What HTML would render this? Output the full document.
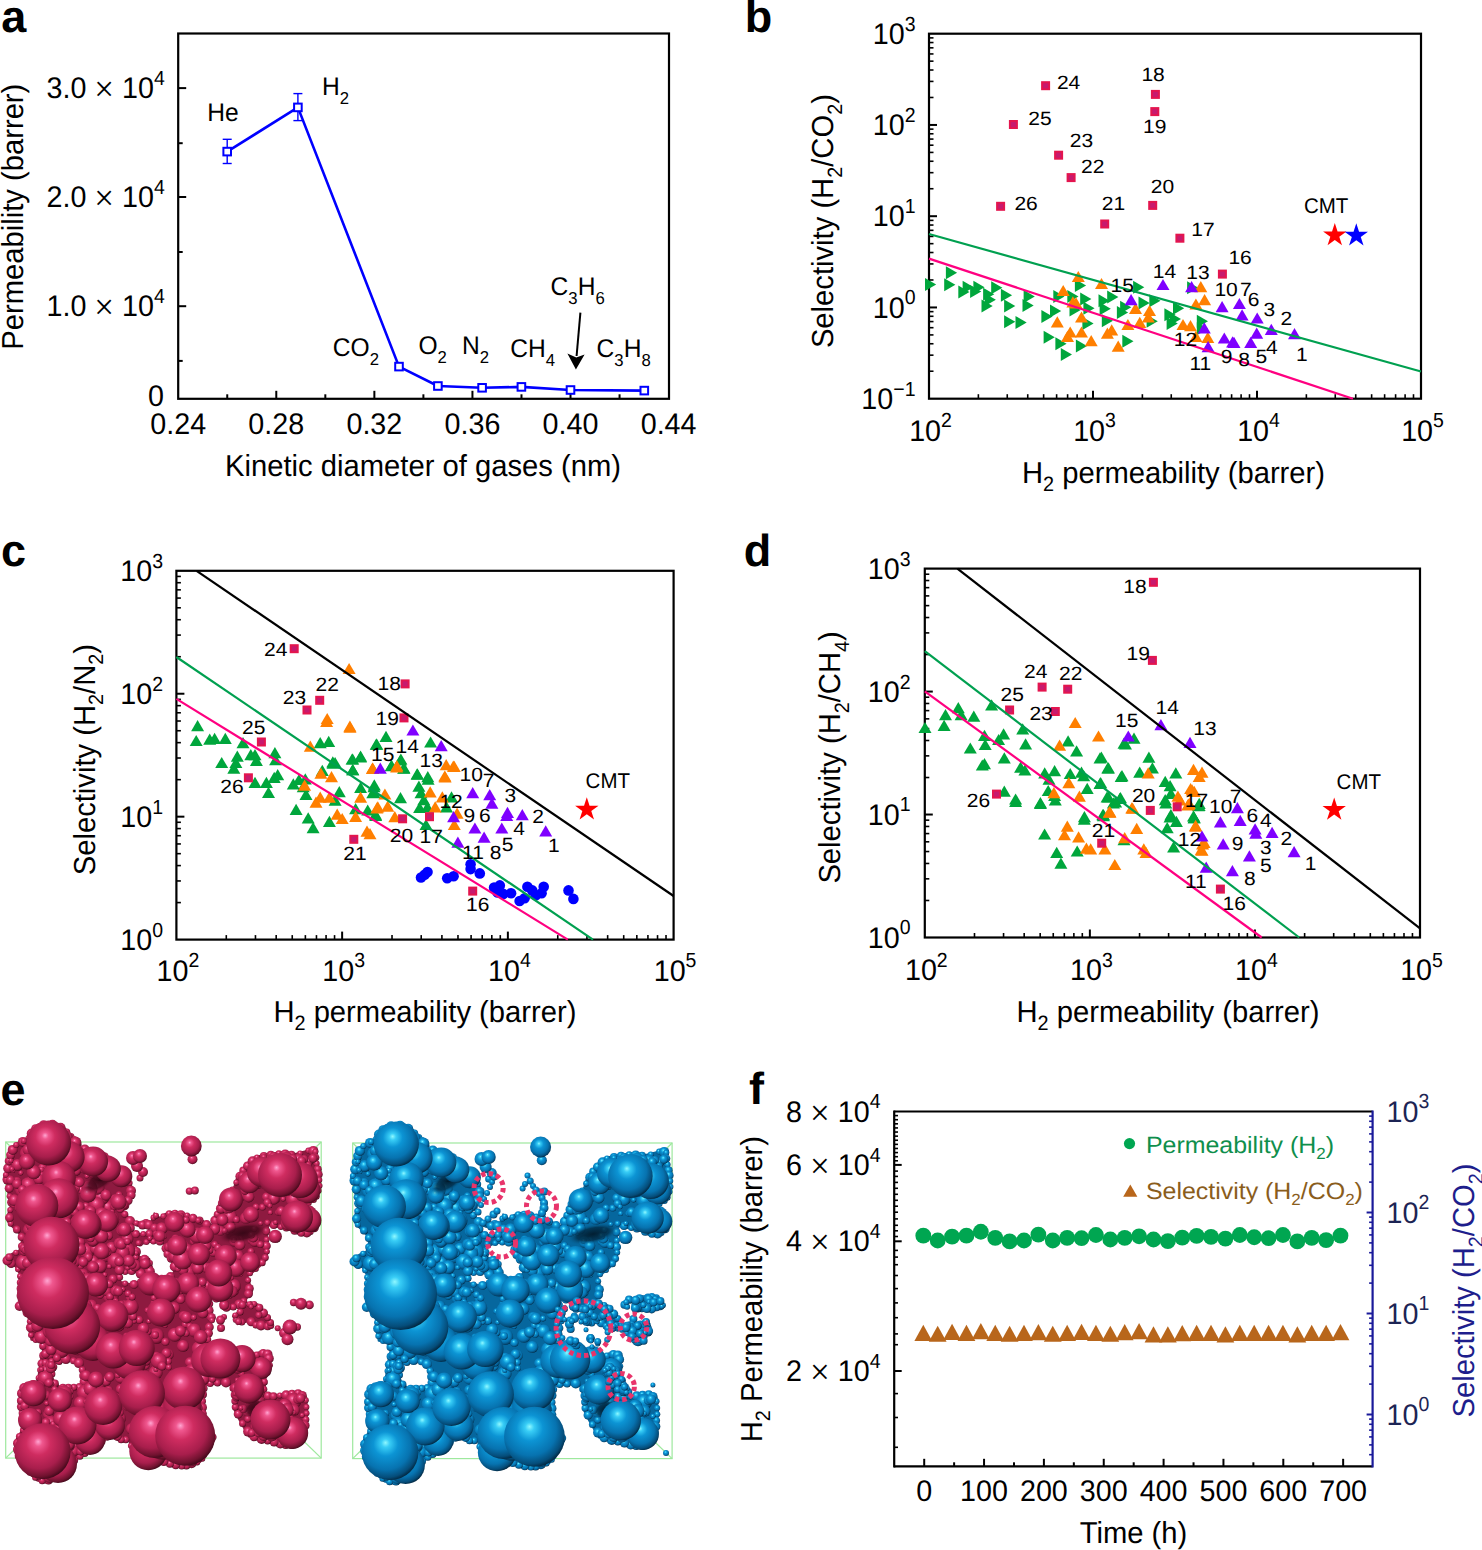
<!DOCTYPE html>
<html><head><meta charset="utf-8"><style>
html,body{margin:0;padding:0;background:#fff;overflow:hidden;}
svg{display:block;}
text{font-family:"Liberation Sans", sans-serif;text-rendering:geometricPrecision;}
</style></head><body>
<svg width="1482" height="1550" viewBox="0 0 1482 1550">
<text transform="translate(1.30,31.50)" font-size="45" fill="#000" text-anchor="start" font-weight="bold" ><tspan>a</tspan></text>
<text transform="translate(744.80,31.50)" font-size="45" fill="#000" text-anchor="start" font-weight="bold" ><tspan>b</tspan></text>
<text transform="translate(1.00,566.30)" font-size="45" fill="#000" text-anchor="start" font-weight="bold" ><tspan>c</tspan></text>
<text transform="translate(743.80,566.30)" font-size="45" fill="#000" text-anchor="start" font-weight="bold" ><tspan>d</tspan></text>
<text transform="translate(0.50,1105.40)" font-size="45" fill="#000" text-anchor="start" font-weight="bold" ><tspan>e</tspan></text>
<text transform="translate(749.00,1104.30)" font-size="45" fill="#000" text-anchor="start" font-weight="bold" ><tspan>f</tspan></text>
<rect x="178.20" y="33.50" width="490.80" height="365.30" fill="none" stroke="#000" stroke-width="2.2"/>
<line x1="227.24" y1="398.80" x2="227.24" y2="394.30" stroke="#000" stroke-width="2" />
<line x1="276.28" y1="398.80" x2="276.28" y2="390.80" stroke="#000" stroke-width="2" />
<line x1="325.32" y1="398.80" x2="325.32" y2="394.30" stroke="#000" stroke-width="2" />
<line x1="374.36" y1="398.80" x2="374.36" y2="390.80" stroke="#000" stroke-width="2" />
<line x1="423.40" y1="398.80" x2="423.40" y2="394.30" stroke="#000" stroke-width="2" />
<line x1="472.44" y1="398.80" x2="472.44" y2="390.80" stroke="#000" stroke-width="2" />
<line x1="521.48" y1="398.80" x2="521.48" y2="394.30" stroke="#000" stroke-width="2" />
<line x1="570.52" y1="398.80" x2="570.52" y2="390.80" stroke="#000" stroke-width="2" />
<line x1="619.56" y1="398.80" x2="619.56" y2="394.30" stroke="#000" stroke-width="2" />
<line x1="178.20" y1="88.10" x2="186.20" y2="88.10" stroke="#000" stroke-width="2" />
<line x1="178.20" y1="143.20" x2="182.70" y2="143.20" stroke="#000" stroke-width="2" />
<line x1="178.20" y1="197.00" x2="186.20" y2="197.00" stroke="#000" stroke-width="2" />
<line x1="178.20" y1="252.00" x2="182.70" y2="252.00" stroke="#000" stroke-width="2" />
<line x1="178.20" y1="306.20" x2="186.20" y2="306.20" stroke="#000" stroke-width="2" />
<line x1="178.20" y1="360.90" x2="182.70" y2="360.90" stroke="#000" stroke-width="2" />
<text transform="translate(46.50,98.10) scale(0.962,1)" font-size="29.82" fill="#000" text-anchor="start" ><tspan>3.0 </tspan><tspan dy="3.13" font-size="36.38" style="font-family:Liberation Serif">×</tspan><tspan dy="-3.13"> 10</tspan><tspan dy="-13.27" font-size="20.28">4</tspan></text>
<text transform="translate(46.50,207.00) scale(0.962,1)" font-size="29.82" fill="#000" text-anchor="start" ><tspan>2.0 </tspan><tspan dy="3.13" font-size="36.38" style="font-family:Liberation Serif">×</tspan><tspan dy="-3.13"> 10</tspan><tspan dy="-13.27" font-size="20.28">4</tspan></text>
<text transform="translate(46.50,316.20) scale(0.962,1)" font-size="29.82" fill="#000" text-anchor="start" ><tspan>1.0 </tspan><tspan dy="3.13" font-size="36.38" style="font-family:Liberation Serif">×</tspan><tspan dy="-3.13"> 10</tspan><tspan dy="-13.27" font-size="20.28">4</tspan></text>
<text transform="translate(148.00,405.50) scale(0.962,1)" font-size="29.82" fill="#000" text-anchor="start" ><tspan>0</tspan></text>
<text transform="translate(178.20,434.40) scale(0.962,1)" font-size="29.82" fill="#000" text-anchor="middle" ><tspan>0.24</tspan></text>
<text transform="translate(276.28,434.40) scale(0.962,1)" font-size="29.82" fill="#000" text-anchor="middle" ><tspan>0.28</tspan></text>
<text transform="translate(374.36,434.40) scale(0.962,1)" font-size="29.82" fill="#000" text-anchor="middle" ><tspan>0.32</tspan></text>
<text transform="translate(472.44,434.40) scale(0.962,1)" font-size="29.82" fill="#000" text-anchor="middle" ><tspan>0.36</tspan></text>
<text transform="translate(570.52,434.40) scale(0.962,1)" font-size="29.82" fill="#000" text-anchor="middle" ><tspan>0.40</tspan></text>
<text transform="translate(668.60,434.40) scale(0.962,1)" font-size="29.82" fill="#000" text-anchor="middle" ><tspan>0.44</tspan></text>
<text transform="translate(423.00,476.00) scale(0.962,1)" font-size="30.3525" fill="#000" text-anchor="middle" ><tspan>Kinetic diameter of gases (nm)</tspan></text>
<text transform="translate(22.80,216.70) rotate(-90) scale(0.962,1)" font-size="30.3525" fill="#000" text-anchor="middle" ><tspan>Permeability (barrer)</tspan></text>
<polyline points="227.2,151.6 297.9,107.4 399.0,366.6 437.9,386.0 482.1,387.8 521.4,386.9 570.5,390.0 644.3,390.6" fill="none" stroke="#0000ff" stroke-width="2.6" stroke-linejoin="round"/>
<line x1="227.20" y1="139.30" x2="227.20" y2="163.50" stroke="#0000ff" stroke-width="1.4" />
<line x1="222.70" y1="139.30" x2="231.70" y2="139.30" stroke="#0000ff" stroke-width="1.4" />
<line x1="222.70" y1="163.50" x2="231.70" y2="163.50" stroke="#0000ff" stroke-width="1.4" />
<line x1="297.90" y1="93.60" x2="297.90" y2="120.60" stroke="#0000ff" stroke-width="1.4" />
<line x1="293.40" y1="93.60" x2="302.40" y2="93.60" stroke="#0000ff" stroke-width="1.4" />
<line x1="293.40" y1="120.60" x2="302.40" y2="120.60" stroke="#0000ff" stroke-width="1.4" />
<rect x="223.40" y="147.80" width="7.6" height="7.6" fill="#fff" stroke="#0000ff" stroke-width="2"/>
<rect x="294.10" y="103.60" width="7.6" height="7.6" fill="#fff" stroke="#0000ff" stroke-width="2"/>
<rect x="395.20" y="362.80" width="7.6" height="7.6" fill="#fff" stroke="#0000ff" stroke-width="2"/>
<rect x="434.10" y="382.20" width="7.6" height="7.6" fill="#fff" stroke="#0000ff" stroke-width="2"/>
<rect x="478.30" y="384.00" width="7.6" height="7.6" fill="#fff" stroke="#0000ff" stroke-width="2"/>
<rect x="517.60" y="383.10" width="7.6" height="7.6" fill="#fff" stroke="#0000ff" stroke-width="2"/>
<rect x="566.70" y="386.20" width="7.6" height="7.6" fill="#fff" stroke="#0000ff" stroke-width="2"/>
<rect x="640.50" y="386.80" width="7.6" height="7.6" fill="#fff" stroke="#0000ff" stroke-width="2"/>
<text transform="translate(207.20,120.60) scale(0.962,1)" font-size="25.56" fill="#000" text-anchor="start" ><tspan>He</tspan></text>
<text transform="translate(322.10,94.90) scale(0.962,1)" font-size="25.56" fill="#000" text-anchor="start" ><tspan>H</tspan><tspan dy="8.95" font-size="17.38">2</tspan></text>
<text transform="translate(332.80,356.30) scale(0.962,1)" font-size="25.56" fill="#000" text-anchor="start" ><tspan>CO</tspan><tspan dy="8.95" font-size="17.38">2</tspan></text>
<text transform="translate(418.40,354.00) scale(0.962,1)" font-size="25.56" fill="#000" text-anchor="start" ><tspan>O</tspan><tspan dy="8.95" font-size="17.38">2</tspan></text>
<text transform="translate(462.00,354.00) scale(0.962,1)" font-size="25.56" fill="#000" text-anchor="start" ><tspan>N</tspan><tspan dy="8.95" font-size="17.38">2</tspan></text>
<text transform="translate(510.20,357.00) scale(0.962,1)" font-size="25.56" fill="#000" text-anchor="start" ><tspan>CH</tspan><tspan dy="8.95" font-size="17.38">4</tspan></text>
<text transform="translate(596.60,357.00) scale(0.962,1)" font-size="25.56" fill="#000" text-anchor="start" ><tspan>C</tspan><tspan dy="8.95" font-size="17.38">3</tspan><tspan dy="-8.95">H</tspan><tspan dy="8.95" font-size="17.38">8</tspan></text>
<text transform="translate(550.60,295.40) scale(0.962,1)" font-size="25.56" fill="#000" text-anchor="start" ><tspan>C</tspan><tspan dy="8.95" font-size="17.38">3</tspan><tspan dy="-8.95">H</tspan><tspan dy="8.95" font-size="17.38">6</tspan></text>
<line x1="580.40" y1="312.60" x2="576.60" y2="356.00" stroke="#000" stroke-width="2" />
<path d="M575.9,369.5 L567.4,353.5 L576.3,357.5 L584.6,354.5 Z" fill="#000"/>
<rect x="929.00" y="33.70" width="492.00" height="365.00" fill="none" stroke="#000" stroke-width="2.2"/>
<line x1="978.37" y1="398.70" x2="978.37" y2="394.20" stroke="#000" stroke-width="1.6" />
<line x1="1007.25" y1="398.70" x2="1007.25" y2="394.20" stroke="#000" stroke-width="1.6" />
<line x1="1027.74" y1="398.70" x2="1027.74" y2="394.20" stroke="#000" stroke-width="1.6" />
<line x1="1043.63" y1="398.70" x2="1043.63" y2="394.20" stroke="#000" stroke-width="1.6" />
<line x1="1056.62" y1="398.70" x2="1056.62" y2="394.20" stroke="#000" stroke-width="1.6" />
<line x1="1067.60" y1="398.70" x2="1067.60" y2="394.20" stroke="#000" stroke-width="1.6" />
<line x1="1077.11" y1="398.70" x2="1077.11" y2="394.20" stroke="#000" stroke-width="1.6" />
<line x1="1085.50" y1="398.70" x2="1085.50" y2="394.20" stroke="#000" stroke-width="1.6" />
<line x1="1093.00" y1="398.70" x2="1093.00" y2="390.70" stroke="#000" stroke-width="2" />
<line x1="1142.37" y1="398.70" x2="1142.37" y2="394.20" stroke="#000" stroke-width="1.6" />
<line x1="1171.25" y1="398.70" x2="1171.25" y2="394.20" stroke="#000" stroke-width="1.6" />
<line x1="1191.74" y1="398.70" x2="1191.74" y2="394.20" stroke="#000" stroke-width="1.6" />
<line x1="1207.63" y1="398.70" x2="1207.63" y2="394.20" stroke="#000" stroke-width="1.6" />
<line x1="1220.62" y1="398.70" x2="1220.62" y2="394.20" stroke="#000" stroke-width="1.6" />
<line x1="1231.60" y1="398.70" x2="1231.60" y2="394.20" stroke="#000" stroke-width="1.6" />
<line x1="1241.11" y1="398.70" x2="1241.11" y2="394.20" stroke="#000" stroke-width="1.6" />
<line x1="1249.50" y1="398.70" x2="1249.50" y2="394.20" stroke="#000" stroke-width="1.6" />
<line x1="1257.00" y1="398.70" x2="1257.00" y2="390.70" stroke="#000" stroke-width="2" />
<line x1="1306.37" y1="398.70" x2="1306.37" y2="394.20" stroke="#000" stroke-width="1.6" />
<line x1="1335.25" y1="398.70" x2="1335.25" y2="394.20" stroke="#000" stroke-width="1.6" />
<line x1="1355.74" y1="398.70" x2="1355.74" y2="394.20" stroke="#000" stroke-width="1.6" />
<line x1="1371.63" y1="398.70" x2="1371.63" y2="394.20" stroke="#000" stroke-width="1.6" />
<line x1="1384.62" y1="398.70" x2="1384.62" y2="394.20" stroke="#000" stroke-width="1.6" />
<line x1="1395.60" y1="398.70" x2="1395.60" y2="394.20" stroke="#000" stroke-width="1.6" />
<line x1="1405.11" y1="398.70" x2="1405.11" y2="394.20" stroke="#000" stroke-width="1.6" />
<line x1="1413.50" y1="398.70" x2="1413.50" y2="394.20" stroke="#000" stroke-width="1.6" />
<line x1="929.00" y1="371.23" x2="933.50" y2="371.23" stroke="#000" stroke-width="1.6" />
<line x1="929.00" y1="355.16" x2="933.50" y2="355.16" stroke="#000" stroke-width="1.6" />
<line x1="929.00" y1="343.76" x2="933.50" y2="343.76" stroke="#000" stroke-width="1.6" />
<line x1="929.00" y1="334.92" x2="933.50" y2="334.92" stroke="#000" stroke-width="1.6" />
<line x1="929.00" y1="327.69" x2="933.50" y2="327.69" stroke="#000" stroke-width="1.6" />
<line x1="929.00" y1="321.58" x2="933.50" y2="321.58" stroke="#000" stroke-width="1.6" />
<line x1="929.00" y1="316.29" x2="933.50" y2="316.29" stroke="#000" stroke-width="1.6" />
<line x1="929.00" y1="311.63" x2="933.50" y2="311.63" stroke="#000" stroke-width="1.6" />
<line x1="929.00" y1="307.45" x2="937.00" y2="307.45" stroke="#000" stroke-width="2" />
<line x1="929.00" y1="279.98" x2="933.50" y2="279.98" stroke="#000" stroke-width="1.6" />
<line x1="929.00" y1="263.91" x2="933.50" y2="263.91" stroke="#000" stroke-width="1.6" />
<line x1="929.00" y1="252.51" x2="933.50" y2="252.51" stroke="#000" stroke-width="1.6" />
<line x1="929.00" y1="243.67" x2="933.50" y2="243.67" stroke="#000" stroke-width="1.6" />
<line x1="929.00" y1="236.44" x2="933.50" y2="236.44" stroke="#000" stroke-width="1.6" />
<line x1="929.00" y1="230.33" x2="933.50" y2="230.33" stroke="#000" stroke-width="1.6" />
<line x1="929.00" y1="225.04" x2="933.50" y2="225.04" stroke="#000" stroke-width="1.6" />
<line x1="929.00" y1="220.38" x2="933.50" y2="220.38" stroke="#000" stroke-width="1.6" />
<line x1="929.00" y1="216.20" x2="937.00" y2="216.20" stroke="#000" stroke-width="2" />
<line x1="929.00" y1="188.73" x2="933.50" y2="188.73" stroke="#000" stroke-width="1.6" />
<line x1="929.00" y1="172.66" x2="933.50" y2="172.66" stroke="#000" stroke-width="1.6" />
<line x1="929.00" y1="161.26" x2="933.50" y2="161.26" stroke="#000" stroke-width="1.6" />
<line x1="929.00" y1="152.42" x2="933.50" y2="152.42" stroke="#000" stroke-width="1.6" />
<line x1="929.00" y1="145.19" x2="933.50" y2="145.19" stroke="#000" stroke-width="1.6" />
<line x1="929.00" y1="139.08" x2="933.50" y2="139.08" stroke="#000" stroke-width="1.6" />
<line x1="929.00" y1="133.79" x2="933.50" y2="133.79" stroke="#000" stroke-width="1.6" />
<line x1="929.00" y1="129.13" x2="933.50" y2="129.13" stroke="#000" stroke-width="1.6" />
<line x1="929.00" y1="124.95" x2="937.00" y2="124.95" stroke="#000" stroke-width="2" />
<line x1="929.00" y1="97.48" x2="933.50" y2="97.48" stroke="#000" stroke-width="1.6" />
<line x1="929.00" y1="81.41" x2="933.50" y2="81.41" stroke="#000" stroke-width="1.6" />
<line x1="929.00" y1="70.01" x2="933.50" y2="70.01" stroke="#000" stroke-width="1.6" />
<line x1="929.00" y1="61.17" x2="933.50" y2="61.17" stroke="#000" stroke-width="1.6" />
<line x1="929.00" y1="53.94" x2="933.50" y2="53.94" stroke="#000" stroke-width="1.6" />
<line x1="929.00" y1="47.83" x2="933.50" y2="47.83" stroke="#000" stroke-width="1.6" />
<line x1="929.00" y1="42.54" x2="933.50" y2="42.54" stroke="#000" stroke-width="1.6" />
<line x1="929.00" y1="37.88" x2="933.50" y2="37.88" stroke="#000" stroke-width="1.6" />
<text transform="translate(915.50,408.90) scale(0.962,1)" font-size="29.82" fill="#000" text-anchor="end" ><tspan>10</tspan><tspan dy="-13.27" font-size="20.28">−1</tspan></text>
<text transform="translate(915.50,317.65) scale(0.962,1)" font-size="29.82" fill="#000" text-anchor="end" ><tspan>10</tspan><tspan dy="-13.27" font-size="20.28">0</tspan></text>
<text transform="translate(915.50,226.40) scale(0.962,1)" font-size="29.82" fill="#000" text-anchor="end" ><tspan>10</tspan><tspan dy="-13.27" font-size="20.28">1</tspan></text>
<text transform="translate(915.50,135.15) scale(0.962,1)" font-size="29.82" fill="#000" text-anchor="end" ><tspan>10</tspan><tspan dy="-13.27" font-size="20.28">2</tspan></text>
<text transform="translate(915.50,43.90) scale(0.962,1)" font-size="29.82" fill="#000" text-anchor="end" ><tspan>10</tspan><tspan dy="-13.27" font-size="20.28">3</tspan></text>
<text transform="translate(930.50,440.50) scale(0.962,1)" font-size="29.82" fill="#000" text-anchor="middle" ><tspan>10</tspan><tspan dy="-13.27" font-size="20.28">2</tspan></text>
<text transform="translate(1094.50,440.50) scale(0.962,1)" font-size="29.82" fill="#000" text-anchor="middle" ><tspan>10</tspan><tspan dy="-13.27" font-size="20.28">3</tspan></text>
<text transform="translate(1258.50,440.50) scale(0.962,1)" font-size="29.82" fill="#000" text-anchor="middle" ><tspan>10</tspan><tspan dy="-13.27" font-size="20.28">4</tspan></text>
<text transform="translate(1422.50,440.50) scale(0.962,1)" font-size="29.82" fill="#000" text-anchor="middle" ><tspan>10</tspan><tspan dy="-13.27" font-size="20.28">5</tspan></text>
<text transform="translate(1173.50,482.50) scale(0.962,1)" font-size="30.3525" fill="#000" text-anchor="middle" ><tspan>H</tspan><tspan dy="8.50" font-size="20.64">2</tspan><tspan dy="-8.50"> permeability (barrer)</tspan></text>
<text transform="translate(833.40,221.10) rotate(-90) scale(0.962,1)" font-size="30.3525" fill="#000" text-anchor="middle" ><tspan>Selectivity (H</tspan><tspan dy="8.50" font-size="20.64">2</tspan><tspan dy="-8.50">/CO</tspan><tspan dy="8.50" font-size="20.64">2</tspan><tspan dy="-8.50">)</tspan></text>
<path d="M925.00,278.00L925.00,291.00L936.20,284.50Z" fill="#00a63c"/>
<path d="M945.90,266.20L945.90,279.20L957.10,272.70Z" fill="#00a63c"/>
<path d="M944.20,278.30L944.20,291.30L955.40,284.80Z" fill="#00a63c"/>
<path d="M958.30,285.60L958.30,298.60L969.50,292.10Z" fill="#00a63c"/>
<path d="M962.60,280.70L962.60,293.70L973.80,287.20Z" fill="#00a63c"/>
<path d="M970.10,285.10L970.10,298.10L981.30,291.60Z" fill="#00a63c"/>
<path d="M973.40,280.70L973.40,293.70L984.60,287.20Z" fill="#00a63c"/>
<path d="M983.10,287.80L983.10,300.80L994.30,294.30Z" fill="#00a63c"/>
<path d="M981.50,299.60L981.50,312.60L992.70,306.10Z" fill="#00a63c"/>
<path d="M991.20,281.30L991.20,294.30L1002.40,287.80Z" fill="#00a63c"/>
<path d="M984.70,293.20L984.70,306.20L995.90,299.70Z" fill="#00a63c"/>
<path d="M1000.90,288.80L1000.90,301.80L1012.10,295.30Z" fill="#00a63c"/>
<path d="M1004.10,299.60L1004.10,312.60L1015.30,306.10Z" fill="#00a63c"/>
<path d="M1023.60,289.90L1023.60,302.90L1034.80,296.40Z" fill="#00a63c"/>
<path d="M1022.50,299.10L1022.50,312.10L1033.70,305.60Z" fill="#00a63c"/>
<path d="M1004.10,315.30L1004.10,328.30L1015.30,321.80Z" fill="#00a63c"/>
<path d="M1015.50,316.00L1015.50,329.00L1026.70,322.50Z" fill="#00a63c"/>
<path d="M1053.30,289.90L1053.30,302.90L1064.50,296.40Z" fill="#00a63c"/>
<path d="M1050.00,304.50L1050.00,317.50L1061.20,311.00Z" fill="#00a63c"/>
<path d="M1041.40,309.90L1041.40,322.90L1052.60,316.40Z" fill="#00a63c"/>
<path d="M1043.60,330.70L1043.60,343.70L1054.80,337.20Z" fill="#00a63c"/>
<path d="M1055.40,337.20L1055.40,350.20L1066.60,343.70Z" fill="#00a63c"/>
<path d="M1060.80,348.00L1060.80,361.00L1072.00,354.50Z" fill="#00a63c"/>
<path d="M1067.30,289.90L1067.30,302.90L1078.50,296.40Z" fill="#00a63c"/>
<path d="M1069.50,303.40L1069.50,316.40L1080.70,309.90Z" fill="#00a63c"/>
<path d="M1074.90,279.10L1074.90,292.10L1086.10,285.60Z" fill="#00a63c"/>
<path d="M1075.90,339.60L1075.90,352.60L1087.10,346.10Z" fill="#00a63c"/>
<path d="M1080.20,292.60L1080.20,305.60L1091.40,299.10Z" fill="#00a63c"/>
<path d="M1083.40,301.80L1083.40,314.80L1094.60,308.30Z" fill="#00a63c"/>
<path d="M1082.40,316.90L1082.40,329.90L1093.60,323.40Z" fill="#00a63c"/>
<path d="M1098.50,294.20L1098.50,307.20L1109.70,300.70Z" fill="#00a63c"/>
<path d="M1107.20,290.50L1107.20,303.50L1118.40,297.00Z" fill="#00a63c"/>
<path d="M1099.60,302.30L1099.60,315.30L1110.80,308.80Z" fill="#00a63c"/>
<path d="M1101.80,314.20L1101.80,327.20L1113.00,320.70Z" fill="#00a63c"/>
<path d="M1116.90,306.10L1116.90,319.10L1128.10,312.60Z" fill="#00a63c"/>
<path d="M1120.10,300.70L1120.10,313.70L1131.30,307.20Z" fill="#00a63c"/>
<path d="M1122.30,334.70L1122.30,347.70L1133.50,341.20Z" fill="#00a63c"/>
<path d="M1133.10,280.70L1133.10,293.70L1144.30,287.20Z" fill="#00a63c"/>
<path d="M1138.50,296.40L1138.50,309.40L1149.70,302.90Z" fill="#00a63c"/>
<path d="M1146.60,314.80L1146.60,327.80L1157.80,321.30Z" fill="#00a63c"/>
<path d="M1149.30,294.20L1149.30,307.20L1160.50,300.70Z" fill="#00a63c"/>
<path d="M1164.40,308.30L1164.40,321.30L1175.60,314.80Z" fill="#00a63c"/>
<path d="M1166.60,316.90L1166.60,329.90L1177.80,323.40Z" fill="#00a63c"/>
<path d="M1169.80,312.60L1169.80,325.60L1181.00,319.10Z" fill="#00a63c"/>
<path d="M1173.00,301.80L1173.00,314.80L1184.20,308.30Z" fill="#00a63c"/>
<path d="M1196.80,314.80L1196.80,327.80L1208.00,321.30Z" fill="#00a63c"/>
<path d="M1196.80,322.30L1196.80,335.30L1208.00,328.80Z" fill="#00a63c"/>
<path d="M1187.10,281.30L1187.10,294.30L1198.30,287.80Z" fill="#00a63c"/>
<path d="M1071.80,282.10L1084.80,282.10L1078.30,270.90Z" fill="#ff7f00"/>
<path d="M1056.70,296.10L1069.70,296.10L1063.20,284.90Z" fill="#ff7f00"/>
<path d="M1066.40,307.40L1079.40,307.40L1072.90,296.20Z" fill="#ff7f00"/>
<path d="M1050.80,327.40L1063.80,327.40L1057.30,316.20Z" fill="#ff7f00"/>
<path d="M1063.70,337.60L1076.70,337.60L1070.20,326.40Z" fill="#ff7f00"/>
<path d="M1061.00,342.00L1074.00,342.00L1067.50,330.80Z" fill="#ff7f00"/>
<path d="M1075.00,337.60L1088.00,337.60L1081.50,326.40Z" fill="#ff7f00"/>
<path d="M1075.00,322.60L1088.00,322.60L1081.50,311.40Z" fill="#ff7f00"/>
<path d="M1095.00,289.10L1108.00,289.10L1101.50,277.90Z" fill="#ff7f00"/>
<path d="M1069.50,308.50L1082.50,308.50L1076.00,297.30Z" fill="#ff7f00"/>
<path d="M1084.70,346.30L1097.70,346.30L1091.20,335.10Z" fill="#ff7f00"/>
<path d="M1100.90,338.70L1113.90,338.70L1107.40,327.50Z" fill="#ff7f00"/>
<path d="M1105.20,335.50L1118.20,335.50L1111.70,324.30Z" fill="#ff7f00"/>
<path d="M1111.70,351.70L1124.70,351.70L1118.20,340.50Z" fill="#ff7f00"/>
<path d="M1121.40,330.10L1134.40,330.10L1127.90,318.90Z" fill="#ff7f00"/>
<path d="M1129.00,313.90L1142.00,313.90L1135.50,302.70Z" fill="#ff7f00"/>
<path d="M1133.30,327.90L1146.30,327.90L1139.80,316.70Z" fill="#ff7f00"/>
<path d="M1143.00,316.10L1156.00,316.10L1149.50,304.90Z" fill="#ff7f00"/>
<path d="M1141.90,322.50L1154.90,322.50L1148.40,311.30Z" fill="#ff7f00"/>
<path d="M1176.50,330.10L1189.50,330.10L1183.00,318.90Z" fill="#ff7f00"/>
<path d="M1184.00,331.20L1197.00,331.20L1190.50,320.00Z" fill="#ff7f00"/>
<path d="M1189.40,309.60L1202.40,309.60L1195.90,298.40Z" fill="#ff7f00"/>
<path d="M1198.10,305.30L1211.10,305.30L1204.60,294.10Z" fill="#ff7f00"/>
<path d="M1194.30,292.30L1207.30,292.30L1200.80,281.10Z" fill="#ff7f00"/>
<path d="M1189.40,342.00L1202.40,342.00L1195.90,330.80Z" fill="#ff7f00"/>
<path d="M1201.30,343.00L1214.30,343.00L1207.80,331.80Z" fill="#ff7f00"/>
<path d="M1124.60,305.30L1137.60,305.30L1131.10,294.10Z" fill="#7f00ff"/>
<path d="M1156.50,290.10L1169.50,290.10L1163.00,278.90Z" fill="#7f00ff"/>
<path d="M1185.10,292.30L1198.10,292.30L1191.60,281.10Z" fill="#7f00ff"/>
<path d="M1215.60,312.30L1228.60,312.30L1222.10,301.10Z" fill="#7f00ff"/>
<path d="M1232.90,309.10L1245.90,309.10L1239.40,297.90Z" fill="#7f00ff"/>
<path d="M1235.60,320.40L1248.60,320.40L1242.10,309.20Z" fill="#7f00ff"/>
<path d="M1250.70,323.60L1263.70,323.60L1257.20,312.40Z" fill="#7f00ff"/>
<path d="M1250.20,338.80L1263.20,338.80L1256.70,327.60Z" fill="#7f00ff"/>
<path d="M1264.80,335.00L1277.80,335.00L1271.30,323.80Z" fill="#7f00ff"/>
<path d="M1288.00,339.30L1301.00,339.30L1294.50,328.10Z" fill="#7f00ff"/>
<path d="M1217.80,343.60L1230.80,343.60L1224.30,332.40Z" fill="#7f00ff"/>
<path d="M1227.50,347.90L1240.50,347.90L1234.00,336.70Z" fill="#7f00ff"/>
<path d="M1244.20,347.90L1257.20,347.90L1250.70,336.70Z" fill="#7f00ff"/>
<path d="M1197.80,333.40L1210.80,333.40L1204.30,322.20Z" fill="#7f00ff"/>
<path d="M1201.60,352.30L1214.60,352.30L1208.10,341.10Z" fill="#7f00ff"/>
<path d="M1226.10,347.40L1239.10,347.40L1232.60,336.20Z" fill="#7f00ff"/>
<rect x="1041.10" y="81.20" width="9.0" height="9.0" fill="#e4154e"/>
<rect x="1043.10" y="83.20" width="5.0" height="5.0" fill="#c71a6e"/>
<rect x="1008.90" y="120.00" width="9.0" height="9.0" fill="#e4154e"/>
<rect x="1010.90" y="122.00" width="5.0" height="5.0" fill="#c71a6e"/>
<rect x="1054.10" y="150.70" width="9.0" height="9.0" fill="#e4154e"/>
<rect x="1056.10" y="152.70" width="5.0" height="5.0" fill="#c71a6e"/>
<rect x="1066.60" y="173.10" width="9.0" height="9.0" fill="#e4154e"/>
<rect x="1068.60" y="175.10" width="5.0" height="5.0" fill="#c71a6e"/>
<rect x="996.10" y="201.80" width="9.0" height="9.0" fill="#e4154e"/>
<rect x="998.10" y="203.80" width="5.0" height="5.0" fill="#c71a6e"/>
<rect x="1100.20" y="219.50" width="9.0" height="9.0" fill="#e4154e"/>
<rect x="1102.20" y="221.50" width="5.0" height="5.0" fill="#c71a6e"/>
<rect x="1148.20" y="200.90" width="9.0" height="9.0" fill="#e4154e"/>
<rect x="1150.20" y="202.90" width="5.0" height="5.0" fill="#c71a6e"/>
<rect x="1150.90" y="89.90" width="9.0" height="9.0" fill="#e4154e"/>
<rect x="1152.90" y="91.90" width="5.0" height="5.0" fill="#c71a6e"/>
<rect x="1150.30" y="107.10" width="9.0" height="9.0" fill="#e4154e"/>
<rect x="1152.30" y="109.10" width="5.0" height="5.0" fill="#c71a6e"/>
<rect x="1175.40" y="233.70" width="9.0" height="9.0" fill="#e4154e"/>
<rect x="1177.40" y="235.70" width="5.0" height="5.0" fill="#c71a6e"/>
<rect x="1217.90" y="269.60" width="9.0" height="9.0" fill="#e4154e"/>
<rect x="1219.90" y="271.60" width="5.0" height="5.0" fill="#c71a6e"/>
<line x1="929.00" y1="234.00" x2="1421.00" y2="371.50" stroke="#00a050" stroke-width="2.2" />
<line x1="929.00" y1="258.60" x2="1353.00" y2="398.70" stroke="#ff0080" stroke-width="2.2" />
<polygon points="1334.80,223.00 1337.56,231.50 1346.50,231.50 1339.27,236.75 1342.03,245.25 1334.80,240.00 1327.57,245.25 1330.33,236.75 1323.10,231.50 1332.04,231.50" fill="#ff0000"/>
<polygon points="1356.30,223.30 1359.06,231.80 1368.00,231.80 1360.77,237.05 1363.53,245.55 1356.30,240.30 1349.07,245.55 1351.83,237.05 1344.60,231.80 1353.54,231.80" fill="#0000ff"/>
<text transform="translate(1304.00,212.50) scale(0.962,1)" font-size="21.299999999999997" fill="#000" text-anchor="start" ><tspan>CMT</tspan></text>
<text transform="translate(1056.90,89.00) scale(1.0966799999999999,1)" font-size="19.169999999999998" fill="#000" text-anchor="start" ><tspan>24</tspan></text>
<text transform="translate(1028.20,125.00) scale(1.0966799999999999,1)" font-size="19.169999999999998" fill="#000" text-anchor="start" ><tspan>25</tspan></text>
<text transform="translate(1069.70,147.20) scale(1.0966799999999999,1)" font-size="19.169999999999998" fill="#000" text-anchor="start" ><tspan>23</tspan></text>
<text transform="translate(1081.00,173.40) scale(1.0966799999999999,1)" font-size="19.169999999999998" fill="#000" text-anchor="start" ><tspan>22</tspan></text>
<text transform="translate(1014.40,209.70) scale(1.0966799999999999,1)" font-size="19.169999999999998" fill="#000" text-anchor="start" ><tspan>26</tspan></text>
<text transform="translate(1101.80,209.70) scale(1.0966799999999999,1)" font-size="19.169999999999998" fill="#000" text-anchor="start" ><tspan>21</tspan></text>
<text transform="translate(1150.70,193.30) scale(1.0966799999999999,1)" font-size="19.169999999999998" fill="#000" text-anchor="start" ><tspan>20</tspan></text>
<text transform="translate(1141.40,81.00) scale(1.0966799999999999,1)" font-size="19.169999999999998" fill="#000" text-anchor="start" ><tspan>18</tspan></text>
<text transform="translate(1143.00,133.40) scale(1.0966799999999999,1)" font-size="19.169999999999998" fill="#000" text-anchor="start" ><tspan>19</tspan></text>
<text transform="translate(1191.20,236.30) scale(1.0966799999999999,1)" font-size="19.169999999999998" fill="#000" text-anchor="start" ><tspan>17</tspan></text>
<text transform="translate(1228.40,263.70) scale(1.0966799999999999,1)" font-size="19.169999999999998" fill="#000" text-anchor="start" ><tspan>16</tspan></text>
<text transform="translate(1110.60,291.60) scale(1.0966799999999999,1)" font-size="19.169999999999998" fill="#000" text-anchor="start" ><tspan>15</tspan></text>
<text transform="translate(1152.70,277.50) scale(1.0966799999999999,1)" font-size="19.169999999999998" fill="#000" text-anchor="start" ><tspan>14</tspan></text>
<text transform="translate(1186.20,278.60) scale(1.0966799999999999,1)" font-size="19.169999999999998" fill="#000" text-anchor="start" ><tspan>13</tspan></text>
<text transform="translate(1173.80,345.50) scale(1.0966799999999999,1)" font-size="19.169999999999998" fill="#000" text-anchor="start" ><tspan>12</tspan></text>
<text transform="translate(1189.50,370.00) scale(1.0966799999999999,1)" font-size="19.169999999999998" fill="#000" text-anchor="start" ><tspan>11</tspan></text>
<text transform="translate(1214.40,296.40) scale(1.0966799999999999,1)" font-size="19.169999999999998" fill="#000" text-anchor="start" ><tspan>10</tspan></text>
<text transform="translate(1220.80,362.80) scale(1.0966799999999999,1)" font-size="19.169999999999998" fill="#000" text-anchor="start" ><tspan>9</tspan></text>
<text transform="translate(1238.30,365.50) scale(1.0966799999999999,1)" font-size="19.169999999999998" fill="#000" text-anchor="start" ><tspan>8</tspan></text>
<text transform="translate(1240.00,296.00) scale(1.0966799999999999,1)" font-size="19.169999999999998" fill="#000" text-anchor="start" ><tspan>7</tspan></text>
<text transform="translate(1247.70,305.60) scale(1.0966799999999999,1)" font-size="19.169999999999998" fill="#000" text-anchor="start" ><tspan>6</tspan></text>
<text transform="translate(1255.60,362.90) scale(1.0966799999999999,1)" font-size="19.169999999999998" fill="#000" text-anchor="start" ><tspan>5</tspan></text>
<text transform="translate(1266.10,353.70) scale(1.0966799999999999,1)" font-size="19.169999999999998" fill="#000" text-anchor="start" ><tspan>4</tspan></text>
<text transform="translate(1263.50,315.80) scale(1.0966799999999999,1)" font-size="19.169999999999998" fill="#000" text-anchor="start" ><tspan>3</tspan></text>
<text transform="translate(1280.40,324.50) scale(1.0966799999999999,1)" font-size="19.169999999999998" fill="#000" text-anchor="start" ><tspan>2</tspan></text>
<text transform="translate(1296.10,361.20) scale(1.0966799999999999,1)" font-size="19.169999999999998" fill="#000" text-anchor="start" ><tspan>1</tspan></text>
<rect x="176.40" y="570.80" width="497.20" height="368.80" fill="none" stroke="#000" stroke-width="2.2"/>
<line x1="226.29" y1="939.60" x2="226.29" y2="935.10" stroke="#000" stroke-width="1.6" />
<line x1="255.47" y1="939.60" x2="255.47" y2="935.10" stroke="#000" stroke-width="1.6" />
<line x1="276.18" y1="939.60" x2="276.18" y2="935.10" stroke="#000" stroke-width="1.6" />
<line x1="292.24" y1="939.60" x2="292.24" y2="935.10" stroke="#000" stroke-width="1.6" />
<line x1="305.37" y1="939.60" x2="305.37" y2="935.10" stroke="#000" stroke-width="1.6" />
<line x1="316.46" y1="939.60" x2="316.46" y2="935.10" stroke="#000" stroke-width="1.6" />
<line x1="326.07" y1="939.60" x2="326.07" y2="935.10" stroke="#000" stroke-width="1.6" />
<line x1="334.55" y1="939.60" x2="334.55" y2="935.10" stroke="#000" stroke-width="1.6" />
<line x1="342.13" y1="939.60" x2="342.13" y2="931.60" stroke="#000" stroke-width="2" />
<line x1="392.02" y1="939.60" x2="392.02" y2="935.10" stroke="#000" stroke-width="1.6" />
<line x1="421.21" y1="939.60" x2="421.21" y2="935.10" stroke="#000" stroke-width="1.6" />
<line x1="441.91" y1="939.60" x2="441.91" y2="935.10" stroke="#000" stroke-width="1.6" />
<line x1="457.98" y1="939.60" x2="457.98" y2="935.10" stroke="#000" stroke-width="1.6" />
<line x1="471.10" y1="939.60" x2="471.10" y2="935.10" stroke="#000" stroke-width="1.6" />
<line x1="482.19" y1="939.60" x2="482.19" y2="935.10" stroke="#000" stroke-width="1.6" />
<line x1="491.81" y1="939.60" x2="491.81" y2="935.10" stroke="#000" stroke-width="1.6" />
<line x1="500.28" y1="939.60" x2="500.28" y2="935.10" stroke="#000" stroke-width="1.6" />
<line x1="507.87" y1="939.60" x2="507.87" y2="931.60" stroke="#000" stroke-width="2" />
<line x1="557.76" y1="939.60" x2="557.76" y2="935.10" stroke="#000" stroke-width="1.6" />
<line x1="586.94" y1="939.60" x2="586.94" y2="935.10" stroke="#000" stroke-width="1.6" />
<line x1="607.65" y1="939.60" x2="607.65" y2="935.10" stroke="#000" stroke-width="1.6" />
<line x1="623.71" y1="939.60" x2="623.71" y2="935.10" stroke="#000" stroke-width="1.6" />
<line x1="636.83" y1="939.60" x2="636.83" y2="935.10" stroke="#000" stroke-width="1.6" />
<line x1="647.93" y1="939.60" x2="647.93" y2="935.10" stroke="#000" stroke-width="1.6" />
<line x1="657.54" y1="939.60" x2="657.54" y2="935.10" stroke="#000" stroke-width="1.6" />
<line x1="666.02" y1="939.60" x2="666.02" y2="935.10" stroke="#000" stroke-width="1.6" />
<line x1="176.40" y1="902.59" x2="180.90" y2="902.59" stroke="#000" stroke-width="1.6" />
<line x1="176.40" y1="880.95" x2="180.90" y2="880.95" stroke="#000" stroke-width="1.6" />
<line x1="176.40" y1="865.59" x2="180.90" y2="865.59" stroke="#000" stroke-width="1.6" />
<line x1="176.40" y1="853.67" x2="180.90" y2="853.67" stroke="#000" stroke-width="1.6" />
<line x1="176.40" y1="843.94" x2="180.90" y2="843.94" stroke="#000" stroke-width="1.6" />
<line x1="176.40" y1="835.71" x2="180.90" y2="835.71" stroke="#000" stroke-width="1.6" />
<line x1="176.40" y1="828.58" x2="180.90" y2="828.58" stroke="#000" stroke-width="1.6" />
<line x1="176.40" y1="822.29" x2="180.90" y2="822.29" stroke="#000" stroke-width="1.6" />
<line x1="176.40" y1="816.67" x2="184.40" y2="816.67" stroke="#000" stroke-width="2" />
<line x1="176.40" y1="779.66" x2="180.90" y2="779.66" stroke="#000" stroke-width="1.6" />
<line x1="176.40" y1="758.01" x2="180.90" y2="758.01" stroke="#000" stroke-width="1.6" />
<line x1="176.40" y1="742.65" x2="180.90" y2="742.65" stroke="#000" stroke-width="1.6" />
<line x1="176.40" y1="730.74" x2="180.90" y2="730.74" stroke="#000" stroke-width="1.6" />
<line x1="176.40" y1="721.01" x2="180.90" y2="721.01" stroke="#000" stroke-width="1.6" />
<line x1="176.40" y1="712.78" x2="180.90" y2="712.78" stroke="#000" stroke-width="1.6" />
<line x1="176.40" y1="705.65" x2="180.90" y2="705.65" stroke="#000" stroke-width="1.6" />
<line x1="176.40" y1="699.36" x2="180.90" y2="699.36" stroke="#000" stroke-width="1.6" />
<line x1="176.40" y1="693.73" x2="184.40" y2="693.73" stroke="#000" stroke-width="2" />
<line x1="176.40" y1="656.73" x2="180.90" y2="656.73" stroke="#000" stroke-width="1.6" />
<line x1="176.40" y1="635.08" x2="180.90" y2="635.08" stroke="#000" stroke-width="1.6" />
<line x1="176.40" y1="619.72" x2="180.90" y2="619.72" stroke="#000" stroke-width="1.6" />
<line x1="176.40" y1="607.81" x2="180.90" y2="607.81" stroke="#000" stroke-width="1.6" />
<line x1="176.40" y1="598.07" x2="180.90" y2="598.07" stroke="#000" stroke-width="1.6" />
<line x1="176.40" y1="589.84" x2="180.90" y2="589.84" stroke="#000" stroke-width="1.6" />
<line x1="176.40" y1="582.71" x2="180.90" y2="582.71" stroke="#000" stroke-width="1.6" />
<line x1="176.40" y1="576.43" x2="180.90" y2="576.43" stroke="#000" stroke-width="1.6" />
<text transform="translate(163.00,949.80) scale(0.962,1)" font-size="29.82" fill="#000" text-anchor="end" ><tspan>10</tspan><tspan dy="-13.27" font-size="20.28">0</tspan></text>
<text transform="translate(163.00,826.87) scale(0.962,1)" font-size="29.82" fill="#000" text-anchor="end" ><tspan>10</tspan><tspan dy="-13.27" font-size="20.28">1</tspan></text>
<text transform="translate(163.00,703.93) scale(0.962,1)" font-size="29.82" fill="#000" text-anchor="end" ><tspan>10</tspan><tspan dy="-13.27" font-size="20.28">2</tspan></text>
<text transform="translate(163.00,581.00) scale(0.962,1)" font-size="29.82" fill="#000" text-anchor="end" ><tspan>10</tspan><tspan dy="-13.27" font-size="20.28">3</tspan></text>
<text transform="translate(177.90,980.50) scale(0.962,1)" font-size="29.82" fill="#000" text-anchor="middle" ><tspan>10</tspan><tspan dy="-13.27" font-size="20.28">2</tspan></text>
<text transform="translate(343.63,980.50) scale(0.962,1)" font-size="29.82" fill="#000" text-anchor="middle" ><tspan>10</tspan><tspan dy="-13.27" font-size="20.28">3</tspan></text>
<text transform="translate(509.37,980.50) scale(0.962,1)" font-size="29.82" fill="#000" text-anchor="middle" ><tspan>10</tspan><tspan dy="-13.27" font-size="20.28">4</tspan></text>
<text transform="translate(675.10,980.50) scale(0.962,1)" font-size="29.82" fill="#000" text-anchor="middle" ><tspan>10</tspan><tspan dy="-13.27" font-size="20.28">5</tspan></text>
<text transform="translate(424.90,1021.70) scale(0.962,1)" font-size="30.3525" fill="#000" text-anchor="middle" ><tspan>H</tspan><tspan dy="8.50" font-size="20.64">2</tspan><tspan dy="-8.50"> permeability (barrer)</tspan></text>
<text transform="translate(94.90,759.60) rotate(-90) scale(0.962,1)" font-size="30.3525" fill="#000" text-anchor="middle" ><tspan>Selectivity (H</tspan><tspan dy="8.50" font-size="20.64">2</tspan><tspan dy="-8.50">/N</tspan><tspan dy="8.50" font-size="20.64">2</tspan><tspan dy="-8.50">)</tspan></text>
<path d="M191.10,731.30L204.10,731.30L197.60,720.10Z" fill="#00a63c"/>
<path d="M189.70,746.10L202.70,746.10L196.20,734.90Z" fill="#00a63c"/>
<path d="M203.20,744.70L216.20,744.70L209.70,733.50Z" fill="#00a63c"/>
<path d="M208.10,744.00L221.10,744.00L214.60,732.80Z" fill="#00a63c"/>
<path d="M218.80,744.00L231.80,744.00L225.30,732.80Z" fill="#00a63c"/>
<path d="M236.50,748.30L249.50,748.30L243.00,737.10Z" fill="#00a63c"/>
<path d="M215.20,768.10L228.20,768.10L221.70,756.90Z" fill="#00a63c"/>
<path d="M230.80,761.70L243.80,761.70L237.30,750.50Z" fill="#00a63c"/>
<path d="M229.40,768.10L242.40,768.10L235.90,756.90Z" fill="#00a63c"/>
<path d="M227.30,773.80L240.30,773.80L233.80,762.60Z" fill="#00a63c"/>
<path d="M244.30,760.30L257.30,760.30L250.80,749.10Z" fill="#00a63c"/>
<path d="M248.50,760.30L261.50,760.30L255.00,749.10Z" fill="#00a63c"/>
<path d="M249.90,766.00L262.90,766.00L256.40,754.80Z" fill="#00a63c"/>
<path d="M268.40,758.20L281.40,758.20L274.90,747.00Z" fill="#00a63c"/>
<path d="M269.10,765.30L282.10,765.30L275.60,754.10Z" fill="#00a63c"/>
<path d="M248.50,787.90L261.50,787.90L255.00,776.70Z" fill="#00a63c"/>
<path d="M259.90,787.90L272.90,787.90L266.40,776.70Z" fill="#00a63c"/>
<path d="M267.70,783.00L280.70,783.00L274.20,771.80Z" fill="#00a63c"/>
<path d="M271.20,780.20L284.20,780.20L277.70,769.00Z" fill="#00a63c"/>
<path d="M262.00,797.90L275.00,797.90L268.50,786.70Z" fill="#00a63c"/>
<path d="M286.80,789.40L299.80,789.40L293.30,778.20Z" fill="#00a63c"/>
<path d="M292.50,785.10L305.50,785.10L299.00,773.90Z" fill="#00a63c"/>
<path d="M298.80,784.40L311.80,784.40L305.30,773.20Z" fill="#00a63c"/>
<path d="M296.70,792.20L309.70,792.20L303.20,781.00Z" fill="#00a63c"/>
<path d="M299.50,800.00L312.50,800.00L306.00,788.80Z" fill="#00a63c"/>
<path d="M289.60,814.90L302.60,814.90L296.10,803.70Z" fill="#00a63c"/>
<path d="M301.70,823.40L314.70,823.40L308.20,812.20Z" fill="#00a63c"/>
<path d="M306.60,833.30L319.60,833.30L313.10,822.10Z" fill="#00a63c"/>
<path d="M322.90,826.90L335.90,826.90L329.40,815.70Z" fill="#00a63c"/>
<path d="M313.70,748.30L326.70,748.30L320.20,737.10Z" fill="#00a63c"/>
<path d="M322.20,746.90L335.20,746.90L328.70,735.70Z" fill="#00a63c"/>
<path d="M315.80,775.90L328.80,775.90L322.30,764.70Z" fill="#00a63c"/>
<path d="M326.50,768.80L339.50,768.80L333.00,757.60Z" fill="#00a63c"/>
<path d="M328.60,768.10L341.60,768.10L335.10,756.90Z" fill="#00a63c"/>
<path d="M332.80,797.20L345.80,797.20L339.30,786.00Z" fill="#00a63c"/>
<path d="M328.60,805.70L341.60,805.70L335.10,794.50Z" fill="#00a63c"/>
<path d="M345.60,764.60L358.60,764.60L352.10,753.40Z" fill="#00a63c"/>
<path d="M354.10,761.70L367.10,761.70L360.60,750.50Z" fill="#00a63c"/>
<path d="M346.30,775.20L359.30,775.20L352.80,764.00Z" fill="#00a63c"/>
<path d="M354.10,792.90L367.10,792.90L360.60,781.70Z" fill="#00a63c"/>
<path d="M349.10,814.20L362.10,814.20L355.60,803.00Z" fill="#00a63c"/>
<path d="M361.20,815.60L374.20,815.60L367.70,804.40Z" fill="#00a63c"/>
<path d="M369.70,749.70L382.70,749.70L376.20,738.50Z" fill="#00a63c"/>
<path d="M367.50,792.20L380.50,792.20L374.00,781.00Z" fill="#00a63c"/>
<path d="M367.50,797.90L380.50,797.90L374.00,786.70Z" fill="#00a63c"/>
<path d="M369.00,819.80L382.00,819.80L375.50,808.60Z" fill="#00a63c"/>
<path d="M379.50,742.00L392.50,742.00L386.00,730.80Z" fill="#00a63c"/>
<path d="M370.30,749.80L383.30,749.80L376.80,738.60Z" fill="#00a63c"/>
<path d="M424.10,747.60L437.10,747.60L430.60,736.40Z" fill="#00a63c"/>
<path d="M346.20,764.60L359.20,764.60L352.70,753.40Z" fill="#00a63c"/>
<path d="M354.00,762.50L367.00,762.50L360.50,751.30Z" fill="#00a63c"/>
<path d="M346.20,775.30L359.20,775.30L352.70,764.10Z" fill="#00a63c"/>
<path d="M394.40,764.60L407.40,764.60L400.90,753.40Z" fill="#00a63c"/>
<path d="M385.10,771.00L398.10,771.00L391.60,759.80Z" fill="#00a63c"/>
<path d="M397.20,773.80L410.20,773.80L403.70,762.60Z" fill="#00a63c"/>
<path d="M410.60,779.50L423.60,779.50L417.10,768.30Z" fill="#00a63c"/>
<path d="M421.30,782.30L434.30,782.30L427.80,771.10Z" fill="#00a63c"/>
<path d="M326.30,767.50L339.30,767.50L332.80,756.30Z" fill="#00a63c"/>
<path d="M384.80,771.30L397.80,771.30L391.30,760.10Z" fill="#00a63c"/>
<path d="M397.50,773.40L410.50,773.40L404.00,762.20Z" fill="#00a63c"/>
<path d="M394.00,765.60L407.00,765.60L400.50,754.40Z" fill="#00a63c"/>
<path d="M411.00,779.80L424.00,779.80L417.50,768.60Z" fill="#00a63c"/>
<path d="M421.60,784.70L434.60,784.70L428.10,773.50Z" fill="#00a63c"/>
<path d="M412.40,791.80L425.40,791.80L418.90,780.60Z" fill="#00a63c"/>
<path d="M367.80,790.40L380.80,790.40L374.30,779.20Z" fill="#00a63c"/>
<path d="M366.30,798.20L379.30,798.20L372.80,787.00Z" fill="#00a63c"/>
<path d="M394.00,803.20L407.00,803.20L400.50,792.00Z" fill="#00a63c"/>
<path d="M414.50,798.20L427.50,798.20L421.00,787.00Z" fill="#00a63c"/>
<path d="M417.30,805.30L430.30,805.30L423.80,794.10Z" fill="#00a63c"/>
<path d="M413.10,813.10L426.10,813.10L419.60,801.90Z" fill="#00a63c"/>
<path d="M420.90,812.40L433.90,812.40L427.40,801.20Z" fill="#00a63c"/>
<path d="M440.00,812.40L453.00,812.40L446.50,801.20Z" fill="#00a63c"/>
<path d="M445.00,802.40L458.00,802.40L451.50,791.20Z" fill="#00a63c"/>
<path d="M369.20,820.90L382.20,820.90L375.70,809.70Z" fill="#00a63c"/>
<path d="M419.50,830.10L432.50,830.10L426.00,818.90Z" fill="#00a63c"/>
<path d="M320.10,727.00L333.10,727.00L326.60,715.80Z" fill="#ff7f00"/>
<path d="M343.50,732.70L356.50,732.70L350.00,721.50Z" fill="#ff7f00"/>
<path d="M303.80,751.80L316.80,751.80L310.30,740.60Z" fill="#ff7f00"/>
<path d="M314.40,778.70L327.40,778.70L320.90,767.50Z" fill="#ff7f00"/>
<path d="M325.00,782.30L338.00,782.30L331.50,771.10Z" fill="#ff7f00"/>
<path d="M309.50,807.80L322.50,807.80L316.00,796.60Z" fill="#ff7f00"/>
<path d="M313.70,802.80L326.70,802.80L320.20,791.60Z" fill="#ff7f00"/>
<path d="M322.90,802.80L335.90,802.80L329.40,791.60Z" fill="#ff7f00"/>
<path d="M330.70,819.80L343.70,819.80L337.20,808.60Z" fill="#ff7f00"/>
<path d="M335.70,824.10L348.70,824.10L342.20,812.90Z" fill="#ff7f00"/>
<path d="M349.10,822.00L362.10,822.00L355.60,810.80Z" fill="#ff7f00"/>
<path d="M354.10,802.80L367.10,802.80L360.60,791.60Z" fill="#ff7f00"/>
<path d="M360.50,836.80L373.50,836.80L367.00,825.60Z" fill="#ff7f00"/>
<path d="M366.10,773.80L379.10,773.80L372.60,762.60Z" fill="#ff7f00"/>
<path d="M370.40,813.50L383.40,813.50L376.90,802.30Z" fill="#ff7f00"/>
<path d="M298.10,790.80L311.10,790.80L304.60,779.60Z" fill="#ff7f00"/>
<path d="M342.60,674.10L355.60,674.10L349.10,662.90Z" fill="#ff7f00"/>
<path d="M320.70,724.10L333.70,724.10L327.20,712.90Z" fill="#ff7f00"/>
<path d="M343.40,731.80L356.40,731.80L349.90,720.60Z" fill="#ff7f00"/>
<path d="M366.00,773.80L379.00,773.80L372.50,762.60Z" fill="#ff7f00"/>
<path d="M390.10,772.40L403.10,772.40L396.60,761.20Z" fill="#ff7f00"/>
<path d="M439.70,770.30L452.70,770.30L446.20,759.10Z" fill="#ff7f00"/>
<path d="M446.80,771.70L459.80,771.70L453.30,760.50Z" fill="#ff7f00"/>
<path d="M438.30,781.60L451.30,781.60L444.80,770.40Z" fill="#ff7f00"/>
<path d="M366.30,774.10L379.30,774.10L372.80,762.90Z" fill="#ff7f00"/>
<path d="M390.40,771.30L403.40,771.30L396.90,760.10Z" fill="#ff7f00"/>
<path d="M447.80,772.00L460.80,772.00L454.30,760.80Z" fill="#ff7f00"/>
<path d="M438.60,782.60L451.60,782.60L445.10,771.40Z" fill="#ff7f00"/>
<path d="M423.70,797.50L436.70,797.50L430.20,786.30Z" fill="#ff7f00"/>
<path d="M378.40,799.60L391.40,799.60L384.90,788.40Z" fill="#ff7f00"/>
<path d="M371.30,812.40L384.30,812.40L377.80,801.20Z" fill="#ff7f00"/>
<path d="M381.20,811.70L394.20,811.70L387.70,800.50Z" fill="#ff7f00"/>
<path d="M388.30,822.30L401.30,822.30L394.80,811.10Z" fill="#ff7f00"/>
<path d="M428.70,812.40L441.70,812.40L435.20,801.20Z" fill="#ff7f00"/>
<path d="M450.60,818.70L463.60,818.70L457.10,807.50Z" fill="#ff7f00"/>
<path d="M447.80,830.10L460.80,830.10L454.30,818.90Z" fill="#ff7f00"/>
<path d="M435.80,802.40L448.80,802.40L442.30,791.20Z" fill="#ff7f00"/>
<path d="M363.50,839.30L376.50,839.30L370.00,828.10Z" fill="#ff7f00"/>
<path d="M406.40,735.60L419.40,735.60L412.90,724.40Z" fill="#7f00ff"/>
<path d="M434.70,751.20L447.70,751.20L441.20,740.00Z" fill="#7f00ff"/>
<path d="M373.80,773.80L386.80,773.80L380.30,762.60Z" fill="#7f00ff"/>
<path d="M466.20,798.20L479.20,798.20L472.70,787.00Z" fill="#7f00ff"/>
<path d="M483.20,800.30L496.20,800.30L489.70,789.10Z" fill="#7f00ff"/>
<path d="M485.40,808.80L498.40,808.80L491.90,797.60Z" fill="#7f00ff"/>
<path d="M447.10,822.30L460.10,822.30L453.60,811.10Z" fill="#7f00ff"/>
<path d="M501.00,818.00L514.00,818.00L507.50,806.80Z" fill="#7f00ff"/>
<path d="M500.20,820.90L513.20,820.90L506.70,809.70Z" fill="#7f00ff"/>
<path d="M515.80,820.20L528.80,820.20L522.30,809.00Z" fill="#7f00ff"/>
<path d="M468.40,833.60L481.40,833.60L474.90,822.40Z" fill="#7f00ff"/>
<path d="M495.30,833.60L508.30,833.60L501.80,822.40Z" fill="#7f00ff"/>
<path d="M477.60,842.80L490.60,842.80L484.10,831.60Z" fill="#7f00ff"/>
<path d="M539.20,836.50L552.20,836.50L545.70,825.30Z" fill="#7f00ff"/>
<path d="M451.40,847.80L464.40,847.80L457.90,836.60Z" fill="#7f00ff"/>
<circle cx="424.6" cy="874.8" r="5.3" fill="#0000ff"/>
<circle cx="421" cy="877.5" r="5.3" fill="#0000ff"/>
<circle cx="427.5" cy="872" r="5.3" fill="#0000ff"/>
<circle cx="447.2" cy="878.3" r="5.3" fill="#0000ff"/>
<circle cx="453.6" cy="876.2" r="5.3" fill="#0000ff"/>
<circle cx="470.6" cy="864.2" r="5.3" fill="#0000ff"/>
<circle cx="470.6" cy="869.1" r="5.3" fill="#0000ff"/>
<circle cx="479.8" cy="873.4" r="5.3" fill="#0000ff"/>
<circle cx="494.1" cy="887.6" r="5.3" fill="#0000ff"/>
<circle cx="499.8" cy="885.4" r="5.3" fill="#0000ff"/>
<circle cx="497.6" cy="892.5" r="5.3" fill="#0000ff"/>
<circle cx="503.3" cy="893.9" r="5.3" fill="#0000ff"/>
<circle cx="511.1" cy="893.2" r="5.3" fill="#0000ff"/>
<circle cx="519.6" cy="901" r="5.3" fill="#0000ff"/>
<circle cx="524.6" cy="898.2" r="5.3" fill="#0000ff"/>
<circle cx="527.4" cy="886.8" r="5.3" fill="#0000ff"/>
<circle cx="532.3" cy="890.4" r="5.3" fill="#0000ff"/>
<circle cx="535.9" cy="895.3" r="5.3" fill="#0000ff"/>
<circle cx="543.7" cy="886.8" r="5.3" fill="#0000ff"/>
<circle cx="541.6" cy="893.2" r="5.3" fill="#0000ff"/>
<circle cx="568.5" cy="890.4" r="5.3" fill="#0000ff"/>
<circle cx="573.4" cy="898.9" r="5.3" fill="#0000ff"/>
<rect x="289.70" y="644.20" width="9.0" height="9.0" fill="#e4154e"/>
<rect x="291.70" y="646.20" width="5.0" height="5.0" fill="#c71a6e"/>
<rect x="302.50" y="705.50" width="9.0" height="9.0" fill="#e4154e"/>
<rect x="304.50" y="707.50" width="5.0" height="5.0" fill="#c71a6e"/>
<rect x="315.20" y="695.80" width="9.0" height="9.0" fill="#e4154e"/>
<rect x="317.20" y="697.80" width="5.0" height="5.0" fill="#c71a6e"/>
<rect x="256.90" y="737.50" width="9.0" height="9.0" fill="#e4154e"/>
<rect x="258.90" y="739.50" width="5.0" height="5.0" fill="#c71a6e"/>
<rect x="243.90" y="773.30" width="9.0" height="9.0" fill="#e4154e"/>
<rect x="245.90" y="775.30" width="5.0" height="5.0" fill="#c71a6e"/>
<rect x="349.30" y="834.80" width="9.0" height="9.0" fill="#e4154e"/>
<rect x="351.30" y="836.80" width="5.0" height="5.0" fill="#c71a6e"/>
<rect x="400.60" y="679.40" width="9.0" height="9.0" fill="#e4154e"/>
<rect x="402.60" y="681.40" width="5.0" height="5.0" fill="#c71a6e"/>
<rect x="399.50" y="713.40" width="9.0" height="9.0" fill="#e4154e"/>
<rect x="401.50" y="715.40" width="5.0" height="5.0" fill="#c71a6e"/>
<rect x="398.10" y="814.30" width="9.0" height="9.0" fill="#e4154e"/>
<rect x="400.10" y="816.30" width="5.0" height="5.0" fill="#c71a6e"/>
<rect x="425.00" y="812.20" width="9.0" height="9.0" fill="#e4154e"/>
<rect x="427.00" y="814.20" width="5.0" height="5.0" fill="#c71a6e"/>
<rect x="468.20" y="886.60" width="9.0" height="9.0" fill="#e4154e"/>
<rect x="470.20" y="888.60" width="5.0" height="5.0" fill="#c71a6e"/>
<line x1="196.60" y1="570.80" x2="673.60" y2="896.00" stroke="#000" stroke-width="2.2" />
<line x1="176.40" y1="657.00" x2="593.00" y2="939.60" stroke="#00a050" stroke-width="2.2" />
<line x1="176.40" y1="698.90" x2="567.80" y2="939.60" stroke="#ff0080" stroke-width="2.2" />
<polygon points="586.80,797.30 589.56,805.80 598.50,805.80 591.27,811.05 594.03,819.55 586.80,814.30 579.57,819.55 582.33,811.05 575.10,805.80 584.04,805.80" fill="#ff0000"/>
<text transform="translate(585.60,787.90) scale(0.962,1)" font-size="21.299999999999997" fill="#000" text-anchor="start" ><tspan>CMT</tspan></text>
<text transform="translate(264.00,656.40) scale(1.0966799999999999,1)" font-size="19.169999999999998" fill="#000" text-anchor="start" ><tspan>24</tspan></text>
<text transform="translate(282.70,703.60) scale(1.0966799999999999,1)" font-size="19.169999999999998" fill="#000" text-anchor="start" ><tspan>23</tspan></text>
<text transform="translate(315.50,691.40) scale(1.0966799999999999,1)" font-size="19.169999999999998" fill="#000" text-anchor="start" ><tspan>22</tspan></text>
<text transform="translate(242.00,733.50) scale(1.0966799999999999,1)" font-size="19.169999999999998" fill="#000" text-anchor="start" ><tspan>25</tspan></text>
<text transform="translate(220.30,793.40) scale(1.0966799999999999,1)" font-size="19.169999999999998" fill="#000" text-anchor="start" ><tspan>26</tspan></text>
<text transform="translate(343.20,859.60) scale(1.0966799999999999,1)" font-size="19.169999999999998" fill="#000" text-anchor="start" ><tspan>21</tspan></text>
<text transform="translate(377.50,689.60) scale(1.0966799999999999,1)" font-size="19.169999999999998" fill="#000" text-anchor="start" ><tspan>18</tspan></text>
<text transform="translate(375.60,725.00) scale(1.0966799999999999,1)" font-size="19.169999999999998" fill="#000" text-anchor="start" ><tspan>19</tspan></text>
<text transform="translate(371.10,761.20) scale(1.0966799999999999,1)" font-size="19.169999999999998" fill="#000" text-anchor="start" ><tspan>15</tspan></text>
<text transform="translate(395.50,753.40) scale(1.0966799999999999,1)" font-size="19.169999999999998" fill="#000" text-anchor="start" ><tspan>14</tspan></text>
<text transform="translate(419.60,766.50) scale(1.0966799999999999,1)" font-size="19.169999999999998" fill="#000" text-anchor="start" ><tspan>13</tspan></text>
<text transform="translate(389.80,841.90) scale(1.0966799999999999,1)" font-size="19.169999999999998" fill="#000" text-anchor="start" ><tspan>20</tspan></text>
<text transform="translate(419.60,842.90) scale(1.0966799999999999,1)" font-size="19.169999999999998" fill="#000" text-anchor="start" ><tspan>17</tspan></text>
<text transform="translate(439.40,807.50) scale(1.0966799999999999,1)" font-size="19.169999999999998" fill="#000" text-anchor="start" ><tspan>12</tspan></text>
<text transform="translate(459.50,780.50) scale(1.0966799999999999,1)" font-size="19.169999999999998" fill="#000" text-anchor="start" ><tspan>10</tspan></text>
<text transform="translate(482.70,787.00) scale(1.0966799999999999,1)" font-size="19.169999999999998" fill="#000" text-anchor="start" ><tspan>7</tspan></text>
<text transform="translate(504.60,802.40) scale(1.0966799999999999,1)" font-size="19.169999999999998" fill="#000" text-anchor="start" ><tspan>3</tspan></text>
<text transform="translate(463.50,822.30) scale(1.0966799999999999,1)" font-size="19.169999999999998" fill="#000" text-anchor="start" ><tspan>9</tspan></text>
<text transform="translate(479.10,822.30) scale(1.0966799999999999,1)" font-size="19.169999999999998" fill="#000" text-anchor="start" ><tspan>6</tspan></text>
<text transform="translate(532.20,823.20) scale(1.0966799999999999,1)" font-size="19.169999999999998" fill="#000" text-anchor="start" ><tspan>2</tspan></text>
<text transform="translate(513.30,835.20) scale(1.0966799999999999,1)" font-size="19.169999999999998" fill="#000" text-anchor="start" ><tspan>4</tspan></text>
<text transform="translate(501.80,851.00) scale(1.0966799999999999,1)" font-size="19.169999999999998" fill="#000" text-anchor="start" ><tspan>5</tspan></text>
<text transform="translate(489.70,858.50) scale(1.0966799999999999,1)" font-size="19.169999999999998" fill="#000" text-anchor="start" ><tspan>8</tspan></text>
<text transform="translate(462.10,858.50) scale(1.0966799999999999,1)" font-size="19.169999999999998" fill="#000" text-anchor="start" ><tspan>11</tspan></text>
<text transform="translate(548.00,852.30) scale(1.0966799999999999,1)" font-size="19.169999999999998" fill="#000" text-anchor="start" ><tspan>1</tspan></text>
<text transform="translate(466.00,910.50) scale(1.0966799999999999,1)" font-size="19.169999999999998" fill="#000" text-anchor="start" ><tspan>16</tspan></text>
<rect x="924.80" y="568.60" width="495.20" height="368.90" fill="none" stroke="#000" stroke-width="2.2"/>
<line x1="974.49" y1="937.50" x2="974.49" y2="933.00" stroke="#000" stroke-width="1.6" />
<line x1="1003.56" y1="937.50" x2="1003.56" y2="933.00" stroke="#000" stroke-width="1.6" />
<line x1="1024.18" y1="937.50" x2="1024.18" y2="933.00" stroke="#000" stroke-width="1.6" />
<line x1="1040.18" y1="937.50" x2="1040.18" y2="933.00" stroke="#000" stroke-width="1.6" />
<line x1="1053.25" y1="937.50" x2="1053.25" y2="933.00" stroke="#000" stroke-width="1.6" />
<line x1="1064.30" y1="937.50" x2="1064.30" y2="933.00" stroke="#000" stroke-width="1.6" />
<line x1="1073.87" y1="937.50" x2="1073.87" y2="933.00" stroke="#000" stroke-width="1.6" />
<line x1="1082.31" y1="937.50" x2="1082.31" y2="933.00" stroke="#000" stroke-width="1.6" />
<line x1="1089.87" y1="937.50" x2="1089.87" y2="929.50" stroke="#000" stroke-width="2" />
<line x1="1139.56" y1="937.50" x2="1139.56" y2="933.00" stroke="#000" stroke-width="1.6" />
<line x1="1168.62" y1="937.50" x2="1168.62" y2="933.00" stroke="#000" stroke-width="1.6" />
<line x1="1189.25" y1="937.50" x2="1189.25" y2="933.00" stroke="#000" stroke-width="1.6" />
<line x1="1205.24" y1="937.50" x2="1205.24" y2="933.00" stroke="#000" stroke-width="1.6" />
<line x1="1218.31" y1="937.50" x2="1218.31" y2="933.00" stroke="#000" stroke-width="1.6" />
<line x1="1229.36" y1="937.50" x2="1229.36" y2="933.00" stroke="#000" stroke-width="1.6" />
<line x1="1238.94" y1="937.50" x2="1238.94" y2="933.00" stroke="#000" stroke-width="1.6" />
<line x1="1247.38" y1="937.50" x2="1247.38" y2="933.00" stroke="#000" stroke-width="1.6" />
<line x1="1254.93" y1="937.50" x2="1254.93" y2="929.50" stroke="#000" stroke-width="2" />
<line x1="1304.62" y1="937.50" x2="1304.62" y2="933.00" stroke="#000" stroke-width="1.6" />
<line x1="1333.69" y1="937.50" x2="1333.69" y2="933.00" stroke="#000" stroke-width="1.6" />
<line x1="1354.31" y1="937.50" x2="1354.31" y2="933.00" stroke="#000" stroke-width="1.6" />
<line x1="1370.31" y1="937.50" x2="1370.31" y2="933.00" stroke="#000" stroke-width="1.6" />
<line x1="1383.38" y1="937.50" x2="1383.38" y2="933.00" stroke="#000" stroke-width="1.6" />
<line x1="1394.43" y1="937.50" x2="1394.43" y2="933.00" stroke="#000" stroke-width="1.6" />
<line x1="1404.00" y1="937.50" x2="1404.00" y2="933.00" stroke="#000" stroke-width="1.6" />
<line x1="1412.45" y1="937.50" x2="1412.45" y2="933.00" stroke="#000" stroke-width="1.6" />
<line x1="924.80" y1="900.48" x2="929.30" y2="900.48" stroke="#000" stroke-width="1.6" />
<line x1="924.80" y1="878.83" x2="929.30" y2="878.83" stroke="#000" stroke-width="1.6" />
<line x1="924.80" y1="863.47" x2="929.30" y2="863.47" stroke="#000" stroke-width="1.6" />
<line x1="924.80" y1="851.55" x2="929.30" y2="851.55" stroke="#000" stroke-width="1.6" />
<line x1="924.80" y1="841.81" x2="929.30" y2="841.81" stroke="#000" stroke-width="1.6" />
<line x1="924.80" y1="833.58" x2="929.30" y2="833.58" stroke="#000" stroke-width="1.6" />
<line x1="924.80" y1="826.45" x2="929.30" y2="826.45" stroke="#000" stroke-width="1.6" />
<line x1="924.80" y1="820.16" x2="929.30" y2="820.16" stroke="#000" stroke-width="1.6" />
<line x1="924.80" y1="814.53" x2="932.80" y2="814.53" stroke="#000" stroke-width="2" />
<line x1="924.80" y1="777.52" x2="929.30" y2="777.52" stroke="#000" stroke-width="1.6" />
<line x1="924.80" y1="755.86" x2="929.30" y2="755.86" stroke="#000" stroke-width="1.6" />
<line x1="924.80" y1="740.50" x2="929.30" y2="740.50" stroke="#000" stroke-width="1.6" />
<line x1="924.80" y1="728.58" x2="929.30" y2="728.58" stroke="#000" stroke-width="1.6" />
<line x1="924.80" y1="718.85" x2="929.30" y2="718.85" stroke="#000" stroke-width="1.6" />
<line x1="924.80" y1="710.61" x2="929.30" y2="710.61" stroke="#000" stroke-width="1.6" />
<line x1="924.80" y1="703.48" x2="929.30" y2="703.48" stroke="#000" stroke-width="1.6" />
<line x1="924.80" y1="697.19" x2="929.30" y2="697.19" stroke="#000" stroke-width="1.6" />
<line x1="924.80" y1="691.57" x2="932.80" y2="691.57" stroke="#000" stroke-width="2" />
<line x1="924.80" y1="654.55" x2="929.30" y2="654.55" stroke="#000" stroke-width="1.6" />
<line x1="924.80" y1="632.90" x2="929.30" y2="632.90" stroke="#000" stroke-width="1.6" />
<line x1="924.80" y1="617.53" x2="929.30" y2="617.53" stroke="#000" stroke-width="1.6" />
<line x1="924.80" y1="605.62" x2="929.30" y2="605.62" stroke="#000" stroke-width="1.6" />
<line x1="924.80" y1="595.88" x2="929.30" y2="595.88" stroke="#000" stroke-width="1.6" />
<line x1="924.80" y1="587.65" x2="929.30" y2="587.65" stroke="#000" stroke-width="1.6" />
<line x1="924.80" y1="580.52" x2="929.30" y2="580.52" stroke="#000" stroke-width="1.6" />
<line x1="924.80" y1="574.23" x2="929.30" y2="574.23" stroke="#000" stroke-width="1.6" />
<text transform="translate(910.50,947.70) scale(0.962,1)" font-size="29.82" fill="#000" text-anchor="end" ><tspan>10</tspan><tspan dy="-13.27" font-size="20.28">0</tspan></text>
<text transform="translate(910.50,824.73) scale(0.962,1)" font-size="29.82" fill="#000" text-anchor="end" ><tspan>10</tspan><tspan dy="-13.27" font-size="20.28">1</tspan></text>
<text transform="translate(910.50,701.77) scale(0.962,1)" font-size="29.82" fill="#000" text-anchor="end" ><tspan>10</tspan><tspan dy="-13.27" font-size="20.28">2</tspan></text>
<text transform="translate(910.50,578.80) scale(0.962,1)" font-size="29.82" fill="#000" text-anchor="end" ><tspan>10</tspan><tspan dy="-13.27" font-size="20.28">3</tspan></text>
<text transform="translate(926.30,980.00) scale(0.962,1)" font-size="29.82" fill="#000" text-anchor="middle" ><tspan>10</tspan><tspan dy="-13.27" font-size="20.28">2</tspan></text>
<text transform="translate(1091.37,980.00) scale(0.962,1)" font-size="29.82" fill="#000" text-anchor="middle" ><tspan>10</tspan><tspan dy="-13.27" font-size="20.28">3</tspan></text>
<text transform="translate(1256.43,980.00) scale(0.962,1)" font-size="29.82" fill="#000" text-anchor="middle" ><tspan>10</tspan><tspan dy="-13.27" font-size="20.28">4</tspan></text>
<text transform="translate(1421.50,980.00) scale(0.962,1)" font-size="29.82" fill="#000" text-anchor="middle" ><tspan>10</tspan><tspan dy="-13.27" font-size="20.28">5</tspan></text>
<text transform="translate(1168.00,1021.70) scale(0.962,1)" font-size="30.3525" fill="#000" text-anchor="middle" ><tspan>H</tspan><tspan dy="8.50" font-size="20.64">2</tspan><tspan dy="-8.50"> permeability (barrer)</tspan></text>
<text transform="translate(840.30,757.40) rotate(-90) scale(0.962,1)" font-size="30.3525" fill="#000" text-anchor="middle" ><tspan>Selectivity (H</tspan><tspan dy="8.50" font-size="20.64">2</tspan><tspan dy="-8.50">/CH</tspan><tspan dy="8.50" font-size="20.64">4</tspan><tspan dy="-8.50">)</tspan></text>
<path d="M918.50,733.10L931.50,733.10L925.00,721.90Z" fill="#00a63c"/>
<path d="M939.00,720.30L952.00,720.30L945.50,709.10Z" fill="#00a63c"/>
<path d="M937.60,730.90L950.60,730.90L944.10,719.70Z" fill="#00a63c"/>
<path d="M951.80,713.20L964.80,713.20L958.30,702.00Z" fill="#00a63c"/>
<path d="M954.60,720.30L967.60,720.30L961.10,709.10Z" fill="#00a63c"/>
<path d="M967.30,721.70L980.30,721.70L973.80,710.50Z" fill="#00a63c"/>
<path d="M985.10,710.40L998.10,710.40L991.60,699.20Z" fill="#00a63c"/>
<path d="M978.00,740.90L991.00,740.90L984.50,729.70Z" fill="#00a63c"/>
<path d="M978.70,750.10L991.70,750.10L985.20,738.90Z" fill="#00a63c"/>
<path d="M963.80,753.60L976.80,753.60L970.30,742.40Z" fill="#00a63c"/>
<path d="M997.10,739.40L1010.10,739.40L1003.60,728.20Z" fill="#00a63c"/>
<path d="M992.10,745.10L1005.10,745.10L998.60,733.90Z" fill="#00a63c"/>
<path d="M1016.20,734.50L1029.20,734.50L1022.70,723.30Z" fill="#00a63c"/>
<path d="M1019.10,749.40L1032.10,749.40L1025.60,738.20Z" fill="#00a63c"/>
<path d="M997.80,763.50L1010.80,763.50L1004.30,752.30Z" fill="#00a63c"/>
<path d="M975.80,770.60L988.80,770.60L982.30,759.40Z" fill="#00a63c"/>
<path d="M978.00,769.20L991.00,769.20L984.50,758.00Z" fill="#00a63c"/>
<path d="M1014.10,772.70L1027.10,772.70L1020.60,761.50Z" fill="#00a63c"/>
<path d="M1018.40,775.60L1031.40,775.60L1024.90,764.40Z" fill="#00a63c"/>
<path d="M1038.20,778.40L1051.20,778.40L1044.70,767.20Z" fill="#00a63c"/>
<path d="M1048.10,776.30L1061.10,776.30L1054.60,765.10Z" fill="#00a63c"/>
<path d="M1042.50,784.80L1055.50,784.80L1049.00,773.60Z" fill="#00a63c"/>
<path d="M1041.70,796.10L1054.70,796.10L1048.20,784.90Z" fill="#00a63c"/>
<path d="M1048.10,801.10L1061.10,801.10L1054.60,789.90Z" fill="#00a63c"/>
<path d="M997.80,796.80L1010.80,796.80L1004.30,785.60Z" fill="#00a63c"/>
<path d="M1009.10,804.60L1022.10,804.60L1015.60,793.40Z" fill="#00a63c"/>
<path d="M1033.90,808.20L1046.90,808.20L1040.40,797.00Z" fill="#00a63c"/>
<path d="M1061.60,746.50L1074.60,746.50L1068.10,735.30Z" fill="#00a63c"/>
<path d="M1070.10,756.50L1083.10,756.50L1076.60,745.30Z" fill="#00a63c"/>
<path d="M1063.70,779.10L1076.70,779.10L1070.20,767.90Z" fill="#00a63c"/>
<path d="M1075.00,777.70L1088.00,777.70L1081.50,766.50Z" fill="#00a63c"/>
<path d="M1077.20,781.30L1090.20,781.30L1083.70,770.10Z" fill="#00a63c"/>
<path d="M1080.70,794.00L1093.70,794.00L1087.20,782.80Z" fill="#00a63c"/>
<path d="M1093.50,763.50L1106.50,763.50L1100.00,752.30Z" fill="#00a63c"/>
<path d="M1101.30,773.50L1114.30,773.50L1107.80,762.30Z" fill="#00a63c"/>
<path d="M1094.20,788.30L1107.20,788.30L1100.70,777.10Z" fill="#00a63c"/>
<path d="M1114.70,782.00L1127.70,782.00L1121.20,770.80Z" fill="#00a63c"/>
<path d="M1102.00,802.50L1115.00,802.50L1108.50,791.30Z" fill="#00a63c"/>
<path d="M1113.30,803.90L1126.30,803.90L1119.80,792.70Z" fill="#00a63c"/>
<path d="M1117.50,748.70L1130.50,748.70L1124.00,737.50Z" fill="#00a63c"/>
<path d="M1077.90,822.30L1090.90,822.30L1084.40,811.10Z" fill="#00a63c"/>
<path d="M1097.00,820.20L1110.00,820.20L1103.50,809.00Z" fill="#00a63c"/>
<path d="M1127.50,743.70L1140.50,743.70L1134.00,732.50Z" fill="#00a63c"/>
<path d="M1119.00,749.40L1132.00,749.40L1125.50,738.20Z" fill="#00a63c"/>
<path d="M1094.90,762.80L1107.90,762.80L1101.40,751.60Z" fill="#00a63c"/>
<path d="M1142.40,762.80L1155.40,762.80L1148.90,751.60Z" fill="#00a63c"/>
<path d="M1102.00,773.50L1115.00,773.50L1108.50,762.30Z" fill="#00a63c"/>
<path d="M1115.50,781.30L1128.50,781.30L1122.00,770.10Z" fill="#00a63c"/>
<path d="M1133.20,777.70L1146.20,777.70L1139.70,766.50Z" fill="#00a63c"/>
<path d="M1145.90,773.50L1158.90,773.50L1152.40,762.30Z" fill="#00a63c"/>
<path d="M1169.30,778.40L1182.30,778.40L1175.80,767.20Z" fill="#00a63c"/>
<path d="M1158.70,786.90L1171.70,786.90L1165.20,775.70Z" fill="#00a63c"/>
<path d="M1163.60,791.20L1176.60,791.20L1170.10,780.00Z" fill="#00a63c"/>
<path d="M1164.40,799.00L1177.40,799.00L1170.90,787.80Z" fill="#00a63c"/>
<path d="M1158.70,805.30L1171.70,805.30L1165.20,794.10Z" fill="#00a63c"/>
<path d="M1100.60,802.50L1113.60,802.50L1107.10,791.30Z" fill="#00a63c"/>
<path d="M1114.00,803.20L1127.00,803.20L1120.50,792.00Z" fill="#00a63c"/>
<path d="M1109.10,807.50L1122.10,807.50L1115.60,796.30Z" fill="#00a63c"/>
<path d="M1192.70,808.90L1205.70,808.90L1199.20,797.70Z" fill="#00a63c"/>
<path d="M1164.40,820.20L1177.40,820.20L1170.90,809.00Z" fill="#00a63c"/>
<path d="M1187.00,821.60L1200.00,821.60L1193.50,810.40Z" fill="#00a63c"/>
<path d="M1093.50,789.00L1106.50,789.00L1100.00,777.80Z" fill="#00a63c"/>
<path d="M1096.30,820.20L1109.30,820.20L1102.80,809.00Z" fill="#00a63c"/>
<path d="M1009.10,807.00L1022.10,807.00L1015.60,795.80Z" fill="#00a63c"/>
<path d="M1033.90,809.10L1046.90,809.10L1040.40,797.90Z" fill="#00a63c"/>
<path d="M1048.80,805.60L1061.80,805.60L1055.30,794.40Z" fill="#00a63c"/>
<path d="M1077.80,824.70L1090.80,824.70L1084.30,813.50Z" fill="#00a63c"/>
<path d="M1096.90,821.20L1109.90,821.20L1103.40,810.00Z" fill="#00a63c"/>
<path d="M1038.10,839.60L1051.10,839.60L1044.60,828.40Z" fill="#00a63c"/>
<path d="M1050.20,858.00L1063.20,858.00L1056.70,846.80Z" fill="#00a63c"/>
<path d="M1070.70,856.60L1083.70,856.60L1077.20,845.40Z" fill="#00a63c"/>
<path d="M1054.40,868.70L1067.40,868.70L1060.90,857.50Z" fill="#00a63c"/>
<path d="M1117.50,845.30L1130.50,845.30L1124.00,834.10Z" fill="#00a63c"/>
<path d="M1106.90,808.40L1119.90,808.40L1113.40,797.20Z" fill="#00a63c"/>
<path d="M1163.50,822.60L1176.50,822.60L1170.00,811.40Z" fill="#00a63c"/>
<path d="M1169.90,826.90L1182.90,826.90L1176.40,815.70Z" fill="#00a63c"/>
<path d="M1160.70,833.20L1173.70,833.20L1167.20,822.00Z" fill="#00a63c"/>
<path d="M1167.10,852.40L1180.10,852.40L1173.60,841.20Z" fill="#00a63c"/>
<path d="M1187.60,823.30L1200.60,823.30L1194.10,812.10Z" fill="#00a63c"/>
<path d="M1159.30,808.40L1172.30,808.40L1165.80,797.20Z" fill="#00a63c"/>
<path d="M1191.90,811.30L1204.90,811.30L1198.40,800.10Z" fill="#00a63c"/>
<path d="M1192.60,811.10L1205.60,811.10L1199.10,799.90Z" fill="#00a63c"/>
<path d="M1187.70,823.20L1200.70,823.20L1194.20,812.00Z" fill="#00a63c"/>
<path d="M1068.70,728.10L1081.70,728.10L1075.20,716.90Z" fill="#ff7f00"/>
<path d="M1092.00,741.60L1105.00,741.60L1098.50,730.40Z" fill="#ff7f00"/>
<path d="M1053.10,750.80L1066.10,750.80L1059.60,739.60Z" fill="#ff7f00"/>
<path d="M1062.30,788.30L1075.30,788.30L1068.80,777.10Z" fill="#ff7f00"/>
<path d="M1047.40,798.30L1060.40,798.30L1053.90,787.10Z" fill="#ff7f00"/>
<path d="M1072.90,801.80L1085.90,801.80L1079.40,790.60Z" fill="#ff7f00"/>
<path d="M1103.40,817.40L1116.40,817.40L1109.90,806.20Z" fill="#ff7f00"/>
<path d="M1187.00,774.90L1200.00,774.90L1193.50,763.70Z" fill="#ff7f00"/>
<path d="M1195.50,777.70L1208.50,777.70L1202.00,766.50Z" fill="#ff7f00"/>
<path d="M1192.70,782.00L1205.70,782.00L1199.20,770.80Z" fill="#ff7f00"/>
<path d="M1141.70,778.40L1154.70,778.40L1148.20,767.20Z" fill="#ff7f00"/>
<path d="M1185.60,795.40L1198.60,795.40L1192.10,784.20Z" fill="#ff7f00"/>
<path d="M1171.40,801.80L1184.40,801.80L1177.90,790.60Z" fill="#ff7f00"/>
<path d="M1182.80,808.90L1195.80,808.90L1189.30,797.70Z" fill="#ff7f00"/>
<path d="M1126.10,813.80L1139.10,813.80L1132.60,802.60Z" fill="#ff7f00"/>
<path d="M1102.70,817.40L1115.70,817.40L1109.20,806.20Z" fill="#ff7f00"/>
<path d="M1060.80,831.80L1073.80,831.80L1067.30,820.60Z" fill="#ff7f00"/>
<path d="M1058.00,840.30L1071.00,840.30L1064.50,829.10Z" fill="#ff7f00"/>
<path d="M1072.10,842.40L1085.10,842.40L1078.60,831.20Z" fill="#ff7f00"/>
<path d="M1079.90,853.80L1092.90,853.80L1086.40,842.60Z" fill="#ff7f00"/>
<path d="M1084.20,854.50L1097.20,854.50L1090.70,843.30Z" fill="#ff7f00"/>
<path d="M1098.40,854.50L1111.40,854.50L1104.90,843.30Z" fill="#ff7f00"/>
<path d="M1103.30,817.60L1116.30,817.60L1109.80,806.40Z" fill="#ff7f00"/>
<path d="M1125.30,813.40L1138.30,813.40L1131.80,802.20Z" fill="#ff7f00"/>
<path d="M1130.20,833.90L1143.20,833.90L1136.70,822.70Z" fill="#ff7f00"/>
<path d="M1118.20,843.20L1131.20,843.20L1124.70,832.00Z" fill="#ff7f00"/>
<path d="M1137.30,854.50L1150.30,854.50L1143.80,843.30Z" fill="#ff7f00"/>
<path d="M1139.50,858.00L1152.50,858.00L1146.00,846.80Z" fill="#ff7f00"/>
<path d="M1108.30,870.10L1121.30,870.10L1114.80,858.90Z" fill="#ff7f00"/>
<path d="M1189.10,831.80L1202.10,831.80L1195.60,820.60Z" fill="#ff7f00"/>
<path d="M1196.10,849.50L1209.10,849.50L1202.60,838.30Z" fill="#ff7f00"/>
<path d="M1194.70,855.20L1207.70,855.20L1201.20,844.00Z" fill="#ff7f00"/>
<path d="M1182.00,809.90L1195.00,809.90L1188.50,798.70Z" fill="#ff7f00"/>
<path d="M1184.10,794.10L1197.10,794.10L1190.60,782.90Z" fill="#ff7f00"/>
<path d="M1187.70,796.90L1200.70,796.90L1194.20,785.70Z" fill="#ff7f00"/>
<path d="M1181.30,810.40L1194.30,810.40L1187.80,799.20Z" fill="#ff7f00"/>
<path d="M1173.50,805.40L1186.50,805.40L1180.00,794.20Z" fill="#ff7f00"/>
<path d="M1189.10,830.90L1202.10,830.90L1195.60,819.70Z" fill="#ff7f00"/>
<path d="M1197.60,847.90L1210.60,847.90L1204.10,836.70Z" fill="#ff7f00"/>
<path d="M1195.50,855.70L1208.50,855.70L1202.00,844.50Z" fill="#ff7f00"/>
<path d="M1121.80,741.60L1134.80,741.60L1128.30,730.40Z" fill="#7f00ff"/>
<path d="M1154.40,730.20L1167.40,730.20L1160.90,719.00Z" fill="#7f00ff"/>
<path d="M1183.50,747.90L1196.50,747.90L1190.00,736.70Z" fill="#7f00ff"/>
<path d="M1230.90,813.20L1243.90,813.20L1237.40,802.00Z" fill="#7f00ff"/>
<path d="M1213.90,827.40L1226.90,827.40L1220.40,816.20Z" fill="#7f00ff"/>
<path d="M1233.70,826.00L1246.70,826.00L1240.20,814.80Z" fill="#7f00ff"/>
<path d="M1248.60,834.50L1261.60,834.50L1255.10,823.30Z" fill="#7f00ff"/>
<path d="M1249.30,838.70L1262.30,838.70L1255.80,827.50Z" fill="#7f00ff"/>
<path d="M1265.60,838.00L1278.60,838.00L1272.10,826.80Z" fill="#7f00ff"/>
<path d="M1195.50,841.60L1208.50,841.60L1202.00,830.40Z" fill="#7f00ff"/>
<path d="M1216.70,849.40L1229.70,849.40L1223.20,838.20Z" fill="#7f00ff"/>
<path d="M1242.90,861.40L1255.90,861.40L1249.40,850.20Z" fill="#7f00ff"/>
<path d="M1287.60,857.20L1300.60,857.20L1294.10,846.00Z" fill="#7f00ff"/>
<path d="M1199.70,872.70L1212.70,872.70L1206.20,861.50Z" fill="#7f00ff"/>
<path d="M1225.90,876.30L1238.90,876.30L1232.40,865.10Z" fill="#7f00ff"/>
<rect x="1148.90" y="577.80" width="9.0" height="9.0" fill="#e4154e"/>
<rect x="1150.90" y="579.80" width="5.0" height="5.0" fill="#c71a6e"/>
<rect x="1147.90" y="655.90" width="9.0" height="9.0" fill="#e4154e"/>
<rect x="1149.90" y="657.90" width="5.0" height="5.0" fill="#c71a6e"/>
<rect x="1037.60" y="682.60" width="9.0" height="9.0" fill="#e4154e"/>
<rect x="1039.60" y="684.60" width="5.0" height="5.0" fill="#c71a6e"/>
<rect x="1063.20" y="684.70" width="9.0" height="9.0" fill="#e4154e"/>
<rect x="1065.20" y="686.70" width="5.0" height="5.0" fill="#c71a6e"/>
<rect x="1005.10" y="705.50" width="9.0" height="9.0" fill="#e4154e"/>
<rect x="1007.10" y="707.50" width="5.0" height="5.0" fill="#c71a6e"/>
<rect x="1050.80" y="707.00" width="9.0" height="9.0" fill="#e4154e"/>
<rect x="1052.80" y="709.00" width="5.0" height="5.0" fill="#c71a6e"/>
<rect x="992.00" y="789.60" width="9.0" height="9.0" fill="#e4154e"/>
<rect x="994.00" y="791.60" width="5.0" height="5.0" fill="#c71a6e"/>
<rect x="1145.80" y="805.90" width="9.0" height="9.0" fill="#e4154e"/>
<rect x="1147.80" y="807.90" width="5.0" height="5.0" fill="#c71a6e"/>
<rect x="1172.70" y="802.30" width="9.0" height="9.0" fill="#e4154e"/>
<rect x="1174.70" y="804.30" width="5.0" height="5.0" fill="#c71a6e"/>
<rect x="1097.20" y="838.70" width="9.0" height="9.0" fill="#e4154e"/>
<rect x="1099.20" y="840.70" width="5.0" height="5.0" fill="#c71a6e"/>
<rect x="1215.90" y="884.60" width="9.0" height="9.0" fill="#e4154e"/>
<rect x="1217.90" y="886.60" width="5.0" height="5.0" fill="#c71a6e"/>
<line x1="957.40" y1="568.60" x2="1420.00" y2="928.40" stroke="#000" stroke-width="2.2" />
<line x1="924.80" y1="651.20" x2="1299.20" y2="937.50" stroke="#00a050" stroke-width="2.2" />
<line x1="924.80" y1="691.30" x2="1261.70" y2="937.50" stroke="#ff0080" stroke-width="2.2" />
<polygon points="1334.20,797.50 1336.96,806.00 1345.90,806.00 1338.67,811.25 1341.43,819.75 1334.20,814.50 1326.97,819.75 1329.73,811.25 1322.50,806.00 1331.44,806.00" fill="#ff0000"/>
<text transform="translate(1336.60,789.20) scale(0.962,1)" font-size="21.299999999999997" fill="#000" text-anchor="start" ><tspan>CMT</tspan></text>
<text transform="translate(1123.20,592.90) scale(1.0966799999999999,1)" font-size="19.169999999999998" fill="#000" text-anchor="start" ><tspan>18</tspan></text>
<text transform="translate(1126.50,660.40) scale(1.0966799999999999,1)" font-size="19.169999999999998" fill="#000" text-anchor="start" ><tspan>19</tspan></text>
<text transform="translate(1024.00,678.20) scale(1.0966799999999999,1)" font-size="19.169999999999998" fill="#000" text-anchor="start" ><tspan>24</tspan></text>
<text transform="translate(1059.00,680.30) scale(1.0966799999999999,1)" font-size="19.169999999999998" fill="#000" text-anchor="start" ><tspan>22</tspan></text>
<text transform="translate(1000.50,701.00) scale(1.0966799999999999,1)" font-size="19.169999999999998" fill="#000" text-anchor="start" ><tspan>25</tspan></text>
<text transform="translate(1029.40,720.10) scale(1.0966799999999999,1)" font-size="19.169999999999998" fill="#000" text-anchor="start" ><tspan>23</tspan></text>
<text transform="translate(966.80,807.30) scale(1.0966799999999999,1)" font-size="19.169999999999998" fill="#000" text-anchor="start" ><tspan>26</tspan></text>
<text transform="translate(1115.00,726.80) scale(1.0966799999999999,1)" font-size="19.169999999999998" fill="#000" text-anchor="start" ><tspan>15</tspan></text>
<text transform="translate(1155.50,714.00) scale(1.0966799999999999,1)" font-size="19.169999999999998" fill="#000" text-anchor="start" ><tspan>14</tspan></text>
<text transform="translate(1193.20,735.00) scale(1.0966799999999999,1)" font-size="19.169999999999998" fill="#000" text-anchor="start" ><tspan>13</tspan></text>
<text transform="translate(1131.90,801.60) scale(1.0966799999999999,1)" font-size="19.169999999999998" fill="#000" text-anchor="start" ><tspan>20</tspan></text>
<text transform="translate(1184.70,807.30) scale(1.0966799999999999,1)" font-size="19.169999999999998" fill="#000" text-anchor="start" ><tspan>17</tspan></text>
<text transform="translate(1209.10,813.30) scale(1.0966799999999999,1)" font-size="19.169999999999998" fill="#000" text-anchor="start" ><tspan>10</tspan></text>
<text transform="translate(1229.70,803.00) scale(1.0966799999999999,1)" font-size="19.169999999999998" fill="#000" text-anchor="start" ><tspan>7</tspan></text>
<text transform="translate(1246.60,821.80) scale(1.0966799999999999,1)" font-size="19.169999999999998" fill="#000" text-anchor="start" ><tspan>6</tspan></text>
<text transform="translate(1260.10,826.80) scale(1.0966799999999999,1)" font-size="19.169999999999998" fill="#000" text-anchor="start" ><tspan>4</tspan></text>
<text transform="translate(1280.60,844.50) scale(1.0966799999999999,1)" font-size="19.169999999999998" fill="#000" text-anchor="start" ><tspan>2</tspan></text>
<text transform="translate(1260.10,854.40) scale(1.0966799999999999,1)" font-size="19.169999999999998" fill="#000" text-anchor="start" ><tspan>3</tspan></text>
<text transform="translate(1231.70,850.10) scale(1.0966799999999999,1)" font-size="19.169999999999998" fill="#000" text-anchor="start" ><tspan>9</tspan></text>
<text transform="translate(1260.10,872.10) scale(1.0966799999999999,1)" font-size="19.169999999999998" fill="#000" text-anchor="start" ><tspan>5</tspan></text>
<text transform="translate(1304.70,870.00) scale(1.0966799999999999,1)" font-size="19.169999999999998" fill="#000" text-anchor="start" ><tspan>1</tspan></text>
<text transform="translate(1244.00,884.90) scale(1.0966799999999999,1)" font-size="19.169999999999998" fill="#000" text-anchor="start" ><tspan>8</tspan></text>
<text transform="translate(1185.00,888.40) scale(1.0966799999999999,1)" font-size="19.169999999999998" fill="#000" text-anchor="start" ><tspan>11</tspan></text>
<text transform="translate(1222.50,910.40) scale(1.0966799999999999,1)" font-size="19.169999999999998" fill="#000" text-anchor="start" ><tspan>16</tspan></text>
<text transform="translate(1177.80,845.90) scale(1.0966799999999999,1)" font-size="19.169999999999998" fill="#000" text-anchor="start" ><tspan>12</tspan></text>
<text transform="translate(1091.80,836.60) scale(1.0966799999999999,1)" font-size="19.169999999999998" fill="#000" text-anchor="start" ><tspan>21</tspan></text>
<defs>
<radialGradient id="gR" cx="0.43" cy="0.40" r="0.62" fx="0.42" fy="0.33">
<stop offset="0" stop-color="#ffa6d2"/><stop offset="0.12" stop-color="#f0588f"/><stop offset="0.35" stop-color="#cf2c60"/><stop offset="0.7" stop-color="#a81e4c"/><stop offset="0.9" stop-color="#70122f"/><stop offset="1" stop-color="#3e0818"/>
</radialGradient>
<radialGradient id="gB" cx="0.43" cy="0.40" r="0.62" fx="0.42" fy="0.33">
<stop offset="0" stop-color="#8ff8ff"/><stop offset="0.12" stop-color="#38cdf6"/><stop offset="0.35" stop-color="#0c94d4"/><stop offset="0.7" stop-color="#0773b0"/><stop offset="0.9" stop-color="#054d7a"/><stop offset="1" stop-color="#02263e"/>
</radialGradient>
<radialGradient id="gRD"><stop offset="0" stop-color="#2a0410"/><stop offset="0.6" stop-color="#4a0a1e"/><stop offset="1" stop-color="#8e1a40" stop-opacity="0"/></radialGradient>
<radialGradient id="gBD"><stop offset="0" stop-color="#01121f"/><stop offset="0.6" stop-color="#03304c"/><stop offset="1" stop-color="#06679e" stop-opacity="0"/></radialGradient>
</defs>
<rect x="5.7" y="1142" width="315.5" height="316.0999999999999" fill="none" stroke="#9ee89e" stroke-width="1.2"/>
<line x1="5.7" y1="1142" x2="12" y2="1148" stroke="#9ee89e" stroke-width="1.2"/>
<line x1="321.2" y1="1142" x2="314" y2="1149" stroke="#9ee89e" stroke-width="1.2"/>
<line x1="5.7" y1="1458.1" x2="15" y2="1449" stroke="#9ee89e" stroke-width="1.2"/>
<line x1="321.2" y1="1458.1" x2="299.7" y2="1437.3" stroke="#9ee89e" stroke-width="1.2"/>
<path d="M26.4,1140.8L30.0,1130.0L38.0,1123.5L48.0,1121.0L58.0,1123.0L66.0,1128.0L70.5,1133.5L74.0,1137.0L80.9,1145.7L90.0,1148.0L98.0,1150.6L108.0,1156.0L116.4,1164.1L124.0,1171.0L130.0,1178.8L134.8,1193.5L128.7,1204.6L124.0,1210.0L128.7,1216.0L135.0,1222.0L142.0,1226.0L150.0,1222.0L154.0,1212.0L160.0,1216.8L164.9,1213.1L172.3,1210.7L184.5,1213.1L196.8,1216.8L211.5,1224.2L213.9,1215.6L217.6,1210.7L220.1,1199.7L233.5,1186.2L236.0,1177.6L243.3,1166.6L253.1,1156.8L266.6,1153.1L282.6,1151.3L294.8,1153.1L304.6,1150.6L310.8,1147.6L316.9,1148.8L317.5,1160.4L320.6,1171.5L321.2,1188.6L316.9,1199.7L307.1,1205.8L314.4,1209.5L319.3,1218.0L318.1,1227.9L309.5,1235.2L298.5,1235.2L288.7,1230.3L277.7,1227.9L269.1,1226.6L267.9,1236.4L269.1,1248.7L266.6,1261.0L260.5,1267.1L253.1,1273.2L248.7,1276.1L250.7,1283.5L252.8,1292.3L248.0,1298.3L242.6,1306.4L237.2,1307.8L230.5,1309.8L222.4,1309.8L220.4,1301.7L211.6,1300.4L211.6,1313.9L215.0,1318.0L212.0,1324.0L211.5,1330.6L209.0,1342.9L221.3,1344.1L236.0,1347.8L245.8,1347.8L253.1,1355.2L258.0,1351.5L267.9,1350.3L271.5,1355.2L271.5,1368.6L266.6,1378.4L265.4,1393.1L276.4,1394.4L288.7,1391.9L301.0,1390.7L307.1,1396.8L308.3,1410.3L307.1,1428.7L303.4,1441.0L294.8,1447.1L282.6,1447.1L270.3,1443.4L258.0,1441.0L248.2,1437.3L243.3,1428.7L238.4,1420.1L233.5,1410.3L232.3,1391.9L229.9,1385.8L221.3,1384.6L206.6,1385.8L204.1,1398.1L205.3,1410.3L204.1,1417.7L209.0,1422.6L213.9,1432.4L215.2,1441.0L209.0,1447.1L206.6,1456.9L200.4,1463.0L184.5,1468.5L172.3,1466.7L160.0,1463.0L147.1,1464.2L134.8,1459.3L129.9,1450.8L128.7,1441.0L123.8,1442.2L117.7,1441.0L112.8,1434.8L105.4,1441.0L93.1,1450.8L78.4,1459.3L68.6,1469.1L58.8,1477.7L46.6,1483.8L36.8,1481.4L25.7,1471.6L17.2,1459.3L14.7,1447.1L15.9,1438.5L23.3,1426.2L20.8,1416.4L18.4,1404.2L19.6,1389.5L24.5,1383.3L36.0,1382.0L38.0,1373.0L40.0,1360.0L42.0,1350.0L40.0,1343.0L30.6,1340.4L28.2,1330.6L28.2,1318.4L22.0,1310.0L18.4,1300.0L18.4,1291.6L18.4,1273.2L14.7,1267.1L6.1,1264.6L3.7,1258.5L12.3,1252.4L18.4,1249.9L20.8,1241.3L18.4,1234.0L12.3,1227.9L6.7,1221.7L7.4,1213.1L9.8,1205.8L7.4,1193.5L6.1,1183.7L3.7,1177.6L4.9,1171.5L7.4,1156.8L11.0,1146.4L19.6,1140.8L23.3,1138.4ZM137.0,1246.0L150.0,1243.0L163.0,1244.0L164.0,1253.0L171.0,1262.0L173.0,1272.0L165.0,1277.0L152.0,1276.0L153.0,1267.0L150.0,1258.0L140.0,1256.0ZM122.0,1274.0L135.0,1273.0L143.0,1279.0L130.0,1283.0L121.0,1281.0ZM133.0,1225.0L152.0,1225.0L152.0,1231.0L140.0,1233.0L133.0,1231.0ZM56.0,1364.0L70.0,1361.0L80.0,1367.0L82.0,1385.0L60.0,1386.0L53.0,1378.0Z" fill="#8e1a40" fill-rule="evenodd"/><path d="M231.8,1315.9L237.2,1325.3L247.4,1322.6L257.5,1328.0L271.0,1328.7L273.7,1324.0L267.6,1313.9L258.8,1303.7L250.7,1301.0L241.3,1308.5Z" fill="#8e1a40"/><g fill="url(#gR)"><circle cx="29.6" cy="1138.9" r="4.5"/><circle cx="31.7" cy="1133.6" r="5"/><circle cx="35.6" cy="1128.7" r="4.5"/><circle cx="43.6" cy="1124.7" r="4.5"/><circle cx="52.5" cy="1124.7" r="5"/><circle cx="60.5" cy="1127.8" r="5"/><circle cx="66.8" cy="1132.0" r="3.5"/><circle cx="70.9" cy="1136.6" r="3.5"/><circle cx="73.6" cy="1140.9" r="5"/><circle cx="77.2" cy="1145.1" r="4.5"/><circle cx="84.8" cy="1149.5" r="5"/><circle cx="93.4" cy="1151.1" r="3.5"/><circle cx="99.7" cy="1153.4" r="3"/><circle cx="104.3" cy="1156.8" r="4.5"/><circle cx="108.6" cy="1159.6" r="4"/><circle cx="113.0" cy="1163.5" r="3.5"/><circle cx="119.1" cy="1168.8" r="3"/><circle cx="124.8" cy="1176.6" r="5"/><circle cx="129.6" cy="1183.0" r="3"/><circle cx="131.0" cy="1190.7" r="5"/><circle cx="131.1" cy="1195.1" r="4.5"/><circle cx="128.1" cy="1200.6" r="4.5"/><circle cx="124.3" cy="1205.5" r="5"/><circle cx="124.8" cy="1214.2" r="3.5"/><circle cx="130.0" cy="1221.0" r="5"/><circle cx="138.5" cy="1224.0" r="3"/><circle cx="146.0" cy="1224.0" r="5"/><circle cx="153.5" cy="1217.6" r="3"/><circle cx="156.0" cy="1215.7" r="3"/><circle cx="163.4" cy="1216.3" r="3"/><circle cx="169.2" cy="1213.7" r="3.5"/><circle cx="175.0" cy="1213.2" r="3.5"/><circle cx="180.9" cy="1215.2" r="5"/><circle cx="187.1" cy="1215.6" r="3"/><circle cx="193.0" cy="1218.2" r="4.5"/><circle cx="199.5" cy="1220.6" r="4"/><circle cx="206.7" cy="1224.6" r="4.5"/><circle cx="215.3" cy="1220.6" r="5"/><circle cx="217.3" cy="1214.3" r="3.5"/><circle cx="220.9" cy="1208.6" r="5"/><circle cx="221.4" cy="1202.9" r="3.5"/><circle cx="223.9" cy="1199.0" r="4"/><circle cx="228.6" cy="1194.7" r="4.5"/><circle cx="232.4" cy="1189.6" r="3"/><circle cx="236.3" cy="1182.4" r="3"/><circle cx="239.9" cy="1176.2" r="4.5"/><circle cx="243.3" cy="1170.6" r="4"/><circle cx="247.5" cy="1165.9" r="4.5"/><circle cx="252.6" cy="1161.2" r="5"/><circle cx="256.9" cy="1157.5" r="3"/><circle cx="263.8" cy="1156.1" r="4"/><circle cx="270.8" cy="1154.8" r="4"/><circle cx="278.8" cy="1153.7" r="3.5"/><circle cx="285.2" cy="1154.5" r="5"/><circle cx="291.4" cy="1154.8" r="4"/><circle cx="300.1" cy="1153.4" r="3"/><circle cx="308.4" cy="1150.6" r="3"/><circle cx="313.3" cy="1150.9" r="5"/><circle cx="315.4" cy="1151.8" r="3"/><circle cx="314.9" cy="1157.6" r="4.5"/><circle cx="316.7" cy="1163.6" r="3"/><circle cx="317.7" cy="1169.3" r="4"/><circle cx="318.2" cy="1174.4" r="4.5"/><circle cx="319.3" cy="1180.1" r="3"/><circle cx="319.5" cy="1185.8" r="3"/><circle cx="318.6" cy="1190.8" r="3"/><circle cx="316.2" cy="1196.2" r="3.5"/><circle cx="313.4" cy="1199.6" r="3.5"/><circle cx="308.7" cy="1202.9" r="3"/><circle cx="309.6" cy="1209.9" r="4.5"/><circle cx="314.7" cy="1215.0" r="4.5"/><circle cx="316.2" cy="1222.7" r="4.5"/><circle cx="314.3" cy="1227.8" r="4.5"/><circle cx="310.6" cy="1232.1" r="3"/><circle cx="306.8" cy="1232.5" r="5"/><circle cx="301.2" cy="1233.3" r="3.5"/><circle cx="294.6" cy="1230.8" r="4"/><circle cx="286.4" cy="1227.6" r="4"/><circle cx="280.8" cy="1226.9" r="3"/><circle cx="273.7" cy="1225.1" r="4"/><circle cx="266.3" cy="1231.2" r="4"/><circle cx="266.6" cy="1239.6" r="3"/><circle cx="266.3" cy="1245.9" r="4.5"/><circle cx="266.9" cy="1251.4" r="3"/><circle cx="265.3" cy="1257.5" r="3.5"/><circle cx="262.2" cy="1262.7" r="3.5"/><circle cx="255.8" cy="1268.9" r="3"/><circle cx="250.0" cy="1273.3" r="3"/><circle cx="248.1" cy="1280.2" r="3"/><circle cx="249.3" cy="1288.5" r="4.5"/><circle cx="248.5" cy="1293.8" r="4.5"/><circle cx="243.7" cy="1301.3" r="3.5"/><circle cx="239.2" cy="1304.4" r="5"/><circle cx="233.3" cy="1307.0" r="3.5"/><circle cx="226.4" cy="1307.3" r="4.5"/><circle cx="224.1" cy="1305.1" r="5"/><circle cx="216.3" cy="1299.1" r="3.5"/><circle cx="209.7" cy="1303.8" r="3.5"/><circle cx="209.1" cy="1310.5" r="4.5"/><circle cx="211.4" cy="1317.5" r="4.5"/><circle cx="212.0" cy="1320.3" r="3"/><circle cx="209.3" cy="1327.1" r="4.5"/><circle cx="208.4" cy="1333.2" r="4.5"/><circle cx="207.7" cy="1339.4" r="3.5"/><circle cx="211.9" cy="1344.8" r="3"/><circle cx="218.0" cy="1346.0" r="4"/><circle cx="224.3" cy="1347.7" r="5"/><circle cx="231.8" cy="1349.0" r="4"/><circle cx="240.9" cy="1349.5" r="3"/><circle cx="248.1" cy="1352.9" r="3.5"/><circle cx="256.7" cy="1354.9" r="3.5"/><circle cx="263.2" cy="1353.4" r="4.5"/><circle cx="267.5" cy="1354.4" r="5"/><circle cx="268.8" cy="1358.5" r="5"/><circle cx="269.9" cy="1365.2" r="3"/><circle cx="267.6" cy="1372.8" r="3"/><circle cx="264.4" cy="1381.9" r="3.5"/><circle cx="263.8" cy="1389.3" r="3.5"/><circle cx="267.9" cy="1395.9" r="4.5"/><circle cx="273.4" cy="1396.3" r="4"/><circle cx="279.8" cy="1395.4" r="3"/><circle cx="286.2" cy="1395.2" r="5"/><circle cx="292.0" cy="1393.8" r="4"/><circle cx="298.1" cy="1393.2" r="4"/><circle cx="302.3" cy="1395.5" r="4.5"/><circle cx="305.8" cy="1400.3" r="3"/><circle cx="306.4" cy="1407.1" r="3"/><circle cx="306.5" cy="1413.3" r="3"/><circle cx="305.8" cy="1419.4" r="3.5"/><circle cx="304.6" cy="1425.5" r="5"/><circle cx="304.3" cy="1431.2" r="3.5"/><circle cx="302.7" cy="1437.4" r="3"/><circle cx="297.5" cy="1441.8" r="5"/><circle cx="291.8" cy="1444.9" r="4"/><circle cx="285.7" cy="1444.9" r="4"/><circle cx="280.3" cy="1443.5" r="5"/><circle cx="274.1" cy="1442.0" r="4.5"/><circle cx="267.6" cy="1440.9" r="3.5"/><circle cx="261.6" cy="1438.9" r="5"/><circle cx="254.0" cy="1436.8" r="4.5"/><circle cx="248.1" cy="1431.6" r="5"/><circle cx="242.5" cy="1423.4" r="3.5"/><circle cx="238.2" cy="1414.1" r="4.5"/><circle cx="235.2" cy="1407.1" r="3.5"/><circle cx="234.8" cy="1401.0" r="3.5"/><circle cx="234.7" cy="1394.8" r="4"/><circle cx="232.9" cy="1388.1" r="3.5"/><circle cx="226.0" cy="1382.5" r="5"/><circle cx="217.5" cy="1383.0" r="3.5"/><circle cx="210.1" cy="1383.6" r="3.5"/><circle cx="204.1" cy="1388.5" r="3.5"/><circle cx="202.0" cy="1394.5" r="5"/><circle cx="202.5" cy="1401.3" r="3.5"/><circle cx="202.5" cy="1407.5" r="4.5"/><circle cx="202.3" cy="1413.6" r="4.5"/><circle cx="204.6" cy="1422.1" r="5"/><circle cx="210.0" cy="1428.2" r="3"/><circle cx="212.1" cy="1437.1" r="4.5"/><circle cx="210.9" cy="1442.9" r="3"/><circle cx="206.2" cy="1451.6" r="3"/><circle cx="202.3" cy="1458.8" r="3"/><circle cx="197.2" cy="1462.4" r="3"/><circle cx="191.6" cy="1463.2" r="5"/><circle cx="186.4" cy="1465.5" r="4"/><circle cx="181.7" cy="1466.1" r="3.5"/><circle cx="175.7" cy="1464.7" r="4.5"/><circle cx="169.9" cy="1463.7" r="4"/><circle cx="163.8" cy="1461.6" r="4.5"/><circle cx="156.5" cy="1460.6" r="5"/><circle cx="150.1" cy="1461.4" r="4.5"/><circle cx="144.8" cy="1460.9" r="4"/><circle cx="138.9" cy="1458.0" r="5"/><circle cx="134.0" cy="1454.1" r="3.5"/><circle cx="130.9" cy="1445.7" r="3"/><circle cx="125.8" cy="1439.7" r="3.5"/><circle cx="121.1" cy="1439.7" r="3.5"/><circle cx="117.2" cy="1436.4" r="4.5"/><circle cx="107.3" cy="1435.8" r="5"/><circle cx="100.6" cy="1441.3" r="5"/><circle cx="94.5" cy="1446.2" r="5"/><circle cx="89.8" cy="1450.8" r="3"/><circle cx="84.6" cy="1453.1" r="4"/><circle cx="79.9" cy="1456.2" r="3.5"/><circle cx="74.6" cy="1460.4" r="3.5"/><circle cx="69.9" cy="1465.5" r="3"/><circle cx="65.1" cy="1470.0" r="3"/><circle cx="59.8" cy="1473.9" r="4"/><circle cx="54.6" cy="1477.0" r="4.5"/><circle cx="48.5" cy="1480.1" r="4.5"/><circle cx="42.2" cy="1480.7" r="3.5"/><circle cx="35.1" cy="1477.7" r="3"/><circle cx="29.6" cy="1472.8" r="3"/><circle cx="25.2" cy="1467.4" r="3.5"/><circle cx="21.1" cy="1461.1" r="4"/><circle cx="18.7" cy="1455.8" r="4"/><circle cx="18.0" cy="1449.6" r="5"/><circle cx="18.0" cy="1443.2" r="5"/><circle cx="19.4" cy="1436.4" r="3.5"/><circle cx="22.9" cy="1430.1" r="3"/><circle cx="24.2" cy="1420.8" r="4"/><circle cx="22.1" cy="1413.0" r="3.5"/><circle cx="21.4" cy="1406.8" r="4.5"/><circle cx="20.9" cy="1400.7" r="4"/><circle cx="22.0" cy="1393.4" r="5"/><circle cx="24.2" cy="1388.1" r="5"/><circle cx="27.6" cy="1384.9" r="3.5"/><circle cx="33.4" cy="1385.1" r="5"/><circle cx="38.6" cy="1377.9" r="3"/><circle cx="40.1" cy="1370.0" r="3"/><circle cx="41.9" cy="1363.6" r="4.5"/><circle cx="43.2" cy="1355.4" r="4"/><circle cx="43.1" cy="1345.9" r="4"/><circle cx="35.7" cy="1340.1" r="3"/><circle cx="31.0" cy="1335.1" r="3"/><circle cx="30.9" cy="1327.5" r="5"/><circle cx="29.8" cy="1321.5" r="3"/><circle cx="27.1" cy="1312.7" r="4.5"/><circle cx="21.8" cy="1304.4" r="3"/><circle cx="20.6" cy="1295.8" r="4"/><circle cx="20.6" cy="1288.5" r="4"/><circle cx="20.3" cy="1282.4" r="3.5"/><circle cx="20.0" cy="1276.3" r="3"/><circle cx="18.0" cy="1269.3" r="3"/><circle cx="11.1" cy="1263.5" r="4.5"/><circle cx="7.5" cy="1260.5" r="5"/><circle cx="9.3" cy="1257.2" r="4"/><circle cx="16.0" cy="1252.7" r="3"/><circle cx="21.5" cy="1246.1" r="3.5"/><circle cx="21.7" cy="1237.0" r="4"/><circle cx="16.9" cy="1229.4" r="4"/><circle cx="10.7" cy="1223.7" r="3"/><circle cx="9.5" cy="1217.6" r="4.5"/><circle cx="10.2" cy="1210.0" r="3"/><circle cx="11.6" cy="1202.3" r="4.5"/><circle cx="9.6" cy="1196.3" r="3"/><circle cx="9.2" cy="1188.3" r="4.5"/><circle cx="7.5" cy="1179.6" r="5"/><circle cx="5.9" cy="1174.9" r="3"/><circle cx="8.2" cy="1168.3" r="5"/><circle cx="9.2" cy="1160.9" r="4.5"/><circle cx="10.6" cy="1155.0" r="4.5"/><circle cx="12.7" cy="1149.9" r="5"/><circle cx="16.2" cy="1145.0" r="3"/><circle cx="22.9" cy="1141.9" r="5"/><circle cx="23.8" cy="1140.9" r="3"/><circle cx="139.9" cy="1243.6" r="3"/><circle cx="146.4" cy="1242.1" r="3"/><circle cx="153.4" cy="1241.6" r="3"/><circle cx="159.9" cy="1241.6" r="4"/><circle cx="166.0" cy="1248.2" r="4.5"/><circle cx="167.5" cy="1253.9" r="4"/><circle cx="171.2" cy="1258.2" r="4.5"/><circle cx="174.7" cy="1266.5" r="5"/><circle cx="170.3" cy="1276.6" r="4.5"/><circle cx="161.6" cy="1279.2" r="4.5"/><circle cx="155.1" cy="1278.7" r="4.5"/><circle cx="149.8" cy="1271.2" r="5"/><circle cx="149.9" cy="1263.0" r="3"/><circle cx="144.5" cy="1259.7" r="5"/><circle cx="135.9" cy="1251.8" r="5"/><circle cx="125.1" cy="1272.1" r="3"/><circle cx="131.6" cy="1271.1" r="4"/><circle cx="140.7" cy="1273.8" r="5"/><circle cx="140.2" cy="1281.6" r="3"/><circle cx="134.0" cy="1284.4" r="4.5"/><circle cx="125.1" cy="1283.6" r="3"/><circle cx="119.6" cy="1277.2" r="3.5"/><circle cx="136.2" cy="1223.3" r="3"/><circle cx="142.5" cy="1225.0" r="4.5"/><circle cx="148.8" cy="1225.0" r="5"/><circle cx="154.5" cy="1228.0" r="4.5"/><circle cx="149.4" cy="1233.7" r="4"/><circle cx="143.3" cy="1234.1" r="3"/><circle cx="135.9" cy="1234.1" r="4"/><circle cx="130.8" cy="1228.0" r="4"/><circle cx="59.1" cy="1361.4" r="3.5"/><circle cx="65.9" cy="1359.1" r="5"/><circle cx="73.5" cy="1360.8" r="3.5"/><circle cx="78.9" cy="1363.1" r="5"/><circle cx="82.2" cy="1369.8" r="3.5"/><circle cx="83.2" cy="1375.8" r="4"/><circle cx="84.1" cy="1381.7" r="4.5"/><circle cx="79.4" cy="1387.6" r="4.5"/><circle cx="73.8" cy="1387.3" r="3.5"/><circle cx="68.3" cy="1387.8" r="4"/><circle cx="62.9" cy="1388.3" r="4.5"/><circle cx="54.8" cy="1383.4" r="4"/><circle cx="51.9" cy="1374.1" r="3.5"/><circle cx="52.8" cy="1367.0" r="4.5"/><circle cx="236.2" cy="1319.6" r="3.5"/><circle cx="241.8" cy="1322.1" r="3.5"/><circle cx="251.1" cy="1321.8" r="4.5"/><circle cx="255.9" cy="1325.0" r="3.5"/><circle cx="261.0" cy="1325.4" r="5"/><circle cx="267.7" cy="1326.3" r="4"/><circle cx="270.7" cy="1325.4" r="3.5"/><circle cx="270.5" cy="1322.5" r="3.5"/><circle cx="267.5" cy="1317.4" r="3.5"/><circle cx="263.5" cy="1313.0" r="4.5"/><circle cx="259.3" cy="1307.7" r="4"/><circle cx="254.2" cy="1303.9" r="3"/><circle cx="249.4" cy="1304.2" r="3"/><circle cx="242.3" cy="1304.9" r="4"/><circle cx="240.1" cy="1311.9" r="3.5"/><circle cx="235.2" cy="1315.4" r="3"/><circle cx="106.3" cy="1175.1" r="2.5"/><circle cx="31.9" cy="1274.9" r="8"/><circle cx="42.5" cy="1201.5" r="8"/><circle cx="95.4" cy="1172.7" r="3"/><circle cx="185.1" cy="1324.5" r="3.5"/><circle cx="35.9" cy="1328.5" r="4"/><circle cx="121.8" cy="1319.9" r="3"/><circle cx="183.0" cy="1345.9" r="6"/><circle cx="220.0" cy="1276.1" r="5"/><circle cx="151.5" cy="1457.1" r="5"/><circle cx="98.6" cy="1409.9" r="4"/><circle cx="29.1" cy="1229.6" r="6"/><circle cx="40.7" cy="1272.6" r="5"/><circle cx="51.5" cy="1298.5" r="2.5"/><circle cx="185.8" cy="1439.5" r="5"/><circle cx="111.5" cy="1247.8" r="6"/><circle cx="188.0" cy="1286.5" r="3"/><circle cx="226.8" cy="1356.2" r="6"/><circle cx="93.8" cy="1260.8" r="5"/><circle cx="56.6" cy="1162.7" r="2.5"/><circle cx="72.6" cy="1224.9" r="4"/><circle cx="264.4" cy="1435.4" r="4.5"/><circle cx="220.8" cy="1258.9" r="4"/><circle cx="51.1" cy="1184.3" r="4"/><circle cx="268.1" cy="1186.6" r="4.5"/><circle cx="120.8" cy="1326.7" r="3.5"/><circle cx="148.7" cy="1437.9" r="7"/><circle cx="128.2" cy="1265.6" r="3"/><circle cx="183.8" cy="1315.9" r="5"/><circle cx="69.3" cy="1257.3" r="4.5"/><circle cx="156.2" cy="1233.8" r="3.5"/><circle cx="35.6" cy="1245.1" r="4.5"/><circle cx="155.7" cy="1372.6" r="7"/><circle cx="86.3" cy="1253.8" r="3.5"/><circle cx="116.5" cy="1201.3" r="7"/><circle cx="251.5" cy="1240.3" r="4"/><circle cx="198.6" cy="1407.8" r="4"/><circle cx="260.1" cy="1418.7" r="4"/><circle cx="66.8" cy="1299.9" r="2.5"/><circle cx="196.0" cy="1245.7" r="5"/><circle cx="73.3" cy="1202.8" r="4"/><circle cx="110.7" cy="1296.2" r="8"/><circle cx="293.2" cy="1405.5" r="4"/><circle cx="254.7" cy="1241.4" r="5.5"/><circle cx="150.7" cy="1391.3" r="3"/><circle cx="43.5" cy="1175.2" r="6"/><circle cx="260.3" cy="1173.4" r="8"/><circle cx="114.8" cy="1320.3" r="3.5"/><circle cx="266.5" cy="1197.0" r="4.5"/><circle cx="70.9" cy="1302.9" r="8"/><circle cx="107.0" cy="1318.7" r="3.5"/><circle cx="167.8" cy="1421.9" r="7"/><circle cx="44.7" cy="1175.4" r="7"/><circle cx="257.9" cy="1182.9" r="6"/><circle cx="172.3" cy="1296.1" r="3"/><circle cx="64.0" cy="1135.4" r="3"/><circle cx="165.0" cy="1325.0" r="3"/><circle cx="144.4" cy="1343.6" r="7"/><circle cx="91.4" cy="1305.5" r="6"/><circle cx="169.9" cy="1439.7" r="4.5"/><circle cx="67.6" cy="1283.3" r="5.5"/><circle cx="41.8" cy="1281.4" r="3"/><circle cx="217.1" cy="1276.3" r="4"/><circle cx="289.2" cy="1176.4" r="5"/><circle cx="48.6" cy="1442.2" r="6"/><circle cx="130.0" cy="1297.9" r="4"/><circle cx="54.5" cy="1277.5" r="7"/><circle cx="119.7" cy="1243.4" r="6"/><circle cx="108.7" cy="1347.7" r="7"/><circle cx="309.5" cy="1161.2" r="4"/><circle cx="313.0" cy="1158.2" r="4.5"/><circle cx="89.3" cy="1167.3" r="5.5"/><circle cx="174.2" cy="1307.9" r="6"/><circle cx="111.2" cy="1321.9" r="4.5"/><circle cx="312.2" cy="1215.6" r="3.5"/><circle cx="67.4" cy="1233.9" r="4.5"/><circle cx="145.2" cy="1365.3" r="4.5"/><circle cx="145.6" cy="1360.3" r="5.5"/><circle cx="205.9" cy="1267.7" r="5"/><circle cx="124.5" cy="1304.7" r="4.5"/><circle cx="194.0" cy="1372.8" r="2.5"/><circle cx="61.4" cy="1242.4" r="3"/><circle cx="154.4" cy="1303.5" r="4"/><circle cx="82.2" cy="1403.3" r="3"/><circle cx="87.3" cy="1152.8" r="5.5"/><circle cx="190.2" cy="1263.8" r="4.5"/><circle cx="100.1" cy="1205.0" r="8"/><circle cx="52.5" cy="1445.9" r="8"/><circle cx="127.3" cy="1239.0" r="6"/><circle cx="50.7" cy="1384.3" r="3.5"/><circle cx="269.3" cy="1413.7" r="8"/><circle cx="257.6" cy="1379.6" r="4"/><circle cx="81.0" cy="1216.3" r="6"/><circle cx="257.5" cy="1393.1" r="7"/><circle cx="261.1" cy="1428.8" r="4"/><circle cx="235.7" cy="1194.9" r="6"/><circle cx="155.8" cy="1369.5" r="2.5"/><circle cx="199.8" cy="1354.6" r="3"/><circle cx="194.3" cy="1241.1" r="4.5"/><circle cx="156.9" cy="1297.3" r="3"/><circle cx="223.8" cy="1366.6" r="4.5"/><circle cx="229.1" cy="1224.2" r="6"/><circle cx="288.1" cy="1192.7" r="3"/><circle cx="149.4" cy="1419.3" r="6"/><circle cx="26.8" cy="1153.0" r="7"/><circle cx="86.5" cy="1251.2" r="8"/><circle cx="76.8" cy="1447.7" r="6"/><circle cx="220.4" cy="1268.0" r="3.5"/><circle cx="135.8" cy="1257.3" r="3"/><circle cx="302.8" cy="1191.4" r="2.5"/><circle cx="290.6" cy="1225.8" r="5"/><circle cx="23.7" cy="1262.4" r="8"/><circle cx="27.4" cy="1457.8" r="4.5"/><circle cx="275.5" cy="1222.4" r="2.5"/><circle cx="82.5" cy="1217.0" r="7"/><circle cx="103.7" cy="1402.2" r="5.5"/><circle cx="285.1" cy="1416.4" r="5.5"/><circle cx="178.2" cy="1382.6" r="2.5"/><circle cx="57.5" cy="1271.4" r="4.5"/><circle cx="98.0" cy="1389.7" r="4.5"/><circle cx="157.1" cy="1364.1" r="3"/><circle cx="56.4" cy="1179.0" r="4"/><circle cx="162.7" cy="1416.3" r="7"/><circle cx="73.2" cy="1450.8" r="6"/><circle cx="139.3" cy="1319.9" r="4"/><circle cx="31.9" cy="1244.8" r="3"/><circle cx="104.9" cy="1254.4" r="8"/><circle cx="240.9" cy="1196.7" r="4.5"/><circle cx="43.2" cy="1303.7" r="4"/><circle cx="32.5" cy="1447.3" r="5.5"/><circle cx="266.4" cy="1432.2" r="6"/><circle cx="82.3" cy="1159.8" r="3.5"/><circle cx="51.5" cy="1474.7" r="3"/><circle cx="148.9" cy="1321.3" r="2.5"/><circle cx="202.8" cy="1312.8" r="5.5"/><circle cx="64.2" cy="1215.2" r="8"/><circle cx="103.9" cy="1426.4" r="4"/><circle cx="227.8" cy="1232.2" r="2.5"/><circle cx="64.9" cy="1443.0" r="5.5"/><circle cx="28.9" cy="1203.2" r="5.5"/><circle cx="298.1" cy="1202.8" r="2.5"/><circle cx="257.3" cy="1389.8" r="7"/><circle cx="24.5" cy="1300.9" r="4"/><circle cx="102.4" cy="1419.3" r="4"/><circle cx="286.7" cy="1159.8" r="8"/><circle cx="74.2" cy="1272.2" r="2.5"/><circle cx="305.7" cy="1173.4" r="5.5"/><circle cx="193.2" cy="1271.6" r="2.5"/><circle cx="61.7" cy="1284.1" r="5"/><circle cx="62.2" cy="1461.6" r="6"/><circle cx="123.8" cy="1256.5" r="5"/><circle cx="28.0" cy="1149.5" r="5.5"/><circle cx="307.8" cy="1165.2" r="4"/><circle cx="124.3" cy="1400.6" r="4.5"/><circle cx="175.7" cy="1282.9" r="5"/><circle cx="262.0" cy="1399.8" r="2.5"/><circle cx="122.8" cy="1289.4" r="2.5"/><circle cx="85.0" cy="1392.8" r="8"/><circle cx="111.2" cy="1219.4" r="8"/><circle cx="97.9" cy="1383.4" r="8"/><circle cx="77.6" cy="1293.4" r="6"/><circle cx="83.1" cy="1276.9" r="6"/><circle cx="45.3" cy="1301.2" r="2.5"/><circle cx="259.0" cy="1389.5" r="3.5"/><circle cx="196.7" cy="1239.6" r="5"/><circle cx="150.0" cy="1406.1" r="8"/><circle cx="28.2" cy="1192.0" r="3.5"/><circle cx="87.5" cy="1150.7" r="3"/><circle cx="313.1" cy="1183.2" r="3.5"/><circle cx="136.0" cy="1346.4" r="4"/><circle cx="183.8" cy="1256.1" r="4.5"/><circle cx="66.5" cy="1210.3" r="4"/><circle cx="78.1" cy="1222.7" r="8"/><circle cx="63.1" cy="1143.7" r="4.5"/><circle cx="76.8" cy="1415.1" r="6"/><circle cx="154.4" cy="1419.0" r="6"/><circle cx="96.7" cy="1163.5" r="4"/><circle cx="194.6" cy="1422.2" r="4"/><circle cx="85.9" cy="1403.9" r="2.5"/><circle cx="262.9" cy="1418.9" r="5.5"/><circle cx="102.6" cy="1194.2" r="6"/><circle cx="35.3" cy="1264.3" r="7"/><circle cx="52.3" cy="1314.9" r="3.5"/><circle cx="216.0" cy="1272.5" r="2.5"/><circle cx="102.6" cy="1326.8" r="5"/><circle cx="247.6" cy="1412.8" r="4"/><circle cx="127.6" cy="1267.8" r="2.5"/><circle cx="39.2" cy="1153.0" r="8"/><circle cx="48.5" cy="1414.4" r="5.5"/><circle cx="121.3" cy="1304.1" r="3.5"/><circle cx="114.0" cy="1179.1" r="3.5"/><circle cx="298.2" cy="1159.7" r="6"/><circle cx="243.4" cy="1409.1" r="4"/><circle cx="99.2" cy="1425.6" r="2.5"/><circle cx="132.0" cy="1428.9" r="6"/><circle cx="61.4" cy="1199.6" r="5.5"/><circle cx="302.4" cy="1177.1" r="5"/><circle cx="42.3" cy="1210.2" r="4"/><circle cx="270.4" cy="1163.0" r="8"/><circle cx="148.4" cy="1429.9" r="4.5"/><circle cx="210.0" cy="1232.5" r="4"/><circle cx="138.8" cy="1360.5" r="6"/><circle cx="151.4" cy="1283.1" r="8"/><circle cx="60.3" cy="1292.7" r="3"/><circle cx="24.4" cy="1250.9" r="5"/><circle cx="32.3" cy="1281.3" r="7"/><circle cx="44.6" cy="1456.6" r="5"/><circle cx="251.1" cy="1306.7" r="2.5"/><circle cx="198.9" cy="1372.8" r="3"/><circle cx="295.2" cy="1180.3" r="4"/><circle cx="23.9" cy="1248.1" r="4.5"/><circle cx="53.6" cy="1447.2" r="4.5"/><circle cx="156.2" cy="1336.0" r="8"/><circle cx="164.4" cy="1236.5" r="2.5"/><circle cx="66.5" cy="1267.3" r="4.5"/><circle cx="56.8" cy="1406.5" r="3"/><circle cx="147.5" cy="1310.3" r="3"/><circle cx="83.4" cy="1315.5" r="5.5"/><circle cx="238.4" cy="1255.6" r="5.5"/><circle cx="117.9" cy="1399.1" r="6"/><circle cx="76.4" cy="1344.6" r="2.5"/><circle cx="97.5" cy="1308.4" r="4.5"/><circle cx="189.9" cy="1362.2" r="5"/><circle cx="236.8" cy="1392.7" r="4"/><circle cx="50.6" cy="1344.9" r="5.5"/><circle cx="136.2" cy="1252.9" r="2.5"/><circle cx="45.1" cy="1202.9" r="2.5"/><circle cx="116.9" cy="1201.9" r="8"/><circle cx="99.1" cy="1168.8" r="5"/><circle cx="202.0" cy="1293.3" r="3.5"/><circle cx="228.7" cy="1284.6" r="3"/><circle cx="206.6" cy="1438.0" r="4.5"/><circle cx="182.4" cy="1247.9" r="8"/><circle cx="82.3" cy="1449.8" r="2.5"/><circle cx="62.2" cy="1178.1" r="3"/><circle cx="303.2" cy="1171.9" r="4"/><circle cx="168.3" cy="1354.6" r="5.5"/><circle cx="262.5" cy="1183.7" r="4.5"/><circle cx="155.5" cy="1316.5" r="5.5"/><circle cx="151.4" cy="1390.7" r="6"/><circle cx="86.4" cy="1355.1" r="3"/><circle cx="110.0" cy="1393.6" r="4.5"/><circle cx="230.0" cy="1217.1" r="7"/><circle cx="219.7" cy="1370.3" r="7"/><circle cx="313.0" cy="1227.9" r="4"/><circle cx="30.2" cy="1305.2" r="3.5"/><circle cx="86.1" cy="1206.2" r="4"/><circle cx="107.8" cy="1207.3" r="7"/><circle cx="152.8" cy="1426.5" r="2.5"/><circle cx="101.2" cy="1197.4" r="8"/><circle cx="189.7" cy="1326.3" r="3.5"/><circle cx="49.1" cy="1129.8" r="3"/><circle cx="12.8" cy="1170.5" r="2.5"/><circle cx="118.9" cy="1418.4" r="7"/><circle cx="304.2" cy="1159.1" r="4"/><circle cx="104.8" cy="1274.7" r="2.5"/><circle cx="293.4" cy="1400.8" r="8"/><circle cx="163.7" cy="1430.8" r="8"/><circle cx="240.9" cy="1408.0" r="2.5"/><circle cx="142.2" cy="1402.2" r="5"/><circle cx="183.6" cy="1380.8" r="3"/><circle cx="186.3" cy="1224.8" r="5.5"/><circle cx="159.8" cy="1410.8" r="3.5"/><circle cx="76.9" cy="1180.5" r="3"/><circle cx="240.7" cy="1274.1" r="2.5"/><circle cx="121.7" cy="1230.6" r="5.5"/><circle cx="77.5" cy="1288.2" r="7"/><circle cx="192.5" cy="1371.6" r="8"/><circle cx="209.2" cy="1247.2" r="5"/><circle cx="169.4" cy="1436.8" r="6"/><circle cx="57.1" cy="1280.2" r="4.5"/><circle cx="150.4" cy="1443.1" r="4"/><circle cx="52.3" cy="1176.9" r="4"/><circle cx="114.2" cy="1206.2" r="4"/><circle cx="65.3" cy="1175.1" r="3.5"/><circle cx="256.6" cy="1387.7" r="5.5"/><circle cx="90.3" cy="1159.9" r="3"/><circle cx="92.6" cy="1443.1" r="6"/><circle cx="195.6" cy="1267.7" r="4"/><circle cx="186.1" cy="1393.4" r="5.5"/><circle cx="207.7" cy="1285.7" r="5"/><circle cx="85.9" cy="1375.7" r="5.5"/><circle cx="80.3" cy="1266.0" r="3.5"/><circle cx="82.8" cy="1274.6" r="6"/><circle cx="168.3" cy="1361.3" r="3.5"/><circle cx="292.7" cy="1158.8" r="4.5"/><circle cx="186.3" cy="1317.5" r="6"/><circle cx="166.4" cy="1353.3" r="5"/><circle cx="305.4" cy="1196.7" r="3.5"/><circle cx="128.2" cy="1398.4" r="3"/><circle cx="27.0" cy="1454.1" r="5"/><circle cx="99.8" cy="1266.2" r="7"/><circle cx="55.5" cy="1459.2" r="3"/><circle cx="115.6" cy="1353.2" r="5.5"/><circle cx="152.7" cy="1406.0" r="4"/><circle cx="88.3" cy="1257.3" r="4.5"/><circle cx="156.6" cy="1414.0" r="4.5"/><circle cx="117.2" cy="1358.9" r="5"/><circle cx="213.3" cy="1252.3" r="4.5"/><circle cx="253.1" cy="1171.2" r="5"/><circle cx="35.4" cy="1172.1" r="4"/><circle cx="62.2" cy="1285.0" r="3.5"/><circle cx="69.5" cy="1266.9" r="7"/><circle cx="56.6" cy="1445.3" r="8"/><circle cx="254.4" cy="1426.2" r="4"/><circle cx="28.1" cy="1426.3" r="3"/><circle cx="180.1" cy="1216.5" r="4"/><circle cx="180.7" cy="1296.8" r="3.5"/><circle cx="226.4" cy="1210.0" r="3.5"/><circle cx="175.1" cy="1435.0" r="2.5"/><circle cx="54.2" cy="1237.0" r="8"/><circle cx="161.7" cy="1228.3" r="6"/><circle cx="60.6" cy="1251.5" r="2.5"/><circle cx="157.5" cy="1396.4" r="3.5"/><circle cx="202.5" cy="1243.6" r="5"/><circle cx="111.9" cy="1404.2" r="7"/><circle cx="248.8" cy="1196.9" r="5.5"/><circle cx="112.1" cy="1211.8" r="2.5"/><circle cx="131.8" cy="1303.9" r="4.5"/><circle cx="67.9" cy="1299.7" r="3"/><circle cx="108.6" cy="1235.7" r="4.5"/><circle cx="43.7" cy="1475.1" r="3"/><circle cx="63.6" cy="1456.3" r="8"/><circle cx="162.8" cy="1318.4" r="5.5"/><circle cx="199.7" cy="1348.8" r="8"/><circle cx="281.1" cy="1170.6" r="4.5"/><circle cx="61.9" cy="1132.5" r="2.5"/><circle cx="140.4" cy="1354.2" r="2.5"/><circle cx="161.8" cy="1310.6" r="3"/><circle cx="126.5" cy="1336.1" r="3.5"/><circle cx="70.7" cy="1175.4" r="2.5"/><circle cx="276.9" cy="1199.7" r="3"/><circle cx="241.4" cy="1373.6" r="3.5"/><circle cx="203.5" cy="1378.9" r="6"/><circle cx="200.2" cy="1262.0" r="4.5"/><circle cx="197.3" cy="1235.4" r="8"/><circle cx="235.2" cy="1291.5" r="3.5"/><circle cx="49.2" cy="1411.0" r="5"/><circle cx="307.3" cy="1179.9" r="5.5"/><circle cx="155.2" cy="1404.0" r="6"/><circle cx="109.5" cy="1222.2" r="8"/><circle cx="51.2" cy="1423.9" r="8"/><circle cx="139.7" cy="1444.2" r="5.5"/><circle cx="126.6" cy="1257.3" r="4"/><circle cx="260.6" cy="1223.4" r="2.5"/><circle cx="105.6" cy="1217.8" r="3.5"/><circle cx="190.1" cy="1417.8" r="2.5"/><circle cx="95.0" cy="1171.3" r="8"/><circle cx="49.9" cy="1476.0" r="7"/><circle cx="179.6" cy="1411.0" r="4"/><circle cx="254.3" cy="1383.6" r="4"/><circle cx="129.2" cy="1378.5" r="4.5"/><circle cx="125.8" cy="1317.3" r="7"/><circle cx="260.3" cy="1401.8" r="4"/><circle cx="130.0" cy="1310.2" r="4.5"/><circle cx="155.0" cy="1335.1" r="4"/><circle cx="70.8" cy="1153.6" r="4.5"/><circle cx="118.7" cy="1326.0" r="5.5"/><circle cx="251.7" cy="1432.8" r="4"/><circle cx="92.5" cy="1341.6" r="3"/><circle cx="247.8" cy="1418.9" r="3.5"/><circle cx="67.1" cy="1186.0" r="3"/><circle cx="120.9" cy="1377.5" r="6"/><circle cx="309.0" cy="1213.9" r="8"/><circle cx="77.4" cy="1152.8" r="7"/><circle cx="121.3" cy="1205.8" r="4"/><circle cx="57.9" cy="1463.7" r="5"/><circle cx="85.3" cy="1307.4" r="6"/><circle cx="20.8" cy="1172.9" r="2.5"/><circle cx="98.3" cy="1335.9" r="3"/><circle cx="127.4" cy="1256.9" r="5.5"/><circle cx="56.8" cy="1207.0" r="3.5"/><circle cx="231.8" cy="1191.2" r="2.5"/><circle cx="53.1" cy="1424.0" r="3"/><circle cx="300.9" cy="1436.4" r="3.5"/><circle cx="77.6" cy="1162.2" r="5"/><circle cx="48.5" cy="1200.9" r="2.5"/><circle cx="60.5" cy="1284.8" r="3.5"/><circle cx="97.6" cy="1413.5" r="4.5"/><circle cx="159.6" cy="1236.1" r="6"/><circle cx="39.4" cy="1477.2" r="2.5"/><circle cx="181.6" cy="1424.9" r="3"/><circle cx="85.2" cy="1193.6" r="5"/><circle cx="79.1" cy="1206.9" r="5.5"/><circle cx="49.0" cy="1353.5" r="6"/><circle cx="260.4" cy="1244.4" r="3.5"/><circle cx="144.3" cy="1408.2" r="7"/><circle cx="94.4" cy="1251.4" r="2.5"/><circle cx="293.9" cy="1199.7" r="8"/><circle cx="60.6" cy="1427.8" r="7"/><circle cx="248.8" cy="1379.7" r="4"/><circle cx="194.6" cy="1422.6" r="8"/><circle cx="236.1" cy="1397.9" r="3.5"/><circle cx="68.7" cy="1343.5" r="4"/><circle cx="168.4" cy="1246.9" r="4.5"/><circle cx="271.6" cy="1435.5" r="6"/><circle cx="31.8" cy="1269.5" r="6"/><circle cx="45.5" cy="1362.9" r="4"/><circle cx="62.4" cy="1423.5" r="5"/><circle cx="186.4" cy="1433.2" r="5"/><circle cx="168.8" cy="1282.7" r="7"/><circle cx="25.8" cy="1250.2" r="4"/><circle cx="263.5" cy="1435.9" r="5"/><circle cx="160.8" cy="1307.4" r="7"/><circle cx="259.6" cy="1169.0" r="4"/><circle cx="56.6" cy="1233.8" r="7"/><circle cx="194.2" cy="1330.4" r="7"/><circle cx="79.0" cy="1282.1" r="5"/><circle cx="17.4" cy="1164.9" r="6"/><circle cx="189.9" cy="1398.0" r="3"/><circle cx="41.9" cy="1268.1" r="3.5"/><circle cx="241.2" cy="1180.0" r="2.5"/><circle cx="137.1" cy="1426.5" r="7"/><circle cx="79.7" cy="1242.3" r="5.5"/><circle cx="263.0" cy="1429.4" r="2.5"/><circle cx="106.6" cy="1173.5" r="5"/><circle cx="82.5" cy="1274.1" r="2.5"/><circle cx="119.3" cy="1313.7" r="3"/><circle cx="106.5" cy="1193.3" r="2.5"/><circle cx="74.9" cy="1273.6" r="5.5"/><circle cx="285.1" cy="1442.9" r="2.5"/><circle cx="169.0" cy="1278.3" r="2.5"/><circle cx="94.7" cy="1231.5" r="3.5"/><circle cx="41.4" cy="1336.9" r="7"/><circle cx="191.3" cy="1460.2" r="6"/><circle cx="42.5" cy="1167.9" r="4.5"/><circle cx="90.4" cy="1388.6" r="7"/><circle cx="94.6" cy="1285.8" r="8"/><circle cx="73.7" cy="1261.1" r="7"/><circle cx="229.6" cy="1288.2" r="7"/><circle cx="99.9" cy="1294.4" r="4.5"/><circle cx="63.2" cy="1319.3" r="8"/><circle cx="54.8" cy="1467.5" r="5"/><circle cx="180.6" cy="1299.4" r="4.5"/><circle cx="283.2" cy="1198.9" r="2.5"/><circle cx="249.3" cy="1177.9" r="3"/><circle cx="196.3" cy="1247.0" r="2.5"/><circle cx="167.9" cy="1424.5" r="5"/><circle cx="67.6" cy="1342.9" r="4.5"/><circle cx="238.7" cy="1391.3" r="6"/><circle cx="88.7" cy="1350.2" r="3.5"/><circle cx="133.9" cy="1320.7" r="3"/><circle cx="185.5" cy="1272.5" r="4.5"/><circle cx="94.9" cy="1248.7" r="5"/><circle cx="127.6" cy="1322.7" r="5.5"/><circle cx="124.4" cy="1229.5" r="7"/><circle cx="100.0" cy="1172.9" r="8"/><circle cx="123.3" cy="1204.7" r="5"/><circle cx="106.3" cy="1427.8" r="4"/><circle cx="308.8" cy="1194.6" r="5.5"/><circle cx="98.6" cy="1315.8" r="4.5"/><circle cx="168.1" cy="1308.8" r="5.5"/><circle cx="127.3" cy="1250.6" r="8"/><circle cx="218.7" cy="1285.4" r="2.5"/><circle cx="34.6" cy="1256.7" r="5.5"/><circle cx="52.2" cy="1188.7" r="5.5"/><circle cx="32.4" cy="1252.4" r="5"/><circle cx="52.9" cy="1225.8" r="7"/><circle cx="69.3" cy="1446.0" r="5.5"/><circle cx="61.2" cy="1350.0" r="8"/><circle cx="37.0" cy="1328.0" r="2.5"/><circle cx="179.4" cy="1454.7" r="5.5"/><circle cx="161.8" cy="1321.9" r="4.5"/><circle cx="66.3" cy="1339.6" r="3.5"/><circle cx="53.0" cy="1397.2" r="3"/><circle cx="159.4" cy="1290.6" r="5.5"/><circle cx="106.0" cy="1381.1" r="5"/><circle cx="203.6" cy="1433.7" r="8"/><circle cx="23.1" cy="1190.0" r="8"/><circle cx="289.7" cy="1417.8" r="4.5"/><circle cx="134.9" cy="1265.5" r="6"/><circle cx="30.9" cy="1182.0" r="5.5"/><circle cx="95.7" cy="1325.0" r="3"/><circle cx="110.1" cy="1357.7" r="3"/><circle cx="137.7" cy="1453.2" r="7"/><circle cx="81.1" cy="1189.8" r="4.5"/><circle cx="112.9" cy="1279.0" r="4.5"/><circle cx="214.9" cy="1244.6" r="3.5"/><circle cx="80.1" cy="1167.4" r="4"/><circle cx="89.0" cy="1424.8" r="3.5"/><circle cx="180.0" cy="1290.5" r="4"/><circle cx="53.8" cy="1248.8" r="5.5"/><circle cx="68.2" cy="1433.3" r="3.5"/><circle cx="193.1" cy="1280.7" r="5"/><circle cx="70.8" cy="1438.4" r="3"/><circle cx="76.9" cy="1188.7" r="3"/><circle cx="24.7" cy="1453.6" r="7"/><circle cx="244.9" cy="1190.4" r="4.5"/><circle cx="31.1" cy="1225.3" r="5.5"/><circle cx="93.1" cy="1267.2" r="6"/><circle cx="277.7" cy="1168.2" r="4.5"/><circle cx="59.3" cy="1253.8" r="5"/><circle cx="227.5" cy="1288.8" r="5.5"/><circle cx="115.3" cy="1349.5" r="3.5"/><circle cx="96.0" cy="1218.9" r="8"/><circle cx="237.2" cy="1380.1" r="2.5"/><circle cx="132.1" cy="1342.1" r="5.5"/><circle cx="66.2" cy="1230.6" r="5.5"/><circle cx="238.5" cy="1321.6" r="3.5"/><circle cx="161.8" cy="1310.1" r="5.5"/><circle cx="301.5" cy="1160.8" r="4.5"/><circle cx="290.4" cy="1439.4" r="8"/><circle cx="81.0" cy="1160.6" r="5"/><circle cx="70.0" cy="1453.8" r="3"/><circle cx="136.1" cy="1391.5" r="8"/><circle cx="267.4" cy="1222.6" r="3"/><circle cx="203.4" cy="1285.3" r="2.5"/><circle cx="86.3" cy="1319.4" r="4"/><circle cx="46.8" cy="1370.5" r="6"/><circle cx="80.1" cy="1308.1" r="6"/><circle cx="45.5" cy="1353.9" r="4.5"/><circle cx="45.6" cy="1378.3" r="8"/><circle cx="182.7" cy="1241.8" r="3"/><circle cx="177.9" cy="1397.6" r="3.5"/><circle cx="106.5" cy="1291.1" r="5"/><circle cx="95.4" cy="1323.5" r="2.5"/><circle cx="253.1" cy="1237.5" r="5"/><circle cx="81.5" cy="1170.6" r="2.5"/><circle cx="97.5" cy="1187.8" r="7"/><circle cx="56.7" cy="1406.4" r="4.5"/><circle cx="239.8" cy="1239.2" r="3.5"/><circle cx="209.5" cy="1250.0" r="4"/><circle cx="120.6" cy="1321.2" r="5"/><circle cx="270.3" cy="1212.5" r="2.5"/><circle cx="160.7" cy="1302.3" r="3.5"/><circle cx="75.6" cy="1170.5" r="5.5"/><circle cx="197.8" cy="1424.2" r="7"/><circle cx="259.5" cy="1366.5" r="8"/><circle cx="65.3" cy="1151.0" r="5"/><circle cx="292.9" cy="1435.9" r="5.5"/><circle cx="97.8" cy="1328.5" r="5"/><circle cx="156.4" cy="1356.3" r="4.5"/><circle cx="205.2" cy="1429.6" r="4"/><circle cx="219.5" cy="1283.3" r="3"/><circle cx="49.9" cy="1331.4" r="7"/><circle cx="188.3" cy="1272.0" r="7"/><circle cx="79.6" cy="1281.1" r="4.5"/><circle cx="39.4" cy="1185.9" r="4"/><circle cx="278.0" cy="1212.5" r="3"/><circle cx="229.2" cy="1202.9" r="6"/><circle cx="75.3" cy="1329.0" r="3"/><circle cx="183.8" cy="1430.8" r="3"/><circle cx="258.3" cy="1169.0" r="7"/><circle cx="178.6" cy="1380.8" r="3"/><circle cx="167.3" cy="1287.9" r="5.5"/><circle cx="64.1" cy="1293.4" r="3"/><circle cx="46.6" cy="1403.3" r="2.5"/><circle cx="41.5" cy="1169.5" r="3"/><circle cx="201.2" cy="1438.3" r="8"/><circle cx="39.6" cy="1385.8" r="5"/><circle cx="56.6" cy="1392.1" r="5"/><circle cx="259.5" cy="1388.7" r="2.5"/><circle cx="266.4" cy="1164.8" r="5"/><circle cx="166.7" cy="1311.5" r="5"/><circle cx="178.1" cy="1413.1" r="3"/><circle cx="80.3" cy="1249.3" r="6"/><circle cx="143.3" cy="1408.8" r="6"/><circle cx="38.2" cy="1412.3" r="3.5"/><circle cx="50.9" cy="1459.9" r="5.5"/><circle cx="245.9" cy="1218.1" r="6"/><circle cx="51.1" cy="1303.1" r="2.5"/><circle cx="61.1" cy="1418.7" r="8"/><circle cx="128.2" cy="1293.7" r="3.5"/><circle cx="224.0" cy="1283.7" r="4"/><circle cx="27.2" cy="1240.2" r="4"/><circle cx="102.3" cy="1167.8" r="8"/><circle cx="16.9" cy="1182.0" r="5"/><circle cx="235.0" cy="1240.9" r="6"/><circle cx="126.7" cy="1249.1" r="2.5"/><circle cx="110.0" cy="1296.5" r="4"/><circle cx="49.5" cy="1364.9" r="4.5"/><circle cx="186.0" cy="1333.3" r="3.5"/><circle cx="181.8" cy="1401.4" r="4"/><circle cx="205.4" cy="1252.5" r="4.5"/><circle cx="256.0" cy="1206.9" r="3.5"/><circle cx="220.3" cy="1231.0" r="5"/><circle cx="114.8" cy="1321.0" r="5.5"/><circle cx="109.7" cy="1377.0" r="5"/><circle cx="284.9" cy="1405.6" r="7"/><circle cx="120.2" cy="1208.8" r="4"/><circle cx="68.5" cy="1444.4" r="6"/><circle cx="132.2" cy="1264.6" r="4.5"/><circle cx="48.9" cy="1382.7" r="4.5"/><circle cx="28.5" cy="1185.2" r="8"/><circle cx="115.8" cy="1290.8" r="5.5"/><circle cx="58.9" cy="1447.7" r="7"/><circle cx="10.4" cy="1180.1" r="4.5"/><circle cx="287.8" cy="1223.2" r="7"/><circle cx="89.3" cy="1354.5" r="2.5"/><circle cx="70.7" cy="1239.3" r="2.5"/><circle cx="210.0" cy="1267.9" r="5"/><circle cx="58.7" cy="1435.1" r="2.5"/><circle cx="104.1" cy="1358.7" r="5"/><circle cx="234.0" cy="1240.1" r="3"/><circle cx="174.8" cy="1334.8" r="7"/><circle cx="108.5" cy="1390.5" r="4.5"/><circle cx="181.4" cy="1251.9" r="7"/><circle cx="303.2" cy="1168.1" r="2.5"/><circle cx="51.0" cy="1349.6" r="5.5"/><circle cx="11.9" cy="1169.0" r="2.5"/><circle cx="251.0" cy="1214.6" r="8"/><circle cx="119.6" cy="1174.5" r="3.5"/><circle cx="280.8" cy="1432.3" r="3.5"/><circle cx="171.6" cy="1248.1" r="4"/><circle cx="143.9" cy="1433.8" r="4"/><circle cx="205.9" cy="1245.6" r="5.5"/><circle cx="149.8" cy="1238.2" r="2.5"/><circle cx="37.4" cy="1387.7" r="3"/><circle cx="218.1" cy="1248.0" r="4"/><circle cx="183.0" cy="1269.6" r="5.5"/><circle cx="74.5" cy="1212.0" r="4.5"/><circle cx="229.3" cy="1208.3" r="5"/><circle cx="67.8" cy="1397.1" r="4.5"/><circle cx="72.1" cy="1327.9" r="3.5"/><circle cx="307.4" cy="1169.8" r="4.5"/><circle cx="93.1" cy="1241.0" r="6"/><circle cx="281.2" cy="1211.2" r="5"/><circle cx="147.5" cy="1331.4" r="4"/><circle cx="10.8" cy="1160.7" r="2.5"/><circle cx="45.5" cy="1230.5" r="7"/><circle cx="31.8" cy="1243.9" r="5.5"/><circle cx="13.5" cy="1205.6" r="2.5"/><circle cx="76.9" cy="1277.1" r="3"/><circle cx="38.2" cy="1469.4" r="3.5"/><circle cx="74.4" cy="1317.3" r="7"/><circle cx="115.8" cy="1301.1" r="3"/><circle cx="114.5" cy="1198.5" r="4"/><circle cx="236.3" cy="1219.6" r="3.5"/><circle cx="65.7" cy="1137.5" r="7"/><circle cx="306.7" cy="1217.5" r="5"/><circle cx="222.5" cy="1358.4" r="7"/><circle cx="93.0" cy="1240.7" r="5.5"/><circle cx="232.0" cy="1265.7" r="5"/><circle cx="175.3" cy="1259.8" r="3.5"/><circle cx="126.5" cy="1260.7" r="5.5"/><circle cx="231.5" cy="1268.1" r="7"/><circle cx="106.5" cy="1355.9" r="7"/><circle cx="216.1" cy="1286.3" r="8"/><circle cx="77.8" cy="1349.8" r="5.5"/><circle cx="314.3" cy="1217.2" r="5"/><circle cx="26.0" cy="1411.0" r="4"/><circle cx="297.7" cy="1399.4" r="4.5"/><circle cx="48.3" cy="1458.5" r="7"/><circle cx="119.1" cy="1194.8" r="3.5"/><circle cx="262.5" cy="1207.1" r="3.5"/><circle cx="51.6" cy="1361.6" r="3.5"/><circle cx="105.7" cy="1252.0" r="5.5"/><circle cx="42.2" cy="1176.2" r="4.5"/><circle cx="122.7" cy="1253.1" r="7"/><circle cx="169.3" cy="1285.3" r="3"/><circle cx="90.7" cy="1226.0" r="6"/><circle cx="224.7" cy="1284.0" r="6"/><circle cx="50.8" cy="1368.3" r="5"/><circle cx="158.9" cy="1361.0" r="8"/><circle cx="121.3" cy="1244.1" r="5.5"/><circle cx="83.7" cy="1323.0" r="2.5"/><circle cx="90.6" cy="1238.3" r="4"/><circle cx="87.7" cy="1279.9" r="7"/><circle cx="205.9" cy="1433.5" r="4"/><circle cx="43.9" cy="1469.8" r="4.5"/><circle cx="200.1" cy="1255.6" r="2.5"/><circle cx="231.9" cy="1257.1" r="2.5"/><circle cx="230.3" cy="1227.8" r="5.5"/><circle cx="140.5" cy="1341.7" r="4.5"/><circle cx="115.4" cy="1260.7" r="8"/><circle cx="121.8" cy="1362.9" r="5"/><circle cx="145.1" cy="1263.5" r="5.5"/><circle cx="161.4" cy="1449.0" r="2.5"/><circle cx="37.4" cy="1325.7" r="6"/><circle cx="226.6" cy="1279.2" r="6"/><circle cx="59.2" cy="1143.8" r="5.5"/><circle cx="159.7" cy="1306.8" r="2.5"/><circle cx="248.4" cy="1401.0" r="3"/><circle cx="31.7" cy="1429.5" r="8"/><circle cx="263.8" cy="1157.1" r="3"/><circle cx="273.6" cy="1198.7" r="6"/><circle cx="229.8" cy="1296.2" r="2.5"/><circle cx="178.6" cy="1393.0" r="8"/><circle cx="47.7" cy="1268.5" r="2.5"/><circle cx="281.1" cy="1173.1" r="5"/><circle cx="62.4" cy="1316.7" r="7"/><circle cx="86.7" cy="1234.3" r="4.5"/><circle cx="214.8" cy="1229.1" r="5.5"/><circle cx="258.8" cy="1432.7" r="4.5"/><circle cx="100.3" cy="1168.1" r="4"/><circle cx="174.3" cy="1256.4" r="6"/><circle cx="212.4" cy="1379.1" r="3.5"/><circle cx="119.7" cy="1412.5" r="4"/><circle cx="148.6" cy="1378.0" r="2.5"/><circle cx="14.3" cy="1200.2" r="6"/><circle cx="96.0" cy="1379.4" r="8"/><circle cx="197.8" cy="1268.2" r="6"/><circle cx="68.0" cy="1194.2" r="3.5"/><circle cx="141.4" cy="1353.3" r="2.5"/><circle cx="46.7" cy="1441.2" r="8"/><circle cx="161.9" cy="1366.0" r="4.5"/><circle cx="258.8" cy="1315.1" r="3.5"/><circle cx="49.5" cy="1455.0" r="4"/><circle cx="167.7" cy="1290.0" r="4"/><circle cx="135.3" cy="1360.5" r="4.5"/><circle cx="228.3" cy="1281.5" r="5.5"/><circle cx="52.4" cy="1140.7" r="3.5"/><circle cx="96.7" cy="1204.9" r="8"/><circle cx="257.3" cy="1378.0" r="3.5"/><circle cx="101.8" cy="1214.2" r="7"/><circle cx="271.4" cy="1175.4" r="4"/><circle cx="124.2" cy="1353.9" r="4"/><circle cx="211.9" cy="1373.4" r="4"/><circle cx="151.2" cy="1385.8" r="5.5"/><circle cx="109.3" cy="1266.5" r="2.5"/><circle cx="267.3" cy="1164.6" r="4"/><circle cx="170.9" cy="1226.1" r="5"/><circle cx="67.0" cy="1222.2" r="4.5"/><circle cx="193.7" cy="1317.4" r="3"/><circle cx="67.2" cy="1291.7" r="4"/><circle cx="187.6" cy="1229.5" r="8"/><circle cx="109.3" cy="1284.1" r="4"/><circle cx="108.1" cy="1252.9" r="3"/><circle cx="254.3" cy="1228.9" r="3"/><circle cx="233.9" cy="1286.1" r="7"/><circle cx="39.0" cy="1178.9" r="5.5"/><circle cx="187.4" cy="1248.8" r="5"/><circle cx="235.1" cy="1388.0" r="5"/><circle cx="57.1" cy="1463.7" r="5"/><circle cx="86.3" cy="1158.9" r="4"/><circle cx="40.3" cy="1301.1" r="7"/><circle cx="175.6" cy="1238.4" r="4"/><circle cx="55.3" cy="1315.4" r="7"/><circle cx="93.4" cy="1322.7" r="3.5"/><circle cx="33.3" cy="1158.6" r="2.5"/><circle cx="158.8" cy="1408.7" r="8"/><circle cx="70.3" cy="1391.5" r="3"/><circle cx="242.3" cy="1176.1" r="4.5"/><circle cx="80.7" cy="1402.9" r="7"/><circle cx="81.4" cy="1338.7" r="3"/><circle cx="112.1" cy="1415.9" r="6"/><circle cx="254.6" cy="1174.0" r="7"/><circle cx="112.8" cy="1171.2" r="4"/><circle cx="119.6" cy="1270.1" r="5"/><circle cx="188.9" cy="1413.2" r="6"/><circle cx="46.0" cy="1422.4" r="4.5"/><circle cx="55.5" cy="1260.8" r="7"/><circle cx="24.7" cy="1405.9" r="4.5"/><circle cx="79.6" cy="1334.5" r="7"/><circle cx="78.5" cy="1299.8" r="2.5"/><circle cx="128.1" cy="1406.1" r="5"/><circle cx="192.8" cy="1425.2" r="4.5"/><circle cx="136.6" cy="1340.7" r="6"/><circle cx="49.5" cy="1319.1" r="3"/><circle cx="115.8" cy="1428.3" r="8"/><circle cx="133.0" cy="1316.4" r="4"/><circle cx="41.5" cy="1369.3" r="2.5"/><circle cx="127.3" cy="1241.4" r="3.5"/><circle cx="118.6" cy="1201.8" r="8"/><circle cx="101.4" cy="1236.3" r="7"/><circle cx="275.3" cy="1157.9" r="4"/><circle cx="148.0" cy="1415.4" r="4.5"/><circle cx="238.0" cy="1366.8" r="7"/><circle cx="237.3" cy="1394.9" r="5.5"/><circle cx="46.1" cy="1395.0" r="4.5"/><circle cx="202.1" cy="1282.1" r="4.5"/><circle cx="118.4" cy="1361.3" r="5.5"/><circle cx="302.2" cy="1415.2" r="2.5"/><circle cx="145.8" cy="1394.1" r="3.5"/><circle cx="235.5" cy="1393.7" r="2.5"/><circle cx="89.6" cy="1188.5" r="8"/><circle cx="58.4" cy="1335.2" r="4.5"/><circle cx="177.9" cy="1268.8" r="3"/><circle cx="259.8" cy="1366.9" r="5.5"/><circle cx="106.4" cy="1424.2" r="6"/><circle cx="266.5" cy="1409.7" r="5"/><circle cx="288.1" cy="1193.3" r="2.5"/><circle cx="54.7" cy="1389.5" r="3.5"/><circle cx="250.9" cy="1251.4" r="3.5"/><circle cx="89.9" cy="1445.3" r="6"/><circle cx="66.0" cy="1237.1" r="6"/><circle cx="131.6" cy="1368.8" r="5"/><circle cx="128.7" cy="1260.7" r="6"/><circle cx="88.1" cy="1194.5" r="8"/><circle cx="146.6" cy="1425.5" r="3.5"/><circle cx="251.4" cy="1234.9" r="3.5"/><circle cx="92.0" cy="1315.5" r="7"/><circle cx="27.4" cy="1262.9" r="5.5"/><circle cx="171.9" cy="1225.3" r="3"/><circle cx="85.9" cy="1401.5" r="2.5"/><circle cx="172.8" cy="1374.8" r="4.5"/><circle cx="87.7" cy="1208.8" r="3"/><circle cx="219.3" cy="1270.6" r="3"/><circle cx="299.7" cy="1180.6" r="3.5"/><circle cx="239.8" cy="1244.7" r="5.5"/><circle cx="237.7" cy="1271.0" r="4.5"/><circle cx="45.6" cy="1243.6" r="3"/><circle cx="78.1" cy="1277.9" r="4"/><circle cx="186.0" cy="1219.9" r="3.5"/><circle cx="51.2" cy="1365.1" r="4"/><circle cx="162.7" cy="1447.9" r="2.5"/><circle cx="283.3" cy="1167.9" r="5.5"/><circle cx="198.3" cy="1220.4" r="3"/><circle cx="165.4" cy="1341.8" r="4"/><circle cx="101.7" cy="1251.3" r="8"/><circle cx="117.7" cy="1375.3" r="3"/><circle cx="41.9" cy="1468.2" r="4"/><circle cx="47.3" cy="1220.4" r="2.5"/><circle cx="174.6" cy="1290.7" r="6"/><circle cx="74.6" cy="1349.7" r="5"/><circle cx="76.5" cy="1323.2" r="4"/><circle cx="187.2" cy="1380.3" r="4"/><circle cx="130.6" cy="1306.9" r="8"/><circle cx="133.5" cy="1363.3" r="2.5"/><circle cx="25.8" cy="1294.4" r="3.5"/><circle cx="63.8" cy="1344.7" r="3"/><circle cx="27.4" cy="1447.6" r="2.5"/><circle cx="87.7" cy="1324.5" r="4.5"/><circle cx="116.4" cy="1179.7" r="5"/><circle cx="17.1" cy="1183.9" r="5"/><circle cx="293.8" cy="1410.1" r="6"/><circle cx="83.1" cy="1262.0" r="5"/><circle cx="142.3" cy="1387.3" r="5.5"/><circle cx="54.3" cy="1447.2" r="5.5"/><circle cx="294.5" cy="1433.4" r="5"/><circle cx="202.2" cy="1443.1" r="6"/><circle cx="34.3" cy="1440.3" r="4"/><circle cx="143.4" cy="1328.8" r="6"/><circle cx="56.9" cy="1357.9" r="4"/><circle cx="231.7" cy="1291.4" r="6"/><circle cx="183.6" cy="1392.0" r="4"/><circle cx="80.4" cy="1451.4" r="4"/><circle cx="18.5" cy="1207.8" r="4"/><circle cx="180.4" cy="1331.0" r="5.5"/><circle cx="86.9" cy="1176.0" r="2.5"/><circle cx="33.8" cy="1172.3" r="7"/><circle cx="54.9" cy="1306.9" r="3"/><circle cx="200.7" cy="1337.0" r="7"/><circle cx="199.2" cy="1286.8" r="2.5"/><circle cx="62.8" cy="1305.1" r="6"/><circle cx="237.6" cy="1365.2" r="3"/><circle cx="168.8" cy="1367.3" r="3"/><circle cx="273.6" cy="1157.0" r="5"/><circle cx="90.4" cy="1232.9" r="4.5"/><circle cx="50.2" cy="1341.3" r="5"/><circle cx="26.9" cy="1161.5" r="8"/><circle cx="71.2" cy="1260.7" r="5.5"/><circle cx="70.3" cy="1396.9" r="3"/><circle cx="294.2" cy="1425.6" r="2.5"/><circle cx="293.7" cy="1412.4" r="2.5"/><circle cx="60.4" cy="1464.1" r="6"/><circle cx="84.5" cy="1169.0" r="4.5"/><circle cx="125.0" cy="1179.2" r="3.5"/><circle cx="300.4" cy="1398.3" r="5"/><circle cx="90.5" cy="1211.2" r="5.5"/><circle cx="174.6" cy="1244.4" r="7"/><circle cx="107.9" cy="1401.2" r="4"/><circle cx="286.9" cy="1410.0" r="7"/><circle cx="54.5" cy="1132.9" r="5"/><circle cx="138.6" cy="1243.0" r="3"/><circle cx="54.4" cy="1313.8" r="7"/><circle cx="31.6" cy="1197.5" r="4.5"/><circle cx="230.9" cy="1277.5" r="3"/><circle cx="305.4" cy="1223.8" r="5.5"/><circle cx="82.3" cy="1213.9" r="2.5"/><circle cx="32.3" cy="1436.2" r="4.5"/><circle cx="200.2" cy="1359.4" r="8"/><circle cx="48.3" cy="1145.3" r="3"/><circle cx="224.7" cy="1230.9" r="3"/><circle cx="118.3" cy="1171.9" r="3"/><circle cx="233.5" cy="1356.7" r="7"/><circle cx="222.3" cy="1219.8" r="6"/><circle cx="59.7" cy="1156.5" r="4.5"/><circle cx="128.9" cy="1374.3" r="3.5"/><circle cx="144.9" cy="1385.8" r="3"/><circle cx="105.9" cy="1195.2" r="5.5"/><circle cx="267.4" cy="1202.6" r="4"/><circle cx="259.1" cy="1364.8" r="4.5"/><circle cx="202.3" cy="1428.7" r="3"/><circle cx="291.7" cy="1177.7" r="8"/><circle cx="102.5" cy="1216.0" r="2.5"/><circle cx="48.8" cy="1155.4" r="2.5"/><circle cx="125.2" cy="1358.1" r="8"/><circle cx="97.4" cy="1217.9" r="3.5"/><circle cx="120.8" cy="1389.1" r="5"/><circle cx="119.8" cy="1310.9" r="3"/><circle cx="55.9" cy="1397.7" r="2.5"/><circle cx="74.5" cy="1190.8" r="4"/><circle cx="207.6" cy="1292.2" r="2.5"/><circle cx="269.8" cy="1205.7" r="2.5"/><circle cx="153.8" cy="1297.9" r="3"/><circle cx="149.7" cy="1379.7" r="3"/><circle cx="132.1" cy="1297.0" r="3.5"/><circle cx="22.4" cy="1189.6" r="4.5"/><circle cx="118.2" cy="1291.2" r="5"/><circle cx="22.1" cy="1277.6" r="2.5"/><circle cx="79.5" cy="1182.3" r="5"/><circle cx="70.8" cy="1150.3" r="4.5"/><circle cx="253.4" cy="1168.1" r="6"/><circle cx="92.5" cy="1408.0" r="3"/><circle cx="85.1" cy="1306.0" r="7"/><circle cx="119.3" cy="1261.4" r="5"/><circle cx="61.0" cy="1202.8" r="8"/><circle cx="149.3" cy="1384.2" r="6"/><circle cx="64.1" cy="1393.4" r="8"/></g><ellipse cx="243" cy="1233" rx="27" ry="10" transform="rotate(-12 243 1233)" fill="url(#gRD)" opacity="0.85"/><ellipse cx="255" cy="1408" rx="14" ry="9" transform="rotate(-30 255 1408)" fill="url(#gRD)" opacity="0.85"/><ellipse cx="100" cy="1180" rx="22" ry="10" transform="rotate(-35 100 1180)" fill="url(#gRD)" opacity="0.85"/><g fill="url(#gR)"><circle cx="224.0" cy="1317.0" r="3.0"/><circle cx="277.7" cy="1328.2" r="3.0"/><circle cx="140.0" cy="1178.0" r="3.5"/><circle cx="297.3" cy="1327.0" r="3.7"/><circle cx="293.6" cy="1302.5" r="3.7"/><circle cx="189.4" cy="1191.1" r="3.7"/><circle cx="194.9" cy="1190.5" r="3.9"/><circle cx="221.0" cy="1328.0" r="4.0"/><circle cx="309.5" cy="1304.9" r="4.3"/><circle cx="220.5" cy="1320.0" r="4.5"/><circle cx="19.6" cy="1306.1" r="4.9"/><circle cx="284.0" cy="1333.0" r="5.0"/><circle cx="143.0" cy="1172.0" r="5.0"/><circle cx="192.5" cy="1159.2" r="5.0"/><circle cx="287.5" cy="1339.2" r="6.0"/><circle cx="301.0" cy="1303.7" r="6.0"/><circle cx="137.0" cy="1166.0" r="6.0"/><circle cx="75.4" cy="1142.5" r="6.0"/><circle cx="275.2" cy="1236.4" r="6.7"/><circle cx="133.0" cy="1158.0" r="7.0"/><circle cx="140.0" cy="1156.0" r="7.0"/><circle cx="289.9" cy="1327.0" r="7.4"/><circle cx="236.0" cy="1268.0" r="9.0"/><circle cx="205.0" cy="1235.0" r="9.0"/><circle cx="250.0" cy="1262.0" r="10.0"/><circle cx="182.6" cy="1259.6" r="10.0"/><circle cx="177.2" cy="1245.6" r="10.0"/><circle cx="174.5" cy="1222.0" r="10.0"/><circle cx="191.3" cy="1146.0" r="10.4"/><circle cx="225.7" cy="1256.0" r="11.0"/><circle cx="261.0" cy="1368.0" r="11.0"/><circle cx="188.0" cy="1283.4" r="11.0"/><circle cx="249.3" cy="1182.3" r="11.0"/><circle cx="121.3" cy="1176.2" r="11.0"/><circle cx="107.0" cy="1220.7" r="11.0"/><circle cx="198.8" cy="1254.2" r="11.0"/><circle cx="309.4" cy="1220.3" r="12.0"/><circle cx="150.2" cy="1283.4" r="12.0"/><circle cx="96.2" cy="1284.4" r="12.0"/><circle cx="231.0" cy="1199.5" r="12.0"/><circle cx="30.0" cy="1420.0" r="12.0"/><circle cx="60.0" cy="1400.0" r="12.0"/><circle cx="198.8" cy="1299.6" r="13.0"/><circle cx="220.4" cy="1288.8" r="13.0"/><circle cx="107.9" cy="1168.8" r="13.0"/><circle cx="88.6" cy="1225.0" r="13.0"/><circle cx="33.5" cy="1393.2" r="13.0"/><circle cx="242.1" cy="1358.6" r="13.5"/><circle cx="307.0" cy="1190.0" r="13.5"/><circle cx="218.7" cy="1273.0" r="13.5"/><circle cx="166.4" cy="1288.8" r="14.0"/><circle cx="161.0" cy="1312.5" r="14.0"/><circle cx="85.8" cy="1224.0" r="14.7"/><circle cx="262.0" cy="1172.0" r="15.0"/><circle cx="248.9" cy="1388.4" r="15.0"/><circle cx="93.1" cy="1161.5" r="15.0"/><circle cx="90.0" cy="1440.0" r="15.0"/><circle cx="110.0" cy="1425.0" r="15.0"/><circle cx="68.6" cy="1157.0" r="16.0"/><circle cx="297.0" cy="1216.7" r="16.0"/><circle cx="292.2" cy="1433.0" r="16.0"/><circle cx="112.4" cy="1315.7" r="16.0"/><circle cx="58.8" cy="1178.0" r="17.0"/><circle cx="129.0" cy="1362.2" r="17.0"/><circle cx="208.2" cy="1359.9" r="17.0"/><circle cx="92.9" cy="1342.9" r="18.0"/><circle cx="113.5" cy="1350.6" r="18.0"/><circle cx="136.7" cy="1348.0" r="18.0"/><circle cx="300.0" cy="1180.0" r="18.0"/><circle cx="58.0" cy="1464.0" r="19.0"/><circle cx="77.4" cy="1425.4" r="19.0"/><circle cx="103.2" cy="1406.0" r="19.0"/><circle cx="148.3" cy="1451.2" r="19.0"/><circle cx="182.5" cy="1406.0" r="19.0"/><circle cx="58.8" cy="1198.2" r="20.0"/><circle cx="220.4" cy="1358.6" r="20.0"/><circle cx="270.5" cy="1419.5" r="20.0"/><circle cx="36.8" cy="1205.6" r="21.5"/><circle cx="183.9" cy="1388.4" r="21.7"/><circle cx="280.0" cy="1175.0" r="22.0"/><circle cx="48.7" cy="1143.0" r="22.4"/><circle cx="141.9" cy="1393.2" r="23.0"/><circle cx="163.5" cy="1435.8" r="24.0"/><circle cx="154.8" cy="1431.9" r="26.0"/><circle cx="51.5" cy="1244.8" r="28.0"/><circle cx="72.2" cy="1326.1" r="28.0"/><circle cx="42.6" cy="1451.2" r="28.0"/><circle cx="185.2" cy="1435.8" r="30.0"/><circle cx="53.0" cy="1293.0" r="36.0"/></g>
<rect x="352.7" y="1143" width="319.40000000000003" height="315.5999999999999" fill="none" stroke="#9ee89e" stroke-width="1.2"/>
<line x1="352.7" y1="1143" x2="359" y2="1149" stroke="#9ee89e" stroke-width="1.2"/>
<line x1="672.1" y1="1143" x2="665" y2="1150" stroke="#9ee89e" stroke-width="1.2"/>
<line x1="352.7" y1="1458.6" x2="362" y2="1449.5" stroke="#9ee89e" stroke-width="1.2"/>
<line x1="672.1" y1="1458.6" x2="650.5" y2="1437.8" stroke="#9ee89e" stroke-width="1.2"/>
<g transform="translate(352.7,1143) scale(1.0124,1.0) translate(-5.7,-1142)"><path d="M26.4,1140.8L30.0,1130.0L38.0,1123.5L48.0,1121.0L58.0,1123.0L66.0,1128.0L70.5,1133.5L74.0,1137.0L80.9,1145.7L90.0,1148.0L98.0,1150.6L108.0,1156.0L116.4,1164.1L124.0,1171.0L130.0,1178.8L134.8,1193.5L128.7,1204.6L124.0,1210.0L128.7,1216.0L135.0,1222.0L142.0,1226.0L150.0,1222.0L154.0,1212.0L160.0,1216.8L164.9,1213.1L172.3,1210.7L184.5,1213.1L196.8,1216.8L211.5,1224.2L213.9,1215.6L217.6,1210.7L220.1,1199.7L233.5,1186.2L236.0,1177.6L243.3,1166.6L253.1,1156.8L266.6,1153.1L282.6,1151.3L294.8,1153.1L304.6,1150.6L310.8,1147.6L316.9,1148.8L317.5,1160.4L320.6,1171.5L321.2,1188.6L316.9,1199.7L307.1,1205.8L314.4,1209.5L319.3,1218.0L318.1,1227.9L309.5,1235.2L298.5,1235.2L288.7,1230.3L277.7,1227.9L269.1,1226.6L267.9,1236.4L269.1,1248.7L266.6,1261.0L260.5,1267.1L253.1,1273.2L248.7,1276.1L250.7,1283.5L252.8,1292.3L248.0,1298.3L242.6,1306.4L237.2,1307.8L230.5,1309.8L222.4,1309.8L220.4,1301.7L211.6,1300.4L211.6,1313.9L215.0,1318.0L212.0,1324.0L211.5,1330.6L209.0,1342.9L221.3,1344.1L236.0,1347.8L245.8,1347.8L253.1,1355.2L258.0,1351.5L267.9,1350.3L271.5,1355.2L271.5,1368.6L266.6,1378.4L265.4,1393.1L276.4,1394.4L288.7,1391.9L301.0,1390.7L307.1,1396.8L308.3,1410.3L307.1,1428.7L303.4,1441.0L294.8,1447.1L282.6,1447.1L270.3,1443.4L258.0,1441.0L248.2,1437.3L243.3,1428.7L238.4,1420.1L233.5,1410.3L232.3,1391.9L229.9,1385.8L221.3,1384.6L206.6,1385.8L204.1,1398.1L205.3,1410.3L204.1,1417.7L209.0,1422.6L213.9,1432.4L215.2,1441.0L209.0,1447.1L206.6,1456.9L200.4,1463.0L184.5,1468.5L172.3,1466.7L160.0,1463.0L147.1,1464.2L134.8,1459.3L129.9,1450.8L128.7,1441.0L123.8,1442.2L117.7,1441.0L112.8,1434.8L105.4,1441.0L93.1,1450.8L78.4,1459.3L68.6,1469.1L58.8,1477.7L46.6,1483.8L36.8,1481.4L25.7,1471.6L17.2,1459.3L14.7,1447.1L15.9,1438.5L23.3,1426.2L20.8,1416.4L18.4,1404.2L19.6,1389.5L24.5,1383.3L36.0,1382.0L38.0,1373.0L40.0,1360.0L42.0,1350.0L40.0,1343.0L30.6,1340.4L28.2,1330.6L28.2,1318.4L22.0,1310.0L18.4,1300.0L18.4,1291.6L18.4,1273.2L14.7,1267.1L6.1,1264.6L3.7,1258.5L12.3,1252.4L18.4,1249.9L20.8,1241.3L18.4,1234.0L12.3,1227.9L6.7,1221.7L7.4,1213.1L9.8,1205.8L7.4,1193.5L6.1,1183.7L3.7,1177.6L4.9,1171.5L7.4,1156.8L11.0,1146.4L19.6,1140.8L23.3,1138.4ZM137.0,1246.0L150.0,1243.0L163.0,1244.0L164.0,1253.0L171.0,1262.0L173.0,1272.0L165.0,1277.0L152.0,1276.0L153.0,1267.0L150.0,1258.0L140.0,1256.0ZM122.0,1274.0L135.0,1273.0L143.0,1279.0L130.0,1283.0L121.0,1281.0ZM133.0,1225.0L152.0,1225.0L152.0,1231.0L140.0,1233.0L133.0,1231.0ZM56.0,1364.0L70.0,1361.0L80.0,1367.0L82.0,1385.0L60.0,1386.0L53.0,1378.0Z" fill="#06679e" fill-rule="evenodd"/><path d="M231.8,1315.9L237.2,1325.3L247.4,1322.6L257.5,1328.0L271.0,1328.7L273.7,1324.0L267.6,1313.9L258.8,1303.7L250.7,1301.0L241.3,1308.5Z" fill="#06679e"/><g fill="url(#gB)"><circle cx="29.6" cy="1138.9" r="4.5"/><circle cx="31.7" cy="1133.6" r="5"/><circle cx="35.6" cy="1128.7" r="4.5"/><circle cx="43.6" cy="1124.7" r="4.5"/><circle cx="52.5" cy="1124.7" r="5"/><circle cx="60.5" cy="1127.8" r="5"/><circle cx="66.8" cy="1132.0" r="3.5"/><circle cx="70.9" cy="1136.6" r="3.5"/><circle cx="73.6" cy="1140.9" r="5"/><circle cx="77.2" cy="1145.1" r="4.5"/><circle cx="84.8" cy="1149.5" r="5"/><circle cx="93.4" cy="1151.1" r="3.5"/><circle cx="99.7" cy="1153.4" r="3"/><circle cx="104.3" cy="1156.8" r="4.5"/><circle cx="108.6" cy="1159.6" r="4"/><circle cx="113.0" cy="1163.5" r="3.5"/><circle cx="119.1" cy="1168.8" r="3"/><circle cx="124.8" cy="1176.6" r="5"/><circle cx="129.6" cy="1183.0" r="3"/><circle cx="131.0" cy="1190.7" r="5"/><circle cx="131.1" cy="1195.1" r="4.5"/><circle cx="128.1" cy="1200.6" r="4.5"/><circle cx="124.3" cy="1205.5" r="5"/><circle cx="124.8" cy="1214.2" r="3.5"/><circle cx="130.0" cy="1221.0" r="5"/><circle cx="138.5" cy="1224.0" r="3"/><circle cx="146.0" cy="1224.0" r="5"/><circle cx="153.5" cy="1217.6" r="3"/><circle cx="156.0" cy="1215.7" r="3"/><circle cx="163.4" cy="1216.3" r="3"/><circle cx="169.2" cy="1213.7" r="3.5"/><circle cx="175.0" cy="1213.2" r="3.5"/><circle cx="180.9" cy="1215.2" r="5"/><circle cx="187.1" cy="1215.6" r="3"/><circle cx="193.0" cy="1218.2" r="4.5"/><circle cx="199.5" cy="1220.6" r="4"/><circle cx="206.7" cy="1224.6" r="4.5"/><circle cx="215.3" cy="1220.6" r="5"/><circle cx="217.3" cy="1214.3" r="3.5"/><circle cx="220.9" cy="1208.6" r="5"/><circle cx="221.4" cy="1202.9" r="3.5"/><circle cx="223.9" cy="1199.0" r="4"/><circle cx="228.6" cy="1194.7" r="4.5"/><circle cx="232.4" cy="1189.6" r="3"/><circle cx="236.3" cy="1182.4" r="3"/><circle cx="239.9" cy="1176.2" r="4.5"/><circle cx="243.3" cy="1170.6" r="4"/><circle cx="247.5" cy="1165.9" r="4.5"/><circle cx="252.6" cy="1161.2" r="5"/><circle cx="256.9" cy="1157.5" r="3"/><circle cx="263.8" cy="1156.1" r="4"/><circle cx="270.8" cy="1154.8" r="4"/><circle cx="278.8" cy="1153.7" r="3.5"/><circle cx="285.2" cy="1154.5" r="5"/><circle cx="291.4" cy="1154.8" r="4"/><circle cx="300.1" cy="1153.4" r="3"/><circle cx="308.4" cy="1150.6" r="3"/><circle cx="313.3" cy="1150.9" r="5"/><circle cx="315.4" cy="1151.8" r="3"/><circle cx="314.9" cy="1157.6" r="4.5"/><circle cx="316.7" cy="1163.6" r="3"/><circle cx="317.7" cy="1169.3" r="4"/><circle cx="318.2" cy="1174.4" r="4.5"/><circle cx="319.3" cy="1180.1" r="3"/><circle cx="319.5" cy="1185.8" r="3"/><circle cx="318.6" cy="1190.8" r="3"/><circle cx="316.2" cy="1196.2" r="3.5"/><circle cx="313.4" cy="1199.6" r="3.5"/><circle cx="308.7" cy="1202.9" r="3"/><circle cx="309.6" cy="1209.9" r="4.5"/><circle cx="314.7" cy="1215.0" r="4.5"/><circle cx="316.2" cy="1222.7" r="4.5"/><circle cx="314.3" cy="1227.8" r="4.5"/><circle cx="310.6" cy="1232.1" r="3"/><circle cx="306.8" cy="1232.5" r="5"/><circle cx="301.2" cy="1233.3" r="3.5"/><circle cx="294.6" cy="1230.8" r="4"/><circle cx="286.4" cy="1227.6" r="4"/><circle cx="280.8" cy="1226.9" r="3"/><circle cx="273.7" cy="1225.1" r="4"/><circle cx="266.3" cy="1231.2" r="4"/><circle cx="266.6" cy="1239.6" r="3"/><circle cx="266.3" cy="1245.9" r="4.5"/><circle cx="266.9" cy="1251.4" r="3"/><circle cx="265.3" cy="1257.5" r="3.5"/><circle cx="262.2" cy="1262.7" r="3.5"/><circle cx="255.8" cy="1268.9" r="3"/><circle cx="250.0" cy="1273.3" r="3"/><circle cx="248.1" cy="1280.2" r="3"/><circle cx="249.3" cy="1288.5" r="4.5"/><circle cx="248.5" cy="1293.8" r="4.5"/><circle cx="243.7" cy="1301.3" r="3.5"/><circle cx="239.2" cy="1304.4" r="5"/><circle cx="233.3" cy="1307.0" r="3.5"/><circle cx="226.4" cy="1307.3" r="4.5"/><circle cx="224.1" cy="1305.1" r="5"/><circle cx="216.3" cy="1299.1" r="3.5"/><circle cx="209.7" cy="1303.8" r="3.5"/><circle cx="209.1" cy="1310.5" r="4.5"/><circle cx="211.4" cy="1317.5" r="4.5"/><circle cx="212.0" cy="1320.3" r="3"/><circle cx="209.3" cy="1327.1" r="4.5"/><circle cx="208.4" cy="1333.2" r="4.5"/><circle cx="207.7" cy="1339.4" r="3.5"/><circle cx="211.9" cy="1344.8" r="3"/><circle cx="218.0" cy="1346.0" r="4"/><circle cx="224.3" cy="1347.7" r="5"/><circle cx="231.8" cy="1349.0" r="4"/><circle cx="240.9" cy="1349.5" r="3"/><circle cx="248.1" cy="1352.9" r="3.5"/><circle cx="256.7" cy="1354.9" r="3.5"/><circle cx="263.2" cy="1353.4" r="4.5"/><circle cx="267.5" cy="1354.4" r="5"/><circle cx="268.8" cy="1358.5" r="5"/><circle cx="269.9" cy="1365.2" r="3"/><circle cx="267.6" cy="1372.8" r="3"/><circle cx="264.4" cy="1381.9" r="3.5"/><circle cx="263.8" cy="1389.3" r="3.5"/><circle cx="267.9" cy="1395.9" r="4.5"/><circle cx="273.4" cy="1396.3" r="4"/><circle cx="279.8" cy="1395.4" r="3"/><circle cx="286.2" cy="1395.2" r="5"/><circle cx="292.0" cy="1393.8" r="4"/><circle cx="298.1" cy="1393.2" r="4"/><circle cx="302.3" cy="1395.5" r="4.5"/><circle cx="305.8" cy="1400.3" r="3"/><circle cx="306.4" cy="1407.1" r="3"/><circle cx="306.5" cy="1413.3" r="3"/><circle cx="305.8" cy="1419.4" r="3.5"/><circle cx="304.6" cy="1425.5" r="5"/><circle cx="304.3" cy="1431.2" r="3.5"/><circle cx="302.7" cy="1437.4" r="3"/><circle cx="297.5" cy="1441.8" r="5"/><circle cx="291.8" cy="1444.9" r="4"/><circle cx="285.7" cy="1444.9" r="4"/><circle cx="280.3" cy="1443.5" r="5"/><circle cx="274.1" cy="1442.0" r="4.5"/><circle cx="267.6" cy="1440.9" r="3.5"/><circle cx="261.6" cy="1438.9" r="5"/><circle cx="254.0" cy="1436.8" r="4.5"/><circle cx="248.1" cy="1431.6" r="5"/><circle cx="242.5" cy="1423.4" r="3.5"/><circle cx="238.2" cy="1414.1" r="4.5"/><circle cx="235.2" cy="1407.1" r="3.5"/><circle cx="234.8" cy="1401.0" r="3.5"/><circle cx="234.7" cy="1394.8" r="4"/><circle cx="232.9" cy="1388.1" r="3.5"/><circle cx="226.0" cy="1382.5" r="5"/><circle cx="217.5" cy="1383.0" r="3.5"/><circle cx="210.1" cy="1383.6" r="3.5"/><circle cx="204.1" cy="1388.5" r="3.5"/><circle cx="202.0" cy="1394.5" r="5"/><circle cx="202.5" cy="1401.3" r="3.5"/><circle cx="202.5" cy="1407.5" r="4.5"/><circle cx="202.3" cy="1413.6" r="4.5"/><circle cx="204.6" cy="1422.1" r="5"/><circle cx="210.0" cy="1428.2" r="3"/><circle cx="212.1" cy="1437.1" r="4.5"/><circle cx="210.9" cy="1442.9" r="3"/><circle cx="206.2" cy="1451.6" r="3"/><circle cx="202.3" cy="1458.8" r="3"/><circle cx="197.2" cy="1462.4" r="3"/><circle cx="191.6" cy="1463.2" r="5"/><circle cx="186.4" cy="1465.5" r="4"/><circle cx="181.7" cy="1466.1" r="3.5"/><circle cx="175.7" cy="1464.7" r="4.5"/><circle cx="169.9" cy="1463.7" r="4"/><circle cx="163.8" cy="1461.6" r="4.5"/><circle cx="156.5" cy="1460.6" r="5"/><circle cx="150.1" cy="1461.4" r="4.5"/><circle cx="144.8" cy="1460.9" r="4"/><circle cx="138.9" cy="1458.0" r="5"/><circle cx="134.0" cy="1454.1" r="3.5"/><circle cx="130.9" cy="1445.7" r="3"/><circle cx="125.8" cy="1439.7" r="3.5"/><circle cx="121.1" cy="1439.7" r="3.5"/><circle cx="117.2" cy="1436.4" r="4.5"/><circle cx="107.3" cy="1435.8" r="5"/><circle cx="100.6" cy="1441.3" r="5"/><circle cx="94.5" cy="1446.2" r="5"/><circle cx="89.8" cy="1450.8" r="3"/><circle cx="84.6" cy="1453.1" r="4"/><circle cx="79.9" cy="1456.2" r="3.5"/><circle cx="74.6" cy="1460.4" r="3.5"/><circle cx="69.9" cy="1465.5" r="3"/><circle cx="65.1" cy="1470.0" r="3"/><circle cx="59.8" cy="1473.9" r="4"/><circle cx="54.6" cy="1477.0" r="4.5"/><circle cx="48.5" cy="1480.1" r="4.5"/><circle cx="42.2" cy="1480.7" r="3.5"/><circle cx="35.1" cy="1477.7" r="3"/><circle cx="29.6" cy="1472.8" r="3"/><circle cx="25.2" cy="1467.4" r="3.5"/><circle cx="21.1" cy="1461.1" r="4"/><circle cx="18.7" cy="1455.8" r="4"/><circle cx="18.0" cy="1449.6" r="5"/><circle cx="18.0" cy="1443.2" r="5"/><circle cx="19.4" cy="1436.4" r="3.5"/><circle cx="22.9" cy="1430.1" r="3"/><circle cx="24.2" cy="1420.8" r="4"/><circle cx="22.1" cy="1413.0" r="3.5"/><circle cx="21.4" cy="1406.8" r="4.5"/><circle cx="20.9" cy="1400.7" r="4"/><circle cx="22.0" cy="1393.4" r="5"/><circle cx="24.2" cy="1388.1" r="5"/><circle cx="27.6" cy="1384.9" r="3.5"/><circle cx="33.4" cy="1385.1" r="5"/><circle cx="38.6" cy="1377.9" r="3"/><circle cx="40.1" cy="1370.0" r="3"/><circle cx="41.9" cy="1363.6" r="4.5"/><circle cx="43.2" cy="1355.4" r="4"/><circle cx="43.1" cy="1345.9" r="4"/><circle cx="35.7" cy="1340.1" r="3"/><circle cx="31.0" cy="1335.1" r="3"/><circle cx="30.9" cy="1327.5" r="5"/><circle cx="29.8" cy="1321.5" r="3"/><circle cx="27.1" cy="1312.7" r="4.5"/><circle cx="21.8" cy="1304.4" r="3"/><circle cx="20.6" cy="1295.8" r="4"/><circle cx="20.6" cy="1288.5" r="4"/><circle cx="20.3" cy="1282.4" r="3.5"/><circle cx="20.0" cy="1276.3" r="3"/><circle cx="18.0" cy="1269.3" r="3"/><circle cx="11.1" cy="1263.5" r="4.5"/><circle cx="7.5" cy="1260.5" r="5"/><circle cx="9.3" cy="1257.2" r="4"/><circle cx="16.0" cy="1252.7" r="3"/><circle cx="21.5" cy="1246.1" r="3.5"/><circle cx="21.7" cy="1237.0" r="4"/><circle cx="16.9" cy="1229.4" r="4"/><circle cx="10.7" cy="1223.7" r="3"/><circle cx="9.5" cy="1217.6" r="4.5"/><circle cx="10.2" cy="1210.0" r="3"/><circle cx="11.6" cy="1202.3" r="4.5"/><circle cx="9.6" cy="1196.3" r="3"/><circle cx="9.2" cy="1188.3" r="4.5"/><circle cx="7.5" cy="1179.6" r="5"/><circle cx="5.9" cy="1174.9" r="3"/><circle cx="8.2" cy="1168.3" r="5"/><circle cx="9.2" cy="1160.9" r="4.5"/><circle cx="10.6" cy="1155.0" r="4.5"/><circle cx="12.7" cy="1149.9" r="5"/><circle cx="16.2" cy="1145.0" r="3"/><circle cx="22.9" cy="1141.9" r="5"/><circle cx="23.8" cy="1140.9" r="3"/><circle cx="139.9" cy="1243.6" r="3"/><circle cx="146.4" cy="1242.1" r="3"/><circle cx="153.4" cy="1241.6" r="3"/><circle cx="159.9" cy="1241.6" r="4"/><circle cx="166.0" cy="1248.2" r="4.5"/><circle cx="167.5" cy="1253.9" r="4"/><circle cx="171.2" cy="1258.2" r="4.5"/><circle cx="174.7" cy="1266.5" r="5"/><circle cx="170.3" cy="1276.6" r="4.5"/><circle cx="161.6" cy="1279.2" r="4.5"/><circle cx="155.1" cy="1278.7" r="4.5"/><circle cx="149.8" cy="1271.2" r="5"/><circle cx="149.9" cy="1263.0" r="3"/><circle cx="144.5" cy="1259.7" r="5"/><circle cx="135.9" cy="1251.8" r="5"/><circle cx="125.1" cy="1272.1" r="3"/><circle cx="131.6" cy="1271.1" r="4"/><circle cx="140.7" cy="1273.8" r="5"/><circle cx="140.2" cy="1281.6" r="3"/><circle cx="134.0" cy="1284.4" r="4.5"/><circle cx="125.1" cy="1283.6" r="3"/><circle cx="119.6" cy="1277.2" r="3.5"/><circle cx="136.2" cy="1223.3" r="3"/><circle cx="142.5" cy="1225.0" r="4.5"/><circle cx="148.8" cy="1225.0" r="5"/><circle cx="154.5" cy="1228.0" r="4.5"/><circle cx="149.4" cy="1233.7" r="4"/><circle cx="143.3" cy="1234.1" r="3"/><circle cx="135.9" cy="1234.1" r="4"/><circle cx="130.8" cy="1228.0" r="4"/><circle cx="59.1" cy="1361.4" r="3.5"/><circle cx="65.9" cy="1359.1" r="5"/><circle cx="73.5" cy="1360.8" r="3.5"/><circle cx="78.9" cy="1363.1" r="5"/><circle cx="82.2" cy="1369.8" r="3.5"/><circle cx="83.2" cy="1375.8" r="4"/><circle cx="84.1" cy="1381.7" r="4.5"/><circle cx="79.4" cy="1387.6" r="4.5"/><circle cx="73.8" cy="1387.3" r="3.5"/><circle cx="68.3" cy="1387.8" r="4"/><circle cx="62.9" cy="1388.3" r="4.5"/><circle cx="54.8" cy="1383.4" r="4"/><circle cx="51.9" cy="1374.1" r="3.5"/><circle cx="52.8" cy="1367.0" r="4.5"/><circle cx="236.2" cy="1319.6" r="3.5"/><circle cx="241.8" cy="1322.1" r="3.5"/><circle cx="251.1" cy="1321.8" r="4.5"/><circle cx="255.9" cy="1325.0" r="3.5"/><circle cx="261.0" cy="1325.4" r="5"/><circle cx="267.7" cy="1326.3" r="4"/><circle cx="270.7" cy="1325.4" r="3.5"/><circle cx="270.5" cy="1322.5" r="3.5"/><circle cx="267.5" cy="1317.4" r="3.5"/><circle cx="263.5" cy="1313.0" r="4.5"/><circle cx="259.3" cy="1307.7" r="4"/><circle cx="254.2" cy="1303.9" r="3"/><circle cx="249.4" cy="1304.2" r="3"/><circle cx="242.3" cy="1304.9" r="4"/><circle cx="240.1" cy="1311.9" r="3.5"/><circle cx="235.2" cy="1315.4" r="3"/><circle cx="106.3" cy="1175.1" r="2.5"/><circle cx="31.9" cy="1274.9" r="8"/><circle cx="42.5" cy="1201.5" r="8"/><circle cx="95.4" cy="1172.7" r="3"/><circle cx="185.1" cy="1324.5" r="3.5"/><circle cx="35.9" cy="1328.5" r="4"/><circle cx="121.8" cy="1319.9" r="3"/><circle cx="183.0" cy="1345.9" r="6"/><circle cx="220.0" cy="1276.1" r="5"/><circle cx="151.5" cy="1457.1" r="5"/><circle cx="98.6" cy="1409.9" r="4"/><circle cx="29.1" cy="1229.6" r="6"/><circle cx="40.7" cy="1272.6" r="5"/><circle cx="51.5" cy="1298.5" r="2.5"/><circle cx="185.8" cy="1439.5" r="5"/><circle cx="111.5" cy="1247.8" r="6"/><circle cx="188.0" cy="1286.5" r="3"/><circle cx="226.8" cy="1356.2" r="6"/><circle cx="93.8" cy="1260.8" r="5"/><circle cx="56.6" cy="1162.7" r="2.5"/><circle cx="72.6" cy="1224.9" r="4"/><circle cx="264.4" cy="1435.4" r="4.5"/><circle cx="220.8" cy="1258.9" r="4"/><circle cx="51.1" cy="1184.3" r="4"/><circle cx="268.1" cy="1186.6" r="4.5"/><circle cx="120.8" cy="1326.7" r="3.5"/><circle cx="148.7" cy="1437.9" r="7"/><circle cx="128.2" cy="1265.6" r="3"/><circle cx="183.8" cy="1315.9" r="5"/><circle cx="69.3" cy="1257.3" r="4.5"/><circle cx="156.2" cy="1233.8" r="3.5"/><circle cx="35.6" cy="1245.1" r="4.5"/><circle cx="155.7" cy="1372.6" r="7"/><circle cx="86.3" cy="1253.8" r="3.5"/><circle cx="116.5" cy="1201.3" r="7"/><circle cx="251.5" cy="1240.3" r="4"/><circle cx="198.6" cy="1407.8" r="4"/><circle cx="260.1" cy="1418.7" r="4"/><circle cx="66.8" cy="1299.9" r="2.5"/><circle cx="196.0" cy="1245.7" r="5"/><circle cx="73.3" cy="1202.8" r="4"/><circle cx="110.7" cy="1296.2" r="8"/><circle cx="293.2" cy="1405.5" r="4"/><circle cx="254.7" cy="1241.4" r="5.5"/><circle cx="150.7" cy="1391.3" r="3"/><circle cx="43.5" cy="1175.2" r="6"/><circle cx="260.3" cy="1173.4" r="8"/><circle cx="114.8" cy="1320.3" r="3.5"/><circle cx="266.5" cy="1197.0" r="4.5"/><circle cx="70.9" cy="1302.9" r="8"/><circle cx="107.0" cy="1318.7" r="3.5"/><circle cx="167.8" cy="1421.9" r="7"/><circle cx="44.7" cy="1175.4" r="7"/><circle cx="257.9" cy="1182.9" r="6"/><circle cx="172.3" cy="1296.1" r="3"/><circle cx="64.0" cy="1135.4" r="3"/><circle cx="165.0" cy="1325.0" r="3"/><circle cx="144.4" cy="1343.6" r="7"/><circle cx="91.4" cy="1305.5" r="6"/><circle cx="169.9" cy="1439.7" r="4.5"/><circle cx="67.6" cy="1283.3" r="5.5"/><circle cx="41.8" cy="1281.4" r="3"/><circle cx="217.1" cy="1276.3" r="4"/><circle cx="289.2" cy="1176.4" r="5"/><circle cx="48.6" cy="1442.2" r="6"/><circle cx="130.0" cy="1297.9" r="4"/><circle cx="54.5" cy="1277.5" r="7"/><circle cx="119.7" cy="1243.4" r="6"/><circle cx="108.7" cy="1347.7" r="7"/><circle cx="309.5" cy="1161.2" r="4"/><circle cx="313.0" cy="1158.2" r="4.5"/><circle cx="89.3" cy="1167.3" r="5.5"/><circle cx="174.2" cy="1307.9" r="6"/><circle cx="111.2" cy="1321.9" r="4.5"/><circle cx="312.2" cy="1215.6" r="3.5"/><circle cx="67.4" cy="1233.9" r="4.5"/><circle cx="145.2" cy="1365.3" r="4.5"/><circle cx="145.6" cy="1360.3" r="5.5"/><circle cx="205.9" cy="1267.7" r="5"/><circle cx="124.5" cy="1304.7" r="4.5"/><circle cx="194.0" cy="1372.8" r="2.5"/><circle cx="61.4" cy="1242.4" r="3"/><circle cx="154.4" cy="1303.5" r="4"/><circle cx="82.2" cy="1403.3" r="3"/><circle cx="87.3" cy="1152.8" r="5.5"/><circle cx="190.2" cy="1263.8" r="4.5"/><circle cx="100.1" cy="1205.0" r="8"/><circle cx="52.5" cy="1445.9" r="8"/><circle cx="127.3" cy="1239.0" r="6"/><circle cx="50.7" cy="1384.3" r="3.5"/><circle cx="269.3" cy="1413.7" r="8"/><circle cx="257.6" cy="1379.6" r="4"/><circle cx="81.0" cy="1216.3" r="6"/><circle cx="257.5" cy="1393.1" r="7"/><circle cx="261.1" cy="1428.8" r="4"/><circle cx="235.7" cy="1194.9" r="6"/><circle cx="155.8" cy="1369.5" r="2.5"/><circle cx="199.8" cy="1354.6" r="3"/><circle cx="194.3" cy="1241.1" r="4.5"/><circle cx="156.9" cy="1297.3" r="3"/><circle cx="223.8" cy="1366.6" r="4.5"/><circle cx="229.1" cy="1224.2" r="6"/><circle cx="288.1" cy="1192.7" r="3"/><circle cx="149.4" cy="1419.3" r="6"/><circle cx="26.8" cy="1153.0" r="7"/><circle cx="86.5" cy="1251.2" r="8"/><circle cx="76.8" cy="1447.7" r="6"/><circle cx="220.4" cy="1268.0" r="3.5"/><circle cx="135.8" cy="1257.3" r="3"/><circle cx="302.8" cy="1191.4" r="2.5"/><circle cx="290.6" cy="1225.8" r="5"/><circle cx="23.7" cy="1262.4" r="8"/><circle cx="27.4" cy="1457.8" r="4.5"/><circle cx="275.5" cy="1222.4" r="2.5"/><circle cx="82.5" cy="1217.0" r="7"/><circle cx="103.7" cy="1402.2" r="5.5"/><circle cx="285.1" cy="1416.4" r="5.5"/><circle cx="178.2" cy="1382.6" r="2.5"/><circle cx="57.5" cy="1271.4" r="4.5"/><circle cx="98.0" cy="1389.7" r="4.5"/><circle cx="157.1" cy="1364.1" r="3"/><circle cx="56.4" cy="1179.0" r="4"/><circle cx="162.7" cy="1416.3" r="7"/><circle cx="73.2" cy="1450.8" r="6"/><circle cx="139.3" cy="1319.9" r="4"/><circle cx="31.9" cy="1244.8" r="3"/><circle cx="104.9" cy="1254.4" r="8"/><circle cx="240.9" cy="1196.7" r="4.5"/><circle cx="43.2" cy="1303.7" r="4"/><circle cx="32.5" cy="1447.3" r="5.5"/><circle cx="266.4" cy="1432.2" r="6"/><circle cx="82.3" cy="1159.8" r="3.5"/><circle cx="51.5" cy="1474.7" r="3"/><circle cx="148.9" cy="1321.3" r="2.5"/><circle cx="202.8" cy="1312.8" r="5.5"/><circle cx="64.2" cy="1215.2" r="8"/><circle cx="103.9" cy="1426.4" r="4"/><circle cx="227.8" cy="1232.2" r="2.5"/><circle cx="64.9" cy="1443.0" r="5.5"/><circle cx="28.9" cy="1203.2" r="5.5"/><circle cx="298.1" cy="1202.8" r="2.5"/><circle cx="257.3" cy="1389.8" r="7"/><circle cx="24.5" cy="1300.9" r="4"/><circle cx="102.4" cy="1419.3" r="4"/><circle cx="286.7" cy="1159.8" r="8"/><circle cx="74.2" cy="1272.2" r="2.5"/><circle cx="305.7" cy="1173.4" r="5.5"/><circle cx="193.2" cy="1271.6" r="2.5"/><circle cx="61.7" cy="1284.1" r="5"/><circle cx="62.2" cy="1461.6" r="6"/><circle cx="123.8" cy="1256.5" r="5"/><circle cx="28.0" cy="1149.5" r="5.5"/><circle cx="307.8" cy="1165.2" r="4"/><circle cx="124.3" cy="1400.6" r="4.5"/><circle cx="175.7" cy="1282.9" r="5"/><circle cx="262.0" cy="1399.8" r="2.5"/><circle cx="122.8" cy="1289.4" r="2.5"/><circle cx="85.0" cy="1392.8" r="8"/><circle cx="111.2" cy="1219.4" r="8"/><circle cx="97.9" cy="1383.4" r="8"/><circle cx="77.6" cy="1293.4" r="6"/><circle cx="83.1" cy="1276.9" r="6"/><circle cx="45.3" cy="1301.2" r="2.5"/><circle cx="259.0" cy="1389.5" r="3.5"/><circle cx="196.7" cy="1239.6" r="5"/><circle cx="150.0" cy="1406.1" r="8"/><circle cx="28.2" cy="1192.0" r="3.5"/><circle cx="87.5" cy="1150.7" r="3"/><circle cx="313.1" cy="1183.2" r="3.5"/><circle cx="136.0" cy="1346.4" r="4"/><circle cx="183.8" cy="1256.1" r="4.5"/><circle cx="66.5" cy="1210.3" r="4"/><circle cx="78.1" cy="1222.7" r="8"/><circle cx="63.1" cy="1143.7" r="4.5"/><circle cx="76.8" cy="1415.1" r="6"/><circle cx="154.4" cy="1419.0" r="6"/><circle cx="96.7" cy="1163.5" r="4"/><circle cx="194.6" cy="1422.2" r="4"/><circle cx="85.9" cy="1403.9" r="2.5"/><circle cx="262.9" cy="1418.9" r="5.5"/><circle cx="102.6" cy="1194.2" r="6"/><circle cx="35.3" cy="1264.3" r="7"/><circle cx="52.3" cy="1314.9" r="3.5"/><circle cx="216.0" cy="1272.5" r="2.5"/><circle cx="102.6" cy="1326.8" r="5"/><circle cx="247.6" cy="1412.8" r="4"/><circle cx="127.6" cy="1267.8" r="2.5"/><circle cx="39.2" cy="1153.0" r="8"/><circle cx="48.5" cy="1414.4" r="5.5"/><circle cx="121.3" cy="1304.1" r="3.5"/><circle cx="114.0" cy="1179.1" r="3.5"/><circle cx="298.2" cy="1159.7" r="6"/><circle cx="243.4" cy="1409.1" r="4"/><circle cx="99.2" cy="1425.6" r="2.5"/><circle cx="132.0" cy="1428.9" r="6"/><circle cx="61.4" cy="1199.6" r="5.5"/><circle cx="302.4" cy="1177.1" r="5"/><circle cx="42.3" cy="1210.2" r="4"/><circle cx="270.4" cy="1163.0" r="8"/><circle cx="148.4" cy="1429.9" r="4.5"/><circle cx="210.0" cy="1232.5" r="4"/><circle cx="138.8" cy="1360.5" r="6"/><circle cx="151.4" cy="1283.1" r="8"/><circle cx="60.3" cy="1292.7" r="3"/><circle cx="24.4" cy="1250.9" r="5"/><circle cx="32.3" cy="1281.3" r="7"/><circle cx="44.6" cy="1456.6" r="5"/><circle cx="251.1" cy="1306.7" r="2.5"/><circle cx="198.9" cy="1372.8" r="3"/><circle cx="295.2" cy="1180.3" r="4"/><circle cx="23.9" cy="1248.1" r="4.5"/><circle cx="53.6" cy="1447.2" r="4.5"/><circle cx="156.2" cy="1336.0" r="8"/><circle cx="164.4" cy="1236.5" r="2.5"/><circle cx="66.5" cy="1267.3" r="4.5"/><circle cx="56.8" cy="1406.5" r="3"/><circle cx="147.5" cy="1310.3" r="3"/><circle cx="83.4" cy="1315.5" r="5.5"/><circle cx="238.4" cy="1255.6" r="5.5"/><circle cx="117.9" cy="1399.1" r="6"/><circle cx="76.4" cy="1344.6" r="2.5"/><circle cx="97.5" cy="1308.4" r="4.5"/><circle cx="189.9" cy="1362.2" r="5"/><circle cx="236.8" cy="1392.7" r="4"/><circle cx="50.6" cy="1344.9" r="5.5"/><circle cx="136.2" cy="1252.9" r="2.5"/><circle cx="45.1" cy="1202.9" r="2.5"/><circle cx="116.9" cy="1201.9" r="8"/><circle cx="99.1" cy="1168.8" r="5"/><circle cx="202.0" cy="1293.3" r="3.5"/><circle cx="228.7" cy="1284.6" r="3"/><circle cx="206.6" cy="1438.0" r="4.5"/><circle cx="182.4" cy="1247.9" r="8"/><circle cx="82.3" cy="1449.8" r="2.5"/><circle cx="62.2" cy="1178.1" r="3"/><circle cx="303.2" cy="1171.9" r="4"/><circle cx="168.3" cy="1354.6" r="5.5"/><circle cx="262.5" cy="1183.7" r="4.5"/><circle cx="155.5" cy="1316.5" r="5.5"/><circle cx="151.4" cy="1390.7" r="6"/><circle cx="86.4" cy="1355.1" r="3"/><circle cx="110.0" cy="1393.6" r="4.5"/><circle cx="230.0" cy="1217.1" r="7"/><circle cx="219.7" cy="1370.3" r="7"/><circle cx="313.0" cy="1227.9" r="4"/><circle cx="30.2" cy="1305.2" r="3.5"/><circle cx="86.1" cy="1206.2" r="4"/><circle cx="107.8" cy="1207.3" r="7"/><circle cx="152.8" cy="1426.5" r="2.5"/><circle cx="101.2" cy="1197.4" r="8"/><circle cx="189.7" cy="1326.3" r="3.5"/><circle cx="49.1" cy="1129.8" r="3"/><circle cx="12.8" cy="1170.5" r="2.5"/><circle cx="118.9" cy="1418.4" r="7"/><circle cx="304.2" cy="1159.1" r="4"/><circle cx="104.8" cy="1274.7" r="2.5"/><circle cx="293.4" cy="1400.8" r="8"/><circle cx="163.7" cy="1430.8" r="8"/><circle cx="240.9" cy="1408.0" r="2.5"/><circle cx="142.2" cy="1402.2" r="5"/><circle cx="183.6" cy="1380.8" r="3"/><circle cx="186.3" cy="1224.8" r="5.5"/><circle cx="159.8" cy="1410.8" r="3.5"/><circle cx="76.9" cy="1180.5" r="3"/><circle cx="240.7" cy="1274.1" r="2.5"/><circle cx="121.7" cy="1230.6" r="5.5"/><circle cx="77.5" cy="1288.2" r="7"/><circle cx="192.5" cy="1371.6" r="8"/><circle cx="209.2" cy="1247.2" r="5"/><circle cx="169.4" cy="1436.8" r="6"/><circle cx="57.1" cy="1280.2" r="4.5"/><circle cx="150.4" cy="1443.1" r="4"/><circle cx="52.3" cy="1176.9" r="4"/><circle cx="114.2" cy="1206.2" r="4"/><circle cx="65.3" cy="1175.1" r="3.5"/><circle cx="256.6" cy="1387.7" r="5.5"/><circle cx="90.3" cy="1159.9" r="3"/><circle cx="92.6" cy="1443.1" r="6"/><circle cx="195.6" cy="1267.7" r="4"/><circle cx="186.1" cy="1393.4" r="5.5"/><circle cx="207.7" cy="1285.7" r="5"/><circle cx="85.9" cy="1375.7" r="5.5"/><circle cx="80.3" cy="1266.0" r="3.5"/><circle cx="82.8" cy="1274.6" r="6"/><circle cx="168.3" cy="1361.3" r="3.5"/><circle cx="292.7" cy="1158.8" r="4.5"/><circle cx="186.3" cy="1317.5" r="6"/><circle cx="166.4" cy="1353.3" r="5"/><circle cx="305.4" cy="1196.7" r="3.5"/><circle cx="128.2" cy="1398.4" r="3"/><circle cx="27.0" cy="1454.1" r="5"/><circle cx="99.8" cy="1266.2" r="7"/><circle cx="55.5" cy="1459.2" r="3"/><circle cx="115.6" cy="1353.2" r="5.5"/><circle cx="152.7" cy="1406.0" r="4"/><circle cx="88.3" cy="1257.3" r="4.5"/><circle cx="156.6" cy="1414.0" r="4.5"/><circle cx="117.2" cy="1358.9" r="5"/><circle cx="213.3" cy="1252.3" r="4.5"/><circle cx="253.1" cy="1171.2" r="5"/><circle cx="35.4" cy="1172.1" r="4"/><circle cx="62.2" cy="1285.0" r="3.5"/><circle cx="69.5" cy="1266.9" r="7"/><circle cx="56.6" cy="1445.3" r="8"/><circle cx="254.4" cy="1426.2" r="4"/><circle cx="28.1" cy="1426.3" r="3"/><circle cx="180.1" cy="1216.5" r="4"/><circle cx="180.7" cy="1296.8" r="3.5"/><circle cx="226.4" cy="1210.0" r="3.5"/><circle cx="175.1" cy="1435.0" r="2.5"/><circle cx="54.2" cy="1237.0" r="8"/><circle cx="161.7" cy="1228.3" r="6"/><circle cx="60.6" cy="1251.5" r="2.5"/><circle cx="157.5" cy="1396.4" r="3.5"/><circle cx="202.5" cy="1243.6" r="5"/><circle cx="111.9" cy="1404.2" r="7"/><circle cx="248.8" cy="1196.9" r="5.5"/><circle cx="112.1" cy="1211.8" r="2.5"/><circle cx="131.8" cy="1303.9" r="4.5"/><circle cx="67.9" cy="1299.7" r="3"/><circle cx="108.6" cy="1235.7" r="4.5"/><circle cx="43.7" cy="1475.1" r="3"/><circle cx="63.6" cy="1456.3" r="8"/><circle cx="162.8" cy="1318.4" r="5.5"/><circle cx="199.7" cy="1348.8" r="8"/><circle cx="281.1" cy="1170.6" r="4.5"/><circle cx="61.9" cy="1132.5" r="2.5"/><circle cx="140.4" cy="1354.2" r="2.5"/><circle cx="161.8" cy="1310.6" r="3"/><circle cx="126.5" cy="1336.1" r="3.5"/><circle cx="70.7" cy="1175.4" r="2.5"/><circle cx="276.9" cy="1199.7" r="3"/><circle cx="241.4" cy="1373.6" r="3.5"/><circle cx="203.5" cy="1378.9" r="6"/><circle cx="200.2" cy="1262.0" r="4.5"/><circle cx="197.3" cy="1235.4" r="8"/><circle cx="235.2" cy="1291.5" r="3.5"/><circle cx="49.2" cy="1411.0" r="5"/><circle cx="307.3" cy="1179.9" r="5.5"/><circle cx="155.2" cy="1404.0" r="6"/><circle cx="109.5" cy="1222.2" r="8"/><circle cx="51.2" cy="1423.9" r="8"/><circle cx="139.7" cy="1444.2" r="5.5"/><circle cx="126.6" cy="1257.3" r="4"/><circle cx="260.6" cy="1223.4" r="2.5"/><circle cx="105.6" cy="1217.8" r="3.5"/><circle cx="190.1" cy="1417.8" r="2.5"/><circle cx="95.0" cy="1171.3" r="8"/><circle cx="49.9" cy="1476.0" r="7"/><circle cx="179.6" cy="1411.0" r="4"/><circle cx="254.3" cy="1383.6" r="4"/><circle cx="129.2" cy="1378.5" r="4.5"/><circle cx="125.8" cy="1317.3" r="7"/><circle cx="260.3" cy="1401.8" r="4"/><circle cx="130.0" cy="1310.2" r="4.5"/><circle cx="155.0" cy="1335.1" r="4"/><circle cx="70.8" cy="1153.6" r="4.5"/><circle cx="118.7" cy="1326.0" r="5.5"/><circle cx="251.7" cy="1432.8" r="4"/><circle cx="92.5" cy="1341.6" r="3"/><circle cx="247.8" cy="1418.9" r="3.5"/><circle cx="67.1" cy="1186.0" r="3"/><circle cx="120.9" cy="1377.5" r="6"/><circle cx="309.0" cy="1213.9" r="8"/><circle cx="77.4" cy="1152.8" r="7"/><circle cx="121.3" cy="1205.8" r="4"/><circle cx="57.9" cy="1463.7" r="5"/><circle cx="85.3" cy="1307.4" r="6"/><circle cx="20.8" cy="1172.9" r="2.5"/><circle cx="98.3" cy="1335.9" r="3"/><circle cx="127.4" cy="1256.9" r="5.5"/><circle cx="56.8" cy="1207.0" r="3.5"/><circle cx="231.8" cy="1191.2" r="2.5"/><circle cx="53.1" cy="1424.0" r="3"/><circle cx="300.9" cy="1436.4" r="3.5"/><circle cx="77.6" cy="1162.2" r="5"/><circle cx="48.5" cy="1200.9" r="2.5"/><circle cx="60.5" cy="1284.8" r="3.5"/><circle cx="97.6" cy="1413.5" r="4.5"/><circle cx="159.6" cy="1236.1" r="6"/><circle cx="39.4" cy="1477.2" r="2.5"/><circle cx="181.6" cy="1424.9" r="3"/><circle cx="85.2" cy="1193.6" r="5"/><circle cx="79.1" cy="1206.9" r="5.5"/><circle cx="49.0" cy="1353.5" r="6"/><circle cx="260.4" cy="1244.4" r="3.5"/><circle cx="144.3" cy="1408.2" r="7"/><circle cx="94.4" cy="1251.4" r="2.5"/><circle cx="293.9" cy="1199.7" r="8"/><circle cx="60.6" cy="1427.8" r="7"/><circle cx="248.8" cy="1379.7" r="4"/><circle cx="194.6" cy="1422.6" r="8"/><circle cx="236.1" cy="1397.9" r="3.5"/><circle cx="68.7" cy="1343.5" r="4"/><circle cx="168.4" cy="1246.9" r="4.5"/><circle cx="271.6" cy="1435.5" r="6"/><circle cx="31.8" cy="1269.5" r="6"/><circle cx="45.5" cy="1362.9" r="4"/><circle cx="62.4" cy="1423.5" r="5"/><circle cx="186.4" cy="1433.2" r="5"/><circle cx="168.8" cy="1282.7" r="7"/><circle cx="25.8" cy="1250.2" r="4"/><circle cx="263.5" cy="1435.9" r="5"/><circle cx="160.8" cy="1307.4" r="7"/><circle cx="259.6" cy="1169.0" r="4"/><circle cx="56.6" cy="1233.8" r="7"/><circle cx="194.2" cy="1330.4" r="7"/><circle cx="79.0" cy="1282.1" r="5"/><circle cx="17.4" cy="1164.9" r="6"/><circle cx="189.9" cy="1398.0" r="3"/><circle cx="41.9" cy="1268.1" r="3.5"/><circle cx="241.2" cy="1180.0" r="2.5"/><circle cx="137.1" cy="1426.5" r="7"/><circle cx="79.7" cy="1242.3" r="5.5"/><circle cx="263.0" cy="1429.4" r="2.5"/><circle cx="106.6" cy="1173.5" r="5"/><circle cx="82.5" cy="1274.1" r="2.5"/><circle cx="119.3" cy="1313.7" r="3"/><circle cx="106.5" cy="1193.3" r="2.5"/><circle cx="74.9" cy="1273.6" r="5.5"/><circle cx="285.1" cy="1442.9" r="2.5"/><circle cx="169.0" cy="1278.3" r="2.5"/><circle cx="94.7" cy="1231.5" r="3.5"/><circle cx="41.4" cy="1336.9" r="7"/><circle cx="191.3" cy="1460.2" r="6"/><circle cx="42.5" cy="1167.9" r="4.5"/><circle cx="90.4" cy="1388.6" r="7"/><circle cx="94.6" cy="1285.8" r="8"/><circle cx="73.7" cy="1261.1" r="7"/><circle cx="229.6" cy="1288.2" r="7"/><circle cx="99.9" cy="1294.4" r="4.5"/><circle cx="63.2" cy="1319.3" r="8"/><circle cx="54.8" cy="1467.5" r="5"/><circle cx="180.6" cy="1299.4" r="4.5"/><circle cx="283.2" cy="1198.9" r="2.5"/><circle cx="249.3" cy="1177.9" r="3"/><circle cx="196.3" cy="1247.0" r="2.5"/><circle cx="167.9" cy="1424.5" r="5"/><circle cx="67.6" cy="1342.9" r="4.5"/><circle cx="238.7" cy="1391.3" r="6"/><circle cx="88.7" cy="1350.2" r="3.5"/><circle cx="133.9" cy="1320.7" r="3"/><circle cx="185.5" cy="1272.5" r="4.5"/><circle cx="94.9" cy="1248.7" r="5"/><circle cx="127.6" cy="1322.7" r="5.5"/><circle cx="124.4" cy="1229.5" r="7"/><circle cx="100.0" cy="1172.9" r="8"/><circle cx="123.3" cy="1204.7" r="5"/><circle cx="106.3" cy="1427.8" r="4"/><circle cx="308.8" cy="1194.6" r="5.5"/><circle cx="98.6" cy="1315.8" r="4.5"/><circle cx="168.1" cy="1308.8" r="5.5"/><circle cx="127.3" cy="1250.6" r="8"/><circle cx="218.7" cy="1285.4" r="2.5"/><circle cx="34.6" cy="1256.7" r="5.5"/><circle cx="52.2" cy="1188.7" r="5.5"/><circle cx="32.4" cy="1252.4" r="5"/><circle cx="52.9" cy="1225.8" r="7"/><circle cx="69.3" cy="1446.0" r="5.5"/><circle cx="61.2" cy="1350.0" r="8"/><circle cx="37.0" cy="1328.0" r="2.5"/><circle cx="179.4" cy="1454.7" r="5.5"/><circle cx="161.8" cy="1321.9" r="4.5"/><circle cx="66.3" cy="1339.6" r="3.5"/><circle cx="53.0" cy="1397.2" r="3"/><circle cx="159.4" cy="1290.6" r="5.5"/><circle cx="106.0" cy="1381.1" r="5"/><circle cx="203.6" cy="1433.7" r="8"/><circle cx="23.1" cy="1190.0" r="8"/><circle cx="289.7" cy="1417.8" r="4.5"/><circle cx="134.9" cy="1265.5" r="6"/><circle cx="30.9" cy="1182.0" r="5.5"/><circle cx="95.7" cy="1325.0" r="3"/><circle cx="110.1" cy="1357.7" r="3"/><circle cx="137.7" cy="1453.2" r="7"/><circle cx="81.1" cy="1189.8" r="4.5"/><circle cx="112.9" cy="1279.0" r="4.5"/><circle cx="214.9" cy="1244.6" r="3.5"/><circle cx="80.1" cy="1167.4" r="4"/><circle cx="89.0" cy="1424.8" r="3.5"/><circle cx="180.0" cy="1290.5" r="4"/><circle cx="53.8" cy="1248.8" r="5.5"/><circle cx="68.2" cy="1433.3" r="3.5"/><circle cx="193.1" cy="1280.7" r="5"/><circle cx="70.8" cy="1438.4" r="3"/><circle cx="76.9" cy="1188.7" r="3"/><circle cx="24.7" cy="1453.6" r="7"/><circle cx="244.9" cy="1190.4" r="4.5"/><circle cx="31.1" cy="1225.3" r="5.5"/><circle cx="93.1" cy="1267.2" r="6"/><circle cx="277.7" cy="1168.2" r="4.5"/><circle cx="59.3" cy="1253.8" r="5"/><circle cx="227.5" cy="1288.8" r="5.5"/><circle cx="115.3" cy="1349.5" r="3.5"/><circle cx="96.0" cy="1218.9" r="8"/><circle cx="237.2" cy="1380.1" r="2.5"/><circle cx="132.1" cy="1342.1" r="5.5"/><circle cx="66.2" cy="1230.6" r="5.5"/><circle cx="238.5" cy="1321.6" r="3.5"/><circle cx="161.8" cy="1310.1" r="5.5"/><circle cx="301.5" cy="1160.8" r="4.5"/><circle cx="290.4" cy="1439.4" r="8"/><circle cx="81.0" cy="1160.6" r="5"/><circle cx="70.0" cy="1453.8" r="3"/><circle cx="136.1" cy="1391.5" r="8"/><circle cx="267.4" cy="1222.6" r="3"/><circle cx="203.4" cy="1285.3" r="2.5"/><circle cx="86.3" cy="1319.4" r="4"/><circle cx="46.8" cy="1370.5" r="6"/><circle cx="80.1" cy="1308.1" r="6"/><circle cx="45.5" cy="1353.9" r="4.5"/><circle cx="45.6" cy="1378.3" r="8"/><circle cx="182.7" cy="1241.8" r="3"/><circle cx="177.9" cy="1397.6" r="3.5"/><circle cx="106.5" cy="1291.1" r="5"/><circle cx="95.4" cy="1323.5" r="2.5"/><circle cx="253.1" cy="1237.5" r="5"/><circle cx="81.5" cy="1170.6" r="2.5"/><circle cx="97.5" cy="1187.8" r="7"/><circle cx="56.7" cy="1406.4" r="4.5"/><circle cx="239.8" cy="1239.2" r="3.5"/><circle cx="209.5" cy="1250.0" r="4"/><circle cx="120.6" cy="1321.2" r="5"/><circle cx="270.3" cy="1212.5" r="2.5"/><circle cx="160.7" cy="1302.3" r="3.5"/><circle cx="75.6" cy="1170.5" r="5.5"/><circle cx="197.8" cy="1424.2" r="7"/><circle cx="259.5" cy="1366.5" r="8"/><circle cx="65.3" cy="1151.0" r="5"/><circle cx="292.9" cy="1435.9" r="5.5"/><circle cx="97.8" cy="1328.5" r="5"/><circle cx="156.4" cy="1356.3" r="4.5"/><circle cx="205.2" cy="1429.6" r="4"/><circle cx="219.5" cy="1283.3" r="3"/><circle cx="49.9" cy="1331.4" r="7"/><circle cx="188.3" cy="1272.0" r="7"/><circle cx="79.6" cy="1281.1" r="4.5"/><circle cx="39.4" cy="1185.9" r="4"/><circle cx="278.0" cy="1212.5" r="3"/><circle cx="229.2" cy="1202.9" r="6"/><circle cx="75.3" cy="1329.0" r="3"/><circle cx="183.8" cy="1430.8" r="3"/><circle cx="258.3" cy="1169.0" r="7"/><circle cx="178.6" cy="1380.8" r="3"/><circle cx="167.3" cy="1287.9" r="5.5"/><circle cx="64.1" cy="1293.4" r="3"/><circle cx="46.6" cy="1403.3" r="2.5"/><circle cx="41.5" cy="1169.5" r="3"/><circle cx="201.2" cy="1438.3" r="8"/><circle cx="39.6" cy="1385.8" r="5"/><circle cx="56.6" cy="1392.1" r="5"/><circle cx="259.5" cy="1388.7" r="2.5"/><circle cx="266.4" cy="1164.8" r="5"/><circle cx="166.7" cy="1311.5" r="5"/><circle cx="178.1" cy="1413.1" r="3"/><circle cx="80.3" cy="1249.3" r="6"/><circle cx="143.3" cy="1408.8" r="6"/><circle cx="38.2" cy="1412.3" r="3.5"/><circle cx="50.9" cy="1459.9" r="5.5"/><circle cx="245.9" cy="1218.1" r="6"/><circle cx="51.1" cy="1303.1" r="2.5"/><circle cx="61.1" cy="1418.7" r="8"/><circle cx="128.2" cy="1293.7" r="3.5"/><circle cx="224.0" cy="1283.7" r="4"/><circle cx="27.2" cy="1240.2" r="4"/><circle cx="102.3" cy="1167.8" r="8"/><circle cx="16.9" cy="1182.0" r="5"/><circle cx="235.0" cy="1240.9" r="6"/><circle cx="126.7" cy="1249.1" r="2.5"/><circle cx="110.0" cy="1296.5" r="4"/><circle cx="49.5" cy="1364.9" r="4.5"/><circle cx="186.0" cy="1333.3" r="3.5"/><circle cx="181.8" cy="1401.4" r="4"/><circle cx="205.4" cy="1252.5" r="4.5"/><circle cx="256.0" cy="1206.9" r="3.5"/><circle cx="220.3" cy="1231.0" r="5"/><circle cx="114.8" cy="1321.0" r="5.5"/><circle cx="109.7" cy="1377.0" r="5"/><circle cx="284.9" cy="1405.6" r="7"/><circle cx="120.2" cy="1208.8" r="4"/><circle cx="68.5" cy="1444.4" r="6"/><circle cx="132.2" cy="1264.6" r="4.5"/><circle cx="48.9" cy="1382.7" r="4.5"/><circle cx="28.5" cy="1185.2" r="8"/><circle cx="115.8" cy="1290.8" r="5.5"/><circle cx="58.9" cy="1447.7" r="7"/><circle cx="10.4" cy="1180.1" r="4.5"/><circle cx="287.8" cy="1223.2" r="7"/><circle cx="89.3" cy="1354.5" r="2.5"/><circle cx="70.7" cy="1239.3" r="2.5"/><circle cx="210.0" cy="1267.9" r="5"/><circle cx="58.7" cy="1435.1" r="2.5"/><circle cx="104.1" cy="1358.7" r="5"/><circle cx="234.0" cy="1240.1" r="3"/><circle cx="174.8" cy="1334.8" r="7"/><circle cx="108.5" cy="1390.5" r="4.5"/><circle cx="181.4" cy="1251.9" r="7"/><circle cx="303.2" cy="1168.1" r="2.5"/><circle cx="51.0" cy="1349.6" r="5.5"/><circle cx="11.9" cy="1169.0" r="2.5"/><circle cx="251.0" cy="1214.6" r="8"/><circle cx="119.6" cy="1174.5" r="3.5"/><circle cx="280.8" cy="1432.3" r="3.5"/><circle cx="171.6" cy="1248.1" r="4"/><circle cx="143.9" cy="1433.8" r="4"/><circle cx="205.9" cy="1245.6" r="5.5"/><circle cx="149.8" cy="1238.2" r="2.5"/><circle cx="37.4" cy="1387.7" r="3"/><circle cx="218.1" cy="1248.0" r="4"/><circle cx="183.0" cy="1269.6" r="5.5"/><circle cx="74.5" cy="1212.0" r="4.5"/><circle cx="229.3" cy="1208.3" r="5"/><circle cx="67.8" cy="1397.1" r="4.5"/><circle cx="72.1" cy="1327.9" r="3.5"/><circle cx="307.4" cy="1169.8" r="4.5"/><circle cx="93.1" cy="1241.0" r="6"/><circle cx="281.2" cy="1211.2" r="5"/><circle cx="147.5" cy="1331.4" r="4"/><circle cx="10.8" cy="1160.7" r="2.5"/><circle cx="45.5" cy="1230.5" r="7"/><circle cx="31.8" cy="1243.9" r="5.5"/><circle cx="13.5" cy="1205.6" r="2.5"/><circle cx="76.9" cy="1277.1" r="3"/><circle cx="38.2" cy="1469.4" r="3.5"/><circle cx="74.4" cy="1317.3" r="7"/><circle cx="115.8" cy="1301.1" r="3"/><circle cx="114.5" cy="1198.5" r="4"/><circle cx="236.3" cy="1219.6" r="3.5"/><circle cx="65.7" cy="1137.5" r="7"/><circle cx="306.7" cy="1217.5" r="5"/><circle cx="222.5" cy="1358.4" r="7"/><circle cx="93.0" cy="1240.7" r="5.5"/><circle cx="232.0" cy="1265.7" r="5"/><circle cx="175.3" cy="1259.8" r="3.5"/><circle cx="126.5" cy="1260.7" r="5.5"/><circle cx="231.5" cy="1268.1" r="7"/><circle cx="106.5" cy="1355.9" r="7"/><circle cx="216.1" cy="1286.3" r="8"/><circle cx="77.8" cy="1349.8" r="5.5"/><circle cx="314.3" cy="1217.2" r="5"/><circle cx="26.0" cy="1411.0" r="4"/><circle cx="297.7" cy="1399.4" r="4.5"/><circle cx="48.3" cy="1458.5" r="7"/><circle cx="119.1" cy="1194.8" r="3.5"/><circle cx="262.5" cy="1207.1" r="3.5"/><circle cx="51.6" cy="1361.6" r="3.5"/><circle cx="105.7" cy="1252.0" r="5.5"/><circle cx="42.2" cy="1176.2" r="4.5"/><circle cx="122.7" cy="1253.1" r="7"/><circle cx="169.3" cy="1285.3" r="3"/><circle cx="90.7" cy="1226.0" r="6"/><circle cx="224.7" cy="1284.0" r="6"/><circle cx="50.8" cy="1368.3" r="5"/><circle cx="158.9" cy="1361.0" r="8"/><circle cx="121.3" cy="1244.1" r="5.5"/><circle cx="83.7" cy="1323.0" r="2.5"/><circle cx="90.6" cy="1238.3" r="4"/><circle cx="87.7" cy="1279.9" r="7"/><circle cx="205.9" cy="1433.5" r="4"/><circle cx="43.9" cy="1469.8" r="4.5"/><circle cx="200.1" cy="1255.6" r="2.5"/><circle cx="231.9" cy="1257.1" r="2.5"/><circle cx="230.3" cy="1227.8" r="5.5"/><circle cx="140.5" cy="1341.7" r="4.5"/><circle cx="115.4" cy="1260.7" r="8"/><circle cx="121.8" cy="1362.9" r="5"/><circle cx="145.1" cy="1263.5" r="5.5"/><circle cx="161.4" cy="1449.0" r="2.5"/><circle cx="37.4" cy="1325.7" r="6"/><circle cx="226.6" cy="1279.2" r="6"/><circle cx="59.2" cy="1143.8" r="5.5"/><circle cx="159.7" cy="1306.8" r="2.5"/><circle cx="248.4" cy="1401.0" r="3"/><circle cx="31.7" cy="1429.5" r="8"/><circle cx="263.8" cy="1157.1" r="3"/><circle cx="273.6" cy="1198.7" r="6"/><circle cx="229.8" cy="1296.2" r="2.5"/><circle cx="178.6" cy="1393.0" r="8"/><circle cx="47.7" cy="1268.5" r="2.5"/><circle cx="281.1" cy="1173.1" r="5"/><circle cx="62.4" cy="1316.7" r="7"/><circle cx="86.7" cy="1234.3" r="4.5"/><circle cx="214.8" cy="1229.1" r="5.5"/><circle cx="258.8" cy="1432.7" r="4.5"/><circle cx="100.3" cy="1168.1" r="4"/><circle cx="174.3" cy="1256.4" r="6"/><circle cx="212.4" cy="1379.1" r="3.5"/><circle cx="119.7" cy="1412.5" r="4"/><circle cx="148.6" cy="1378.0" r="2.5"/><circle cx="14.3" cy="1200.2" r="6"/><circle cx="96.0" cy="1379.4" r="8"/><circle cx="197.8" cy="1268.2" r="6"/><circle cx="68.0" cy="1194.2" r="3.5"/><circle cx="141.4" cy="1353.3" r="2.5"/><circle cx="46.7" cy="1441.2" r="8"/><circle cx="161.9" cy="1366.0" r="4.5"/><circle cx="258.8" cy="1315.1" r="3.5"/><circle cx="49.5" cy="1455.0" r="4"/><circle cx="167.7" cy="1290.0" r="4"/><circle cx="135.3" cy="1360.5" r="4.5"/><circle cx="228.3" cy="1281.5" r="5.5"/><circle cx="52.4" cy="1140.7" r="3.5"/><circle cx="96.7" cy="1204.9" r="8"/><circle cx="257.3" cy="1378.0" r="3.5"/><circle cx="101.8" cy="1214.2" r="7"/><circle cx="271.4" cy="1175.4" r="4"/><circle cx="124.2" cy="1353.9" r="4"/><circle cx="211.9" cy="1373.4" r="4"/><circle cx="151.2" cy="1385.8" r="5.5"/><circle cx="109.3" cy="1266.5" r="2.5"/><circle cx="267.3" cy="1164.6" r="4"/><circle cx="170.9" cy="1226.1" r="5"/><circle cx="67.0" cy="1222.2" r="4.5"/><circle cx="193.7" cy="1317.4" r="3"/><circle cx="67.2" cy="1291.7" r="4"/><circle cx="187.6" cy="1229.5" r="8"/><circle cx="109.3" cy="1284.1" r="4"/><circle cx="108.1" cy="1252.9" r="3"/><circle cx="254.3" cy="1228.9" r="3"/><circle cx="233.9" cy="1286.1" r="7"/><circle cx="39.0" cy="1178.9" r="5.5"/><circle cx="187.4" cy="1248.8" r="5"/><circle cx="235.1" cy="1388.0" r="5"/><circle cx="57.1" cy="1463.7" r="5"/><circle cx="86.3" cy="1158.9" r="4"/><circle cx="40.3" cy="1301.1" r="7"/><circle cx="175.6" cy="1238.4" r="4"/><circle cx="55.3" cy="1315.4" r="7"/><circle cx="93.4" cy="1322.7" r="3.5"/><circle cx="33.3" cy="1158.6" r="2.5"/><circle cx="158.8" cy="1408.7" r="8"/><circle cx="70.3" cy="1391.5" r="3"/><circle cx="242.3" cy="1176.1" r="4.5"/><circle cx="80.7" cy="1402.9" r="7"/><circle cx="81.4" cy="1338.7" r="3"/><circle cx="112.1" cy="1415.9" r="6"/><circle cx="254.6" cy="1174.0" r="7"/><circle cx="112.8" cy="1171.2" r="4"/><circle cx="119.6" cy="1270.1" r="5"/><circle cx="188.9" cy="1413.2" r="6"/><circle cx="46.0" cy="1422.4" r="4.5"/><circle cx="55.5" cy="1260.8" r="7"/><circle cx="24.7" cy="1405.9" r="4.5"/><circle cx="79.6" cy="1334.5" r="7"/><circle cx="78.5" cy="1299.8" r="2.5"/><circle cx="128.1" cy="1406.1" r="5"/><circle cx="192.8" cy="1425.2" r="4.5"/><circle cx="136.6" cy="1340.7" r="6"/><circle cx="49.5" cy="1319.1" r="3"/><circle cx="115.8" cy="1428.3" r="8"/><circle cx="133.0" cy="1316.4" r="4"/><circle cx="41.5" cy="1369.3" r="2.5"/><circle cx="127.3" cy="1241.4" r="3.5"/><circle cx="118.6" cy="1201.8" r="8"/><circle cx="101.4" cy="1236.3" r="7"/><circle cx="275.3" cy="1157.9" r="4"/><circle cx="148.0" cy="1415.4" r="4.5"/><circle cx="238.0" cy="1366.8" r="7"/><circle cx="237.3" cy="1394.9" r="5.5"/><circle cx="46.1" cy="1395.0" r="4.5"/><circle cx="202.1" cy="1282.1" r="4.5"/><circle cx="118.4" cy="1361.3" r="5.5"/><circle cx="302.2" cy="1415.2" r="2.5"/><circle cx="145.8" cy="1394.1" r="3.5"/><circle cx="235.5" cy="1393.7" r="2.5"/><circle cx="89.6" cy="1188.5" r="8"/><circle cx="58.4" cy="1335.2" r="4.5"/><circle cx="177.9" cy="1268.8" r="3"/><circle cx="259.8" cy="1366.9" r="5.5"/><circle cx="106.4" cy="1424.2" r="6"/><circle cx="266.5" cy="1409.7" r="5"/><circle cx="288.1" cy="1193.3" r="2.5"/><circle cx="54.7" cy="1389.5" r="3.5"/><circle cx="250.9" cy="1251.4" r="3.5"/><circle cx="89.9" cy="1445.3" r="6"/><circle cx="66.0" cy="1237.1" r="6"/><circle cx="131.6" cy="1368.8" r="5"/><circle cx="128.7" cy="1260.7" r="6"/><circle cx="88.1" cy="1194.5" r="8"/><circle cx="146.6" cy="1425.5" r="3.5"/><circle cx="251.4" cy="1234.9" r="3.5"/><circle cx="92.0" cy="1315.5" r="7"/><circle cx="27.4" cy="1262.9" r="5.5"/><circle cx="171.9" cy="1225.3" r="3"/><circle cx="85.9" cy="1401.5" r="2.5"/><circle cx="172.8" cy="1374.8" r="4.5"/><circle cx="87.7" cy="1208.8" r="3"/><circle cx="219.3" cy="1270.6" r="3"/><circle cx="299.7" cy="1180.6" r="3.5"/><circle cx="239.8" cy="1244.7" r="5.5"/><circle cx="237.7" cy="1271.0" r="4.5"/><circle cx="45.6" cy="1243.6" r="3"/><circle cx="78.1" cy="1277.9" r="4"/><circle cx="186.0" cy="1219.9" r="3.5"/><circle cx="51.2" cy="1365.1" r="4"/><circle cx="162.7" cy="1447.9" r="2.5"/><circle cx="283.3" cy="1167.9" r="5.5"/><circle cx="198.3" cy="1220.4" r="3"/><circle cx="165.4" cy="1341.8" r="4"/><circle cx="101.7" cy="1251.3" r="8"/><circle cx="117.7" cy="1375.3" r="3"/><circle cx="41.9" cy="1468.2" r="4"/><circle cx="47.3" cy="1220.4" r="2.5"/><circle cx="174.6" cy="1290.7" r="6"/><circle cx="74.6" cy="1349.7" r="5"/><circle cx="76.5" cy="1323.2" r="4"/><circle cx="187.2" cy="1380.3" r="4"/><circle cx="130.6" cy="1306.9" r="8"/><circle cx="133.5" cy="1363.3" r="2.5"/><circle cx="25.8" cy="1294.4" r="3.5"/><circle cx="63.8" cy="1344.7" r="3"/><circle cx="27.4" cy="1447.6" r="2.5"/><circle cx="87.7" cy="1324.5" r="4.5"/><circle cx="116.4" cy="1179.7" r="5"/><circle cx="17.1" cy="1183.9" r="5"/><circle cx="293.8" cy="1410.1" r="6"/><circle cx="83.1" cy="1262.0" r="5"/><circle cx="142.3" cy="1387.3" r="5.5"/><circle cx="54.3" cy="1447.2" r="5.5"/><circle cx="294.5" cy="1433.4" r="5"/><circle cx="202.2" cy="1443.1" r="6"/><circle cx="34.3" cy="1440.3" r="4"/><circle cx="143.4" cy="1328.8" r="6"/><circle cx="56.9" cy="1357.9" r="4"/><circle cx="231.7" cy="1291.4" r="6"/><circle cx="183.6" cy="1392.0" r="4"/><circle cx="80.4" cy="1451.4" r="4"/><circle cx="18.5" cy="1207.8" r="4"/><circle cx="180.4" cy="1331.0" r="5.5"/><circle cx="86.9" cy="1176.0" r="2.5"/><circle cx="33.8" cy="1172.3" r="7"/><circle cx="54.9" cy="1306.9" r="3"/><circle cx="200.7" cy="1337.0" r="7"/><circle cx="199.2" cy="1286.8" r="2.5"/><circle cx="62.8" cy="1305.1" r="6"/><circle cx="237.6" cy="1365.2" r="3"/><circle cx="168.8" cy="1367.3" r="3"/><circle cx="273.6" cy="1157.0" r="5"/><circle cx="90.4" cy="1232.9" r="4.5"/><circle cx="50.2" cy="1341.3" r="5"/><circle cx="26.9" cy="1161.5" r="8"/><circle cx="71.2" cy="1260.7" r="5.5"/><circle cx="70.3" cy="1396.9" r="3"/><circle cx="294.2" cy="1425.6" r="2.5"/><circle cx="293.7" cy="1412.4" r="2.5"/><circle cx="60.4" cy="1464.1" r="6"/><circle cx="84.5" cy="1169.0" r="4.5"/><circle cx="125.0" cy="1179.2" r="3.5"/><circle cx="300.4" cy="1398.3" r="5"/><circle cx="90.5" cy="1211.2" r="5.5"/><circle cx="174.6" cy="1244.4" r="7"/><circle cx="107.9" cy="1401.2" r="4"/><circle cx="286.9" cy="1410.0" r="7"/><circle cx="54.5" cy="1132.9" r="5"/><circle cx="138.6" cy="1243.0" r="3"/><circle cx="54.4" cy="1313.8" r="7"/><circle cx="31.6" cy="1197.5" r="4.5"/><circle cx="230.9" cy="1277.5" r="3"/><circle cx="305.4" cy="1223.8" r="5.5"/><circle cx="82.3" cy="1213.9" r="2.5"/><circle cx="32.3" cy="1436.2" r="4.5"/><circle cx="200.2" cy="1359.4" r="8"/><circle cx="48.3" cy="1145.3" r="3"/><circle cx="224.7" cy="1230.9" r="3"/><circle cx="118.3" cy="1171.9" r="3"/><circle cx="233.5" cy="1356.7" r="7"/><circle cx="222.3" cy="1219.8" r="6"/><circle cx="59.7" cy="1156.5" r="4.5"/><circle cx="128.9" cy="1374.3" r="3.5"/><circle cx="144.9" cy="1385.8" r="3"/><circle cx="105.9" cy="1195.2" r="5.5"/><circle cx="267.4" cy="1202.6" r="4"/><circle cx="259.1" cy="1364.8" r="4.5"/><circle cx="202.3" cy="1428.7" r="3"/><circle cx="291.7" cy="1177.7" r="8"/><circle cx="102.5" cy="1216.0" r="2.5"/><circle cx="48.8" cy="1155.4" r="2.5"/><circle cx="125.2" cy="1358.1" r="8"/><circle cx="97.4" cy="1217.9" r="3.5"/><circle cx="120.8" cy="1389.1" r="5"/><circle cx="119.8" cy="1310.9" r="3"/><circle cx="55.9" cy="1397.7" r="2.5"/><circle cx="74.5" cy="1190.8" r="4"/><circle cx="207.6" cy="1292.2" r="2.5"/><circle cx="269.8" cy="1205.7" r="2.5"/><circle cx="153.8" cy="1297.9" r="3"/><circle cx="149.7" cy="1379.7" r="3"/><circle cx="132.1" cy="1297.0" r="3.5"/><circle cx="22.4" cy="1189.6" r="4.5"/><circle cx="118.2" cy="1291.2" r="5"/><circle cx="22.1" cy="1277.6" r="2.5"/><circle cx="79.5" cy="1182.3" r="5"/><circle cx="70.8" cy="1150.3" r="4.5"/><circle cx="253.4" cy="1168.1" r="6"/><circle cx="92.5" cy="1408.0" r="3"/><circle cx="85.1" cy="1306.0" r="7"/><circle cx="119.3" cy="1261.4" r="5"/><circle cx="61.0" cy="1202.8" r="8"/><circle cx="149.3" cy="1384.2" r="6"/><circle cx="64.1" cy="1393.4" r="8"/></g><ellipse cx="243" cy="1233" rx="27" ry="10" transform="rotate(-12 243 1233)" fill="url(#gBD)" opacity="0.85"/><ellipse cx="255" cy="1408" rx="14" ry="9" transform="rotate(-30 255 1408)" fill="url(#gBD)" opacity="0.85"/><ellipse cx="100" cy="1180" rx="22" ry="10" transform="rotate(-35 100 1180)" fill="url(#gBD)" opacity="0.85"/><g fill="url(#gB)"><circle cx="224.0" cy="1317.0" r="3.0"/><circle cx="277.7" cy="1328.2" r="3.0"/><circle cx="140.0" cy="1178.0" r="3.5"/><circle cx="297.3" cy="1327.0" r="3.7"/><circle cx="293.6" cy="1302.5" r="3.7"/><circle cx="189.4" cy="1191.1" r="3.7"/><circle cx="194.9" cy="1190.5" r="3.9"/><circle cx="221.0" cy="1328.0" r="4.0"/><circle cx="309.5" cy="1304.9" r="4.3"/><circle cx="220.5" cy="1320.0" r="4.5"/><circle cx="19.6" cy="1306.1" r="4.9"/><circle cx="284.0" cy="1333.0" r="5.0"/><circle cx="143.0" cy="1172.0" r="5.0"/><circle cx="192.5" cy="1159.2" r="5.0"/><circle cx="287.5" cy="1339.2" r="6.0"/><circle cx="301.0" cy="1303.7" r="6.0"/><circle cx="137.0" cy="1166.0" r="6.0"/><circle cx="75.4" cy="1142.5" r="6.0"/><circle cx="275.2" cy="1236.4" r="6.7"/><circle cx="133.0" cy="1158.0" r="7.0"/><circle cx="140.0" cy="1156.0" r="7.0"/><circle cx="289.9" cy="1327.0" r="7.4"/><circle cx="236.0" cy="1268.0" r="9.0"/><circle cx="205.0" cy="1235.0" r="9.0"/><circle cx="250.0" cy="1262.0" r="10.0"/><circle cx="182.6" cy="1259.6" r="10.0"/><circle cx="177.2" cy="1245.6" r="10.0"/><circle cx="174.5" cy="1222.0" r="10.0"/><circle cx="191.3" cy="1146.0" r="10.4"/><circle cx="225.7" cy="1256.0" r="11.0"/><circle cx="261.0" cy="1368.0" r="11.0"/><circle cx="188.0" cy="1283.4" r="11.0"/><circle cx="249.3" cy="1182.3" r="11.0"/><circle cx="121.3" cy="1176.2" r="11.0"/><circle cx="107.0" cy="1220.7" r="11.0"/><circle cx="198.8" cy="1254.2" r="11.0"/><circle cx="309.4" cy="1220.3" r="12.0"/><circle cx="150.2" cy="1283.4" r="12.0"/><circle cx="96.2" cy="1284.4" r="12.0"/><circle cx="231.0" cy="1199.5" r="12.0"/><circle cx="30.0" cy="1420.0" r="12.0"/><circle cx="60.0" cy="1400.0" r="12.0"/><circle cx="198.8" cy="1299.6" r="13.0"/><circle cx="220.4" cy="1288.8" r="13.0"/><circle cx="107.9" cy="1168.8" r="13.0"/><circle cx="88.6" cy="1225.0" r="13.0"/><circle cx="33.5" cy="1393.2" r="13.0"/><circle cx="242.1" cy="1358.6" r="13.5"/><circle cx="307.0" cy="1190.0" r="13.5"/><circle cx="218.7" cy="1273.0" r="13.5"/><circle cx="166.4" cy="1288.8" r="14.0"/><circle cx="161.0" cy="1312.5" r="14.0"/><circle cx="85.8" cy="1224.0" r="14.7"/><circle cx="262.0" cy="1172.0" r="15.0"/><circle cx="248.9" cy="1388.4" r="15.0"/><circle cx="93.1" cy="1161.5" r="15.0"/><circle cx="90.0" cy="1440.0" r="15.0"/><circle cx="110.0" cy="1425.0" r="15.0"/><circle cx="68.6" cy="1157.0" r="16.0"/><circle cx="297.0" cy="1216.7" r="16.0"/><circle cx="292.2" cy="1433.0" r="16.0"/><circle cx="112.4" cy="1315.7" r="16.0"/><circle cx="58.8" cy="1178.0" r="17.0"/><circle cx="129.0" cy="1362.2" r="17.0"/><circle cx="208.2" cy="1359.9" r="17.0"/><circle cx="92.9" cy="1342.9" r="18.0"/><circle cx="113.5" cy="1350.6" r="18.0"/><circle cx="136.7" cy="1348.0" r="18.0"/><circle cx="300.0" cy="1180.0" r="18.0"/><circle cx="58.0" cy="1464.0" r="19.0"/><circle cx="77.4" cy="1425.4" r="19.0"/><circle cx="103.2" cy="1406.0" r="19.0"/><circle cx="148.3" cy="1451.2" r="19.0"/><circle cx="182.5" cy="1406.0" r="19.0"/><circle cx="58.8" cy="1198.2" r="20.0"/><circle cx="220.4" cy="1358.6" r="20.0"/><circle cx="270.5" cy="1419.5" r="20.0"/><circle cx="36.8" cy="1205.6" r="21.5"/><circle cx="183.9" cy="1388.4" r="21.7"/><circle cx="280.0" cy="1175.0" r="22.0"/><circle cx="48.7" cy="1143.0" r="22.4"/><circle cx="141.9" cy="1393.2" r="23.0"/><circle cx="163.5" cy="1435.8" r="24.0"/><circle cx="154.8" cy="1431.9" r="26.0"/><circle cx="51.5" cy="1244.8" r="28.0"/><circle cx="72.2" cy="1326.1" r="28.0"/><circle cx="42.6" cy="1451.2" r="28.0"/><circle cx="185.2" cy="1435.8" r="30.0"/><circle cx="53.0" cy="1293.0" r="36.0"/></g></g>
<g fill="url(#gB)"><circle cx="590.5" cy="1338.6" r="4.5"/><circle cx="556.7" cy="1324.2" r="3"/><circle cx="592.0" cy="1346.8" r="2.5"/><circle cx="576.2" cy="1345.2" r="4"/><circle cx="586.0" cy="1329.8" r="2.5"/><circle cx="596.7" cy="1321.2" r="3"/><circle cx="607.2" cy="1339.8" r="3"/><circle cx="598.4" cy="1303.7" r="4.5"/><circle cx="590.2" cy="1306.6" r="2.5"/><circle cx="564.5" cy="1308.7" r="3.5"/><circle cx="609.8" cy="1328.0" r="3"/><circle cx="576.8" cy="1301.1" r="4"/><circle cx="564.5" cy="1307.6" r="2.5"/><circle cx="573.9" cy="1342.5" r="4.5"/><circle cx="574.3" cy="1316.1" r="3.5"/><circle cx="582.4" cy="1316.4" r="4"/><circle cx="581.9" cy="1309.2" r="3.5"/><circle cx="597.7" cy="1343.9" r="2.5"/><circle cx="586.3" cy="1321.8" r="4"/><circle cx="557.7" cy="1309.4" r="3"/><circle cx="561.8" cy="1312.8" r="4"/><circle cx="574.6" cy="1318.4" r="4.5"/><circle cx="569.3" cy="1324.1" r="4.5"/><circle cx="597.7" cy="1341.5" r="3.5"/><circle cx="560.2" cy="1317.7" r="4.5"/><circle cx="575.7" cy="1307.7" r="3.5"/><circle cx="607.7" cy="1328.3" r="3.5"/><circle cx="594.1" cy="1315.9" r="2.5"/><circle cx="590.7" cy="1337.5" r="3.5"/><circle cx="585.4" cy="1321.1" r="3"/><circle cx="597.2" cy="1317.9" r="3.5"/><circle cx="581.0" cy="1321.9" r="2.5"/><circle cx="600.7" cy="1317.4" r="3"/><circle cx="562.4" cy="1338.0" r="3"/><circle cx="590.9" cy="1341.0" r="2.5"/><circle cx="564.6" cy="1319.4" r="2.5"/><circle cx="603.1" cy="1315.3" r="4"/><circle cx="607.6" cy="1332.3" r="3"/><circle cx="610.6" cy="1323.6" r="4"/><circle cx="594.3" cy="1316.5" r="3.5"/><circle cx="571.6" cy="1321.0" r="3"/><circle cx="585.3" cy="1309.3" r="4"/><circle cx="604.5" cy="1309.4" r="4"/><circle cx="570.5" cy="1340.7" r="4.5"/><circle cx="575.6" cy="1340.9" r="3.5"/><circle cx="636.3" cy="1335.9" r="3.5"/><circle cx="639.6" cy="1336.7" r="3.5"/><circle cx="648.1" cy="1327.2" r="3"/><circle cx="629.6" cy="1324.8" r="3.5"/><circle cx="634.1" cy="1339.5" r="3.5"/><circle cx="617.3" cy="1327.3" r="4"/><circle cx="644.1" cy="1336.6" r="3.5"/><circle cx="648.0" cy="1332.0" r="4.5"/><circle cx="635.2" cy="1329.2" r="4.5"/><circle cx="640.1" cy="1333.7" r="4"/><circle cx="644.0" cy="1325.3" r="2.5"/><circle cx="633.1" cy="1322.9" r="3"/><circle cx="633.4" cy="1319.1" r="4"/><circle cx="648.6" cy="1331.0" r="4.5"/><circle cx="631.6" cy="1324.4" r="3.5"/><circle cx="617.5" cy="1329.1" r="2.5"/><circle cx="636.0" cy="1332.8" r="2.5"/><circle cx="629.7" cy="1326.1" r="3.5"/><circle cx="629.5" cy="1327.2" r="4.5"/><circle cx="618.2" cy="1327.5" r="3"/><circle cx="633.9" cy="1328.0" r="3"/><circle cx="612.1" cy="1328.3" r="4"/><circle cx="632.4" cy="1327.5" r="2.5"/><circle cx="622.2" cy="1326.8" r="4.5"/><circle cx="629.3" cy="1326.8" r="4.5"/><circle cx="621.9" cy="1329.7" r="3"/><circle cx="627.2" cy="1330.9" r="4"/><circle cx="638.3" cy="1326.1" r="3.5"/><circle cx="623.7" cy="1326.6" r="3.5"/><circle cx="627.1" cy="1325.7" r="4"/><circle cx="648.2" cy="1324.6" r="2.5"/><circle cx="640.2" cy="1340.3" r="2.5"/><circle cx="626.6" cy="1333.1" r="3"/><circle cx="616.1" cy="1325.2" r="3"/><circle cx="637.5" cy="1325.7" r="4"/><circle cx="632.4" cy="1330.8" r="4.5"/><circle cx="632.6" cy="1337.7" r="2.5"/><circle cx="625.9" cy="1327.7" r="4.5"/><circle cx="629.9" cy="1336.5" r="2.5"/><circle cx="645.0" cy="1332.7" r="2.5"/><circle cx="631.8" cy="1336.6" r="4"/><circle cx="643.6" cy="1340.7" r="4"/><circle cx="613.8" cy="1326.0" r="2.5"/><circle cx="640.1" cy="1333.7" r="4"/><circle cx="646.0" cy="1321.9" r="4"/><circle cx="623.5" cy="1392.7" r="3.5"/><circle cx="619.1" cy="1378.8" r="4.5"/><circle cx="626.2" cy="1385.9" r="2.5"/><circle cx="613.3" cy="1378.9" r="2.5"/><circle cx="607.8" cy="1374.8" r="4"/><circle cx="615.6" cy="1370.8" r="4.5"/><circle cx="610.0" cy="1382.7" r="4"/><circle cx="615.2" cy="1384.7" r="2.5"/><circle cx="616.1" cy="1375.4" r="4.5"/><circle cx="617.7" cy="1376.6" r="3.5"/><circle cx="612.3" cy="1383.1" r="4.5"/><circle cx="605.8" cy="1373.1" r="3.5"/><circle cx="610.6" cy="1377.1" r="4"/><circle cx="617.5" cy="1375.7" r="4.5"/><circle cx="605.5" cy="1370.5" r="4"/><circle cx="622.6" cy="1390.6" r="3"/><circle cx="612.3" cy="1384.9" r="3.5"/><circle cx="618.5" cy="1383.8" r="4.5"/><circle cx="610.0" cy="1371.4" r="2.5"/><circle cx="609.7" cy="1367.2" r="4"/><circle cx="616.0" cy="1375.0" r="4.5"/><circle cx="628.3" cy="1392.1" r="4"/><circle cx="608.3" cy="1373.6" r="3.5"/><circle cx="626.9" cy="1388.5" r="3"/><circle cx="612.8" cy="1367.8" r="2.5"/><circle cx="622.9" cy="1380.2" r="3"/><circle cx="609.6" cy="1366.7" r="3"/><circle cx="622.4" cy="1384.5" r="3.5"/><circle cx="609.8" cy="1367.3" r="4.5"/><circle cx="613.8" cy="1368.8" r="2.5"/><circle cx="623.1" cy="1385.3" r="4"/><circle cx="611.2" cy="1378.2" r="3.5"/><circle cx="621.9" cy="1392.3" r="3"/><circle cx="609.0" cy="1381.3" r="4"/><circle cx="609.3" cy="1373.0" r="3.5"/><circle cx="621.5" cy="1379.2" r="3.5"/><circle cx="617.6" cy="1383.1" r="4"/><circle cx="623.3" cy="1392.7" r="3"/><circle cx="617.5" cy="1389.4" r="3.5"/><circle cx="607.6" cy="1368.5" r="3"/><circle cx="623.5" cy="1390.0" r="4.5"/><circle cx="617.8" cy="1373.5" r="3"/><circle cx="626.3" cy="1392.5" r="2.5"/><circle cx="604.8" cy="1370.3" r="2.5"/><circle cx="624.4" cy="1387.0" r="3.5"/><circle cx="646.6" cy="1300.8" r="3.5"/><circle cx="630.1" cy="1299.9" r="3.5"/><circle cx="655.1" cy="1304.4" r="2.5"/><circle cx="657.7" cy="1302.5" r="3.5"/><circle cx="662.9" cy="1305.2" r="3"/><circle cx="645.2" cy="1297.9" r="3"/><circle cx="647.5" cy="1308.4" r="2.5"/><circle cx="634.3" cy="1305.1" r="3"/><circle cx="656.4" cy="1297.8" r="3.5"/><circle cx="641.7" cy="1299.4" r="4.5"/><circle cx="641.2" cy="1302.6" r="3"/><circle cx="648.0" cy="1297.6" r="4"/><circle cx="651.8" cy="1299.1" r="2.5"/><circle cx="624.4" cy="1304.7" r="4"/><circle cx="652.6" cy="1301.3" r="4"/><circle cx="632.1" cy="1300.2" r="3"/><circle cx="635.7" cy="1303.7" r="3"/><circle cx="638.4" cy="1308.1" r="2.5"/><circle cx="649.0" cy="1302.0" r="3"/><circle cx="629.0" cy="1299.6" r="4"/><circle cx="627.1" cy="1306.8" r="3"/><circle cx="656.5" cy="1307.3" r="4"/><circle cx="651.7" cy="1308.9" r="4.5"/><circle cx="651.9" cy="1297.6" r="4.5"/><circle cx="647.6" cy="1298.8" r="4"/><circle cx="648.6" cy="1303.7" r="4.5"/><circle cx="643.0" cy="1306.6" r="4"/><circle cx="641.9" cy="1307.8" r="4.5"/><circle cx="661.8" cy="1306.4" r="2.5"/><circle cx="645.5" cy="1308.0" r="3.5"/><circle cx="655.3" cy="1299.1" r="3.5"/><circle cx="637.9" cy="1304.7" r="4"/><circle cx="634.5" cy="1306.7" r="2.5"/><circle cx="637.8" cy="1308.0" r="4.5"/><circle cx="648.7" cy="1299.1" r="4.5"/><circle cx="637.4" cy="1307.8" r="4"/><circle cx="639.4" cy="1298.7" r="4.5"/><circle cx="648.8" cy="1301.8" r="2.5"/><circle cx="635.3" cy="1308.0" r="4.5"/><circle cx="626.2" cy="1302.2" r="3"/><circle cx="646.8" cy="1308.5" r="4.5"/><circle cx="653.6" cy="1302.3" r="4"/><circle cx="643.3" cy="1304.9" r="3"/><circle cx="635.7" cy="1300.2" r="4.5"/><circle cx="660.4" cy="1301.0" r="4"/><circle cx="478.0" cy="1212.0" r="3.5"/><circle cx="481.0" cy="1205.0" r="3"/><circle cx="484.0" cy="1199.0" r="3"/><circle cx="487.0" cy="1193.0" r="3"/><circle cx="490.0" cy="1187.0" r="3"/><circle cx="492.0" cy="1182.0" r="3"/><circle cx="494.0" cy="1177.0" r="3.5"/><circle cx="527.5" cy="1175.6" r="3"/><circle cx="530.2" cy="1181.0" r="3.5"/><circle cx="533.0" cy="1186.0" r="3"/><circle cx="536.0" cy="1190.0" r="3.5"/><circle cx="539.0" cy="1194.0" r="3"/><circle cx="542.0" cy="1198.0" r="3.5"/><circle cx="544.0" cy="1203.0" r="4"/><circle cx="544.0" cy="1208.0" r="4.5"/><circle cx="542.0" cy="1213.0" r="4"/><circle cx="522.6" cy="1188.6" r="3"/><circle cx="525.0" cy="1184.0" r="3"/><circle cx="493.5" cy="1214.5" r="4"/><circle cx="488.0" cy="1219.0" r="3.5"/><circle cx="483.0" cy="1223.0" r="3.5"/><circle cx="497.0" cy="1211.0" r="3.5"/><circle cx="652.9" cy="1384.9" r="2.5"/><circle cx="666.0" cy="1453.0" r="3"/></g>
<circle cx="488.6" cy="1188" r="14.6" fill="none" stroke="#e8346b" stroke-width="5" stroke-dasharray="4.4 3.2"/>
<circle cx="541.5" cy="1205.9" r="15" fill="none" stroke="#e8346b" stroke-width="5" stroke-dasharray="4.4 3.2"/>
<circle cx="501.6" cy="1243.1" r="14" fill="none" stroke="#e8346b" stroke-width="5" stroke-dasharray="4.4 3.2"/>
<circle cx="583.5" cy="1328.2" r="27.4" fill="none" stroke="#e8346b" stroke-width="5" stroke-dasharray="4.4 3.2"/>
<circle cx="633.5" cy="1327.2" r="13.2" fill="none" stroke="#e8346b" stroke-width="5" stroke-dasharray="4.4 3.2"/>
<circle cx="621.2" cy="1386.7" r="13.2" fill="none" stroke="#e8346b" stroke-width="5" stroke-dasharray="4.4 3.2"/>
<line x1="894.20" y1="1111.50" x2="1372.60" y2="1111.50" stroke="#000" stroke-width="2.2" />
<line x1="894.20" y1="1466.30" x2="1372.60" y2="1466.30" stroke="#000" stroke-width="2.2" />
<line x1="894.20" y1="1110.40" x2="894.20" y2="1467.40" stroke="#000" stroke-width="2.2" />
<line x1="1372.60" y1="1110.40" x2="1372.60" y2="1467.40" stroke="#1a1a9a" stroke-width="2.2" />
<line x1="894.20" y1="1164.90" x2="901.70" y2="1164.90" stroke="#000" stroke-width="2" />
<line x1="894.20" y1="1241.30" x2="901.70" y2="1241.30" stroke="#000" stroke-width="2" />
<line x1="894.20" y1="1371.00" x2="901.70" y2="1371.00" stroke="#000" stroke-width="2" />
<line x1="894.20" y1="1115.61" x2="898.00" y2="1115.61" stroke="#000" stroke-width="1.6" />
<line x1="894.20" y1="1119.72" x2="898.00" y2="1119.72" stroke="#000" stroke-width="1.6" />
<line x1="894.20" y1="1123.82" x2="898.00" y2="1123.82" stroke="#000" stroke-width="1.6" />
<line x1="894.20" y1="1127.93" x2="898.00" y2="1127.93" stroke="#000" stroke-width="1.6" />
<line x1="894.20" y1="1132.04" x2="898.00" y2="1132.04" stroke="#000" stroke-width="1.6" />
<line x1="894.20" y1="1136.15" x2="898.00" y2="1136.15" stroke="#000" stroke-width="1.6" />
<line x1="894.20" y1="1140.25" x2="898.00" y2="1140.25" stroke="#000" stroke-width="1.6" />
<line x1="894.20" y1="1144.36" x2="898.00" y2="1144.36" stroke="#000" stroke-width="1.6" />
<line x1="894.20" y1="1148.47" x2="898.00" y2="1148.47" stroke="#000" stroke-width="1.6" />
<line x1="894.20" y1="1152.58" x2="898.00" y2="1152.58" stroke="#000" stroke-width="1.6" />
<line x1="894.20" y1="1156.68" x2="898.00" y2="1156.68" stroke="#000" stroke-width="1.6" />
<line x1="894.20" y1="1160.79" x2="898.00" y2="1160.79" stroke="#000" stroke-width="1.6" />
<line x1="894.20" y1="1171.10" x2="898.00" y2="1171.10" stroke="#000" stroke-width="1.6" />
<line x1="894.20" y1="1176.40" x2="898.00" y2="1176.40" stroke="#000" stroke-width="1.6" />
<line x1="894.20" y1="1182.40" x2="898.00" y2="1182.40" stroke="#000" stroke-width="1.6" />
<line x1="894.20" y1="1188.30" x2="898.00" y2="1188.30" stroke="#000" stroke-width="1.6" />
<line x1="894.20" y1="1194.30" x2="898.00" y2="1194.30" stroke="#000" stroke-width="1.6" />
<line x1="894.20" y1="1200.30" x2="898.00" y2="1200.30" stroke="#000" stroke-width="1.6" />
<line x1="894.20" y1="1206.20" x2="898.00" y2="1206.20" stroke="#000" stroke-width="1.6" />
<line x1="894.20" y1="1212.20" x2="898.00" y2="1212.20" stroke="#000" stroke-width="1.6" />
<line x1="894.20" y1="1218.90" x2="898.00" y2="1218.90" stroke="#000" stroke-width="1.6" />
<line x1="894.20" y1="1225.30" x2="898.00" y2="1225.30" stroke="#000" stroke-width="1.6" />
<line x1="894.20" y1="1230.80" x2="898.00" y2="1230.80" stroke="#000" stroke-width="1.6" />
<line x1="894.20" y1="1236.50" x2="898.00" y2="1236.50" stroke="#000" stroke-width="1.6" />
<line x1="894.20" y1="1250.40" x2="898.00" y2="1250.40" stroke="#000" stroke-width="1.6" />
<line x1="894.20" y1="1257.10" x2="898.00" y2="1257.10" stroke="#000" stroke-width="1.6" />
<line x1="894.20" y1="1264.70" x2="898.00" y2="1264.70" stroke="#000" stroke-width="1.6" />
<line x1="894.20" y1="1275.50" x2="898.00" y2="1275.50" stroke="#000" stroke-width="1.6" />
<line x1="894.20" y1="1288.60" x2="898.00" y2="1288.60" stroke="#000" stroke-width="1.6" />
<line x1="894.20" y1="1302.90" x2="898.00" y2="1302.90" stroke="#000" stroke-width="1.6" />
<line x1="894.20" y1="1317.70" x2="898.00" y2="1317.70" stroke="#000" stroke-width="1.6" />
<line x1="894.20" y1="1333.90" x2="898.00" y2="1333.90" stroke="#000" stroke-width="1.6" />
<line x1="894.20" y1="1344.70" x2="898.00" y2="1344.70" stroke="#000" stroke-width="1.6" />
<line x1="894.20" y1="1393.60" x2="898.00" y2="1393.60" stroke="#000" stroke-width="1.6" />
<line x1="894.20" y1="1417.50" x2="898.00" y2="1417.50" stroke="#000" stroke-width="1.6" />
<line x1="894.20" y1="1447.30" x2="898.00" y2="1447.30" stroke="#000" stroke-width="1.6" />
<line x1="924.20" y1="1466.30" x2="924.20" y2="1458.80" stroke="#000" stroke-width="2" />
<line x1="954.12" y1="1466.30" x2="954.12" y2="1462.30" stroke="#000" stroke-width="2" />
<line x1="984.05" y1="1466.30" x2="984.05" y2="1458.80" stroke="#000" stroke-width="2" />
<line x1="1013.98" y1="1466.30" x2="1013.98" y2="1462.30" stroke="#000" stroke-width="2" />
<line x1="1043.90" y1="1466.30" x2="1043.90" y2="1458.80" stroke="#000" stroke-width="2" />
<line x1="1073.83" y1="1466.30" x2="1073.83" y2="1462.30" stroke="#000" stroke-width="2" />
<line x1="1103.75" y1="1466.30" x2="1103.75" y2="1458.80" stroke="#000" stroke-width="2" />
<line x1="1133.68" y1="1466.30" x2="1133.68" y2="1462.30" stroke="#000" stroke-width="2" />
<line x1="1163.60" y1="1466.30" x2="1163.60" y2="1458.80" stroke="#000" stroke-width="2" />
<line x1="1193.53" y1="1466.30" x2="1193.53" y2="1462.30" stroke="#000" stroke-width="2" />
<line x1="1223.45" y1="1466.30" x2="1223.45" y2="1458.80" stroke="#000" stroke-width="2" />
<line x1="1253.38" y1="1466.30" x2="1253.38" y2="1462.30" stroke="#000" stroke-width="2" />
<line x1="1283.30" y1="1466.30" x2="1283.30" y2="1458.80" stroke="#000" stroke-width="2" />
<line x1="1313.23" y1="1466.30" x2="1313.23" y2="1462.30" stroke="#000" stroke-width="2" />
<line x1="1343.15" y1="1466.30" x2="1343.15" y2="1458.80" stroke="#000" stroke-width="2" />
<line x1="1372.60" y1="1212.50" x2="1366.60" y2="1212.50" stroke="#1a1a9a" stroke-width="2" />
<line x1="1372.60" y1="1313.50" x2="1366.60" y2="1313.50" stroke="#1a1a9a" stroke-width="2" />
<line x1="1372.60" y1="1414.50" x2="1366.60" y2="1414.50" stroke="#1a1a9a" stroke-width="2" />
<line x1="1372.60" y1="1454.69" x2="1369.10" y2="1454.69" stroke="#1a1a9a" stroke-width="1.6" />
<line x1="1372.60" y1="1444.90" x2="1369.10" y2="1444.90" stroke="#1a1a9a" stroke-width="1.6" />
<line x1="1372.60" y1="1436.91" x2="1369.10" y2="1436.91" stroke="#1a1a9a" stroke-width="1.6" />
<line x1="1372.60" y1="1430.15" x2="1369.10" y2="1430.15" stroke="#1a1a9a" stroke-width="1.6" />
<line x1="1372.60" y1="1424.29" x2="1369.10" y2="1424.29" stroke="#1a1a9a" stroke-width="1.6" />
<line x1="1372.60" y1="1419.12" x2="1369.10" y2="1419.12" stroke="#1a1a9a" stroke-width="1.6" />
<line x1="1372.60" y1="1384.10" x2="1369.10" y2="1384.10" stroke="#1a1a9a" stroke-width="1.6" />
<line x1="1372.60" y1="1366.31" x2="1369.10" y2="1366.31" stroke="#1a1a9a" stroke-width="1.6" />
<line x1="1372.60" y1="1353.69" x2="1369.10" y2="1353.69" stroke="#1a1a9a" stroke-width="1.6" />
<line x1="1372.60" y1="1343.90" x2="1369.10" y2="1343.90" stroke="#1a1a9a" stroke-width="1.6" />
<line x1="1372.60" y1="1335.91" x2="1369.10" y2="1335.91" stroke="#1a1a9a" stroke-width="1.6" />
<line x1="1372.60" y1="1329.15" x2="1369.10" y2="1329.15" stroke="#1a1a9a" stroke-width="1.6" />
<line x1="1372.60" y1="1323.29" x2="1369.10" y2="1323.29" stroke="#1a1a9a" stroke-width="1.6" />
<line x1="1372.60" y1="1318.12" x2="1369.10" y2="1318.12" stroke="#1a1a9a" stroke-width="1.6" />
<line x1="1372.60" y1="1283.10" x2="1369.10" y2="1283.10" stroke="#1a1a9a" stroke-width="1.6" />
<line x1="1372.60" y1="1265.31" x2="1369.10" y2="1265.31" stroke="#1a1a9a" stroke-width="1.6" />
<line x1="1372.60" y1="1252.69" x2="1369.10" y2="1252.69" stroke="#1a1a9a" stroke-width="1.6" />
<line x1="1372.60" y1="1242.90" x2="1369.10" y2="1242.90" stroke="#1a1a9a" stroke-width="1.6" />
<line x1="1372.60" y1="1234.91" x2="1369.10" y2="1234.91" stroke="#1a1a9a" stroke-width="1.6" />
<line x1="1372.60" y1="1228.15" x2="1369.10" y2="1228.15" stroke="#1a1a9a" stroke-width="1.6" />
<line x1="1372.60" y1="1222.29" x2="1369.10" y2="1222.29" stroke="#1a1a9a" stroke-width="1.6" />
<line x1="1372.60" y1="1217.12" x2="1369.10" y2="1217.12" stroke="#1a1a9a" stroke-width="1.6" />
<line x1="1372.60" y1="1182.10" x2="1369.10" y2="1182.10" stroke="#1a1a9a" stroke-width="1.6" />
<line x1="1372.60" y1="1164.31" x2="1369.10" y2="1164.31" stroke="#1a1a9a" stroke-width="1.6" />
<line x1="1372.60" y1="1151.69" x2="1369.10" y2="1151.69" stroke="#1a1a9a" stroke-width="1.6" />
<line x1="1372.60" y1="1141.90" x2="1369.10" y2="1141.90" stroke="#1a1a9a" stroke-width="1.6" />
<line x1="1372.60" y1="1133.91" x2="1369.10" y2="1133.91" stroke="#1a1a9a" stroke-width="1.6" />
<line x1="1372.60" y1="1127.15" x2="1369.10" y2="1127.15" stroke="#1a1a9a" stroke-width="1.6" />
<line x1="1372.60" y1="1121.29" x2="1369.10" y2="1121.29" stroke="#1a1a9a" stroke-width="1.6" />
<line x1="1372.60" y1="1116.12" x2="1369.10" y2="1116.12" stroke="#1a1a9a" stroke-width="1.6" />
<text transform="translate(880.50,1121.50) scale(0.962,1)" font-size="29.82" fill="#000" text-anchor="end" ><tspan>8 </tspan><tspan dy="3.13" font-size="36.38" style="font-family:Liberation Serif">×</tspan><tspan dy="-3.13"> 10</tspan><tspan dy="-13.27" font-size="20.28">4</tspan></text>
<text transform="translate(880.50,1174.90) scale(0.962,1)" font-size="29.82" fill="#000" text-anchor="end" ><tspan>6 </tspan><tspan dy="3.13" font-size="36.38" style="font-family:Liberation Serif">×</tspan><tspan dy="-3.13"> 10</tspan><tspan dy="-13.27" font-size="20.28">4</tspan></text>
<text transform="translate(880.50,1251.30) scale(0.962,1)" font-size="29.82" fill="#000" text-anchor="end" ><tspan>4 </tspan><tspan dy="3.13" font-size="36.38" style="font-family:Liberation Serif">×</tspan><tspan dy="-3.13"> 10</tspan><tspan dy="-13.27" font-size="20.28">4</tspan></text>
<text transform="translate(880.50,1381.00) scale(0.962,1)" font-size="29.82" fill="#000" text-anchor="end" ><tspan>2 </tspan><tspan dy="3.13" font-size="36.38" style="font-family:Liberation Serif">×</tspan><tspan dy="-3.13"> 10</tspan><tspan dy="-13.27" font-size="20.28">4</tspan></text>
<text transform="translate(1386.50,1121.70) scale(0.962,1)" font-size="29.82" fill="#1c2454" text-anchor="start" ><tspan>10</tspan><tspan dy="-13.27" font-size="20.28">3</tspan></text>
<text transform="translate(1386.50,1222.70) scale(0.962,1)" font-size="29.82" fill="#1c2454" text-anchor="start" ><tspan>10</tspan><tspan dy="-13.27" font-size="20.28">2</tspan></text>
<text transform="translate(1386.50,1323.70) scale(0.962,1)" font-size="29.82" fill="#1c2454" text-anchor="start" ><tspan>10</tspan><tspan dy="-13.27" font-size="20.28">1</tspan></text>
<text transform="translate(1386.50,1424.70) scale(0.962,1)" font-size="29.82" fill="#1c2454" text-anchor="start" ><tspan>10</tspan><tspan dy="-13.27" font-size="20.28">0</tspan></text>
<text transform="translate(924.20,1501.00) scale(0.962,1)" font-size="29.82" fill="#000" text-anchor="middle" ><tspan>0</tspan></text>
<text transform="translate(984.05,1501.00) scale(0.962,1)" font-size="29.82" fill="#000" text-anchor="middle" ><tspan>100</tspan></text>
<text transform="translate(1043.90,1501.00) scale(0.962,1)" font-size="29.82" fill="#000" text-anchor="middle" ><tspan>200</tspan></text>
<text transform="translate(1103.75,1501.00) scale(0.962,1)" font-size="29.82" fill="#000" text-anchor="middle" ><tspan>300</tspan></text>
<text transform="translate(1163.60,1501.00) scale(0.962,1)" font-size="29.82" fill="#000" text-anchor="middle" ><tspan>400</tspan></text>
<text transform="translate(1223.45,1501.00) scale(0.962,1)" font-size="29.82" fill="#000" text-anchor="middle" ><tspan>500</tspan></text>
<text transform="translate(1283.30,1501.00) scale(0.962,1)" font-size="29.82" fill="#000" text-anchor="middle" ><tspan>600</tspan></text>
<text transform="translate(1343.15,1501.00) scale(0.962,1)" font-size="29.82" fill="#000" text-anchor="middle" ><tspan>700</tspan></text>
<text transform="translate(1133.50,1543.20) scale(0.962,1)" font-size="30.3525" fill="#000" text-anchor="middle" ><tspan>Time (h)</tspan></text>
<text transform="translate(761.80,1289.10) rotate(-90) scale(0.962,1)" font-size="30.3525" fill="#000" text-anchor="middle" ><tspan>H</tspan><tspan dy="8.50" font-size="20.64">2</tspan><tspan dy="-8.50"> Permeability (barrer)</tspan></text>
<text transform="translate(1474.30,1290.50) rotate(-90) scale(0.962,1)" font-size="30.3525" fill="#1e1e8c" text-anchor="middle" ><tspan>Selectivity (H</tspan><tspan dy="8.50" font-size="20.64">2</tspan><tspan dy="-8.50">/CO</tspan><tspan dy="8.50" font-size="20.64">2</tspan><tspan dy="-8.50">)</tspan></text>
<path d="M914.40,1340.90L932.20,1340.90L923.30,1324.70Z" fill="#b8661b"/>
<path d="M928.79,1341.87L946.59,1341.87L937.69,1325.67Z" fill="#b8661b"/>
<path d="M943.17,1339.92L960.97,1339.92L952.07,1323.72Z" fill="#b8661b"/>
<path d="M957.56,1340.90L975.36,1340.90L966.46,1324.70Z" fill="#b8661b"/>
<path d="M971.94,1339.28L989.74,1339.28L980.84,1323.08Z" fill="#b8661b"/>
<path d="M986.33,1340.90L1004.13,1340.90L995.23,1324.70Z" fill="#b8661b"/>
<path d="M1000.72,1341.87L1018.52,1341.87L1009.62,1325.67Z" fill="#b8661b"/>
<path d="M1015.10,1340.90L1032.90,1340.90L1024.00,1324.70Z" fill="#b8661b"/>
<path d="M1029.49,1340.25L1047.29,1340.25L1038.39,1324.05Z" fill="#b8661b"/>
<path d="M1043.87,1341.87L1061.67,1341.87L1052.77,1325.67Z" fill="#b8661b"/>
<path d="M1058.26,1340.90L1076.06,1340.90L1067.16,1324.70Z" fill="#b8661b"/>
<path d="M1072.65,1339.92L1090.45,1339.92L1081.55,1323.72Z" fill="#b8661b"/>
<path d="M1087.03,1340.90L1104.83,1340.90L1095.93,1324.70Z" fill="#b8661b"/>
<path d="M1101.42,1341.87L1119.22,1341.87L1110.32,1325.67Z" fill="#b8661b"/>
<path d="M1115.80,1340.25L1133.60,1340.25L1124.70,1324.05Z" fill="#b8661b"/>
<path d="M1130.19,1339.28L1147.99,1339.28L1139.09,1323.08Z" fill="#b8661b"/>
<path d="M1144.58,1342.52L1162.38,1342.52L1153.48,1326.32Z" fill="#b8661b"/>
<path d="M1158.96,1342.52L1176.76,1342.52L1167.86,1326.32Z" fill="#b8661b"/>
<path d="M1173.35,1341.22L1191.15,1341.22L1182.25,1325.02Z" fill="#b8661b"/>
<path d="M1187.73,1340.90L1205.53,1340.90L1196.63,1324.70Z" fill="#b8661b"/>
<path d="M1202.12,1340.90L1219.92,1340.90L1211.02,1324.70Z" fill="#b8661b"/>
<path d="M1216.51,1342.52L1234.31,1342.52L1225.41,1326.32Z" fill="#b8661b"/>
<path d="M1230.89,1340.90L1248.69,1340.90L1239.79,1324.70Z" fill="#b8661b"/>
<path d="M1245.28,1340.90L1263.08,1340.90L1254.18,1324.70Z" fill="#b8661b"/>
<path d="M1259.66,1340.90L1277.46,1340.90L1268.56,1324.70Z" fill="#b8661b"/>
<path d="M1274.05,1340.90L1291.85,1340.90L1282.95,1324.70Z" fill="#b8661b"/>
<path d="M1288.44,1342.52L1306.24,1342.52L1297.34,1326.32Z" fill="#b8661b"/>
<path d="M1302.82,1340.90L1320.62,1340.90L1311.72,1324.70Z" fill="#b8661b"/>
<path d="M1317.21,1340.90L1335.01,1340.90L1326.11,1324.70Z" fill="#b8661b"/>
<path d="M1331.59,1340.25L1349.39,1340.25L1340.49,1324.05Z" fill="#b8661b"/>
<circle cx="923.30" cy="1235.63" r="7.9" fill="#00a651"/>
<circle cx="937.69" cy="1240.49" r="7.9" fill="#00a651"/>
<circle cx="952.07" cy="1236.60" r="7.9" fill="#00a651"/>
<circle cx="966.46" cy="1235.63" r="7.9" fill="#00a651"/>
<circle cx="980.84" cy="1231.74" r="7.9" fill="#00a651"/>
<circle cx="995.23" cy="1237.89" r="7.9" fill="#00a651"/>
<circle cx="1009.62" cy="1241.46" r="7.9" fill="#00a651"/>
<circle cx="1024.00" cy="1240.49" r="7.9" fill="#00a651"/>
<circle cx="1038.39" cy="1234.66" r="7.9" fill="#00a651"/>
<circle cx="1052.77" cy="1240.49" r="7.9" fill="#00a651"/>
<circle cx="1067.16" cy="1237.89" r="7.9" fill="#00a651"/>
<circle cx="1081.55" cy="1238.22" r="7.9" fill="#00a651"/>
<circle cx="1095.93" cy="1234.98" r="7.9" fill="#00a651"/>
<circle cx="1110.32" cy="1239.51" r="7.9" fill="#00a651"/>
<circle cx="1124.70" cy="1237.89" r="7.9" fill="#00a651"/>
<circle cx="1139.09" cy="1236.28" r="7.9" fill="#00a651"/>
<circle cx="1153.48" cy="1239.51" r="7.9" fill="#00a651"/>
<circle cx="1167.86" cy="1241.13" r="7.9" fill="#00a651"/>
<circle cx="1182.25" cy="1237.57" r="7.9" fill="#00a651"/>
<circle cx="1196.63" cy="1235.95" r="7.9" fill="#00a651"/>
<circle cx="1211.02" cy="1236.92" r="7.9" fill="#00a651"/>
<circle cx="1225.41" cy="1238.54" r="7.9" fill="#00a651"/>
<circle cx="1239.79" cy="1234.98" r="7.9" fill="#00a651"/>
<circle cx="1254.18" cy="1237.25" r="7.9" fill="#00a651"/>
<circle cx="1268.56" cy="1238.22" r="7.9" fill="#00a651"/>
<circle cx="1282.95" cy="1234.98" r="7.9" fill="#00a651"/>
<circle cx="1297.34" cy="1241.46" r="7.9" fill="#00a651"/>
<circle cx="1311.72" cy="1237.89" r="7.9" fill="#00a651"/>
<circle cx="1326.11" cy="1240.16" r="7.9" fill="#00a651"/>
<circle cx="1340.49" cy="1235.63" r="7.9" fill="#00a651"/>
<circle cx="1129.5" cy="1143.6" r="5.6" fill="#00a651"/>
<path d="M1123.2,1196.8L1137.4,1196.8L1130.3,1184.6Z" fill="#b8661b"/>
<text transform="translate(1145.90,1152.60) scale(1.0553139999999999,1)" font-size="23.642999999999997" fill="#0f8f4c" text-anchor="start" ><tspan>Permeability (H</tspan><tspan dy="6.62" font-size="16.08">2</tspan><tspan dy="-6.62">)</tspan></text>
<text transform="translate(1145.90,1198.70) scale(1.0553139999999999,1)" font-size="23.642999999999997" fill="#8a5d1c" text-anchor="start" ><tspan>Selectivity (H</tspan><tspan dy="6.62" font-size="16.08">2</tspan><tspan dy="-6.62">/CO</tspan><tspan dy="6.62" font-size="16.08">2</tspan><tspan dy="-6.62">)</tspan></text>
</svg></body></html>
